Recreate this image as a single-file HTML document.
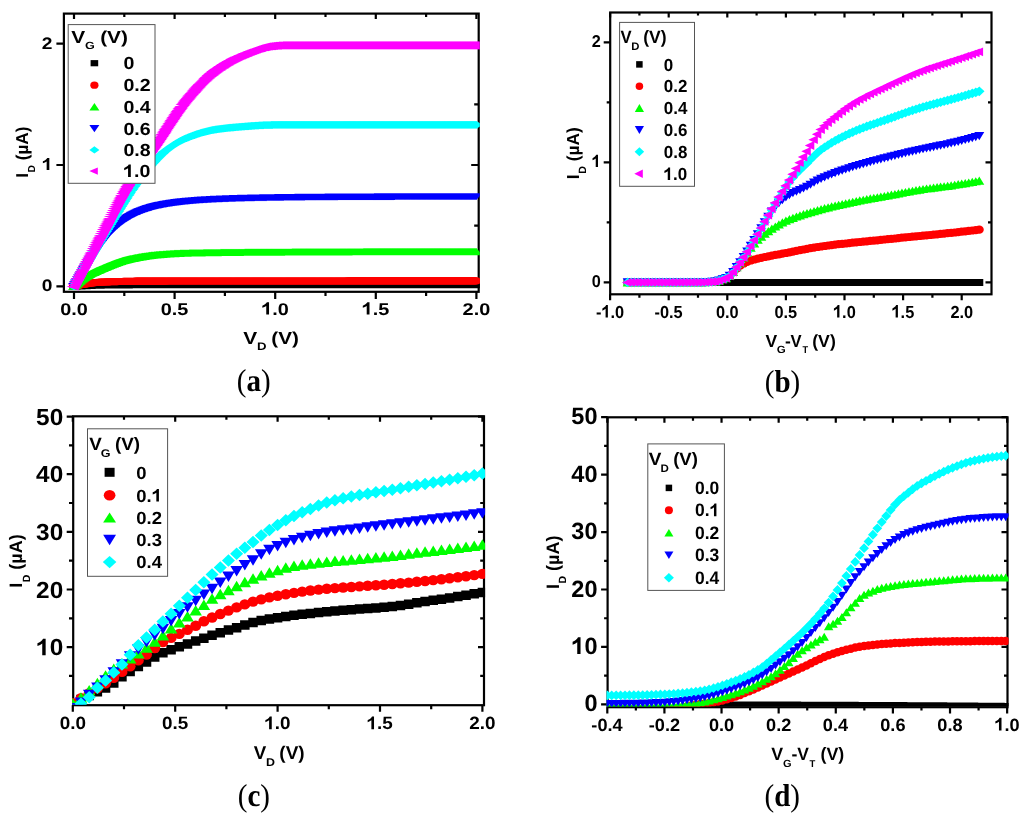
<!DOCTYPE html>
<html><head><meta charset="utf-8"><style>html,body{margin:0;padding:0;background:#fff;}body{width:1024px;height:820px;overflow:hidden;font-family:"Liberation Sans",sans-serif;}svg{display:block;}#root{filter:blur(0.35px);}text{text-rendering:geometricPrecision;}</style></head><body>
<svg id="root" width="1024" height="820" viewBox="0 0 1024 820">
<rect width="1024" height="820" fill="#fff"/>
<g>
<svg x="0" y="0" width="1024" height="820" overflow="visible">
<rect x="63.90" y="13.60" width="414.80" height="278.20" fill="none" stroke="#000" stroke-width="2.20"/>
<path stroke="#000" stroke-width="2.20" fill="none" d="M74.00 291.80v7.20M74.00 13.60v5.50M174.60 291.80v7.20M174.60 13.60v5.50M275.20 291.80v7.20M275.20 13.60v5.50M375.80 291.80v7.20M375.80 13.60v5.50M476.40 291.80v7.20M476.40 13.60v5.50"/>
<path stroke="#000" stroke-width="2.20" fill="none" d="M124.30 291.80v4.20M124.30 13.60v3.50M224.90 291.80v4.20M224.90 13.60v3.50M325.50 291.80v4.20M325.50 13.60v3.50M426.10 291.80v4.20M426.10 13.60v3.50"/>
<path stroke="#000" stroke-width="2.20" fill="none" d="M63.90 286.40h-7.50M478.70 286.40h-7.50M63.90 165.00h-7.50M478.70 165.00h-7.50M63.90 43.60h-7.50M478.70 43.60h-7.50"/>
<path stroke="#000" stroke-width="2.20" fill="none" d="M478.70 225.70h-4.50M478.70 104.30h-4.50"/>
<defs><clipPath id="ca"><rect x="62.8" y="12.5" width="417.0" height="280.4"/></clipPath></defs>
<g clip-path="url(#ca)">
<path fill="#000000" d="M69.50 283.00h9.00v6.80h-9.00zM70.51 282.94h9.00v6.80h-9.00zM71.51 282.88h9.00v6.80h-9.00zM72.52 282.82h9.00v6.80h-9.00zM73.52 282.76h9.00v6.80h-9.00zM74.53 282.70h9.00v6.80h-9.00zM75.54 282.64h9.00v6.80h-9.00zM76.54 282.59h9.00v6.80h-9.00zM77.55 282.53h9.00v6.80h-9.00zM78.55 282.48h9.00v6.80h-9.00zM79.56 282.43h9.00v6.80h-9.00zM80.57 282.38h9.00v6.80h-9.00zM81.57 282.33h9.00v6.80h-9.00zM82.58 282.28h9.00v6.80h-9.00zM83.58 282.24h9.00v6.80h-9.00zM84.59 282.19h9.00v6.80h-9.00zM85.60 282.15h9.00v6.80h-9.00zM86.60 282.11h9.00v6.80h-9.00zM87.61 282.07h9.00v6.80h-9.00zM88.61 282.04h9.00v6.80h-9.00zM89.62 282.01h9.00v6.80h-9.00zM90.63 281.97h9.00v6.80h-9.00zM91.63 281.94h9.00v6.80h-9.00zM92.64 281.92h9.00v6.80h-9.00zM93.64 281.89h9.00v6.80h-9.00zM94.65 281.87h9.00v6.80h-9.00zM95.66 281.84h9.00v6.80h-9.00zM96.66 281.82h9.00v6.80h-9.00zM97.67 281.80h9.00v6.80h-9.00zM98.67 281.78h9.00v6.80h-9.00zM99.68 281.76h9.00v6.80h-9.00zM100.69 281.75h9.00v6.80h-9.00zM101.69 281.73h9.00v6.80h-9.00zM102.70 281.72h9.00v6.80h-9.00zM103.70 281.71h9.00v6.80h-9.00zM104.71 281.69h9.00v6.80h-9.00zM105.72 281.68h9.00v6.80h-9.00zM106.72 281.67h9.00v6.80h-9.00zM107.73 281.66h9.00v6.80h-9.00zM108.73 281.65h9.00v6.80h-9.00zM109.74 281.64h9.00v6.80h-9.00zM110.75 281.64h9.00v6.80h-9.00zM111.75 281.63h9.00v6.80h-9.00zM112.76 281.62h9.00v6.80h-9.00zM113.76 281.62h9.00v6.80h-9.00zM114.77 281.61h9.00v6.80h-9.00zM115.78 281.60h9.00v6.80h-9.00zM116.78 281.60h9.00v6.80h-9.00zM117.79 281.60h9.00v6.80h-9.00zM118.79 281.59h9.00v6.80h-9.00zM119.80 281.59h9.00v6.80h-9.00zM120.81 281.58h9.00v6.80h-9.00zM121.81 281.58h9.00v6.80h-9.00zM122.82 281.58h9.00v6.80h-9.00zM123.82 281.58h9.00v6.80h-9.00zM124.83 281.57h9.00v6.80h-9.00zM125.84 281.57h9.00v6.80h-9.00zM126.84 281.57h9.00v6.80h-9.00zM127.85 281.57h9.00v6.80h-9.00zM128.85 281.56h9.00v6.80h-9.00zM129.86 281.56h9.00v6.80h-9.00zM130.87 281.56h9.00v6.80h-9.00zM131.87 281.56h9.00v6.80h-9.00zM132.88 281.56h9.00v6.80h-9.00zM133.88 281.56h9.00v6.80h-9.00zM134.89 281.56h9.00v6.80h-9.00zM135.90 281.56h9.00v6.80h-9.00zM136.90 281.55h9.00v6.80h-9.00zM137.91 281.55h9.00v6.80h-9.00zM138.91 281.55h9.00v6.80h-9.00zM139.92 281.55h9.00v6.80h-9.00zM140.93 281.55h9.00v6.80h-9.00zM141.93 281.55h9.00v6.80h-9.00zM142.94 281.55h9.00v6.80h-9.00zM143.94 281.55h9.00v6.80h-9.00zM144.95 281.55h9.00v6.80h-9.00zM145.96 281.55h9.00v6.80h-9.00zM146.96 281.55h9.00v6.80h-9.00zM147.97 281.55h9.00v6.80h-9.00zM148.97 281.55h9.00v6.80h-9.00zM149.98 281.55h9.00v6.80h-9.00zM150.99 281.55h9.00v6.80h-9.00zM151.99 281.55h9.00v6.80h-9.00zM153.00 281.55h9.00v6.80h-9.00zM154.00 281.55h9.00v6.80h-9.00zM155.01 281.55h9.00v6.80h-9.00zM156.02 281.55h9.00v6.80h-9.00zM157.02 281.55h9.00v6.80h-9.00zM158.03 281.55h9.00v6.80h-9.00zM159.03 281.54h9.00v6.80h-9.00zM160.04 281.54h9.00v6.80h-9.00zM161.05 281.54h9.00v6.80h-9.00zM162.05 281.54h9.00v6.80h-9.00zM163.06 281.54h9.00v6.80h-9.00zM164.06 281.54h9.00v6.80h-9.00zM165.07 281.54h9.00v6.80h-9.00zM166.08 281.54h9.00v6.80h-9.00zM167.08 281.54h9.00v6.80h-9.00zM168.09 281.54h9.00v6.80h-9.00zM169.09 281.54h9.00v6.80h-9.00zM170.10 281.54h9.00v6.80h-9.00zM171.11 281.54h9.00v6.80h-9.00zM172.11 281.54h9.00v6.80h-9.00zM173.12 281.54h9.00v6.80h-9.00zM174.12 281.54h9.00v6.80h-9.00zM175.13 281.54h9.00v6.80h-9.00zM176.14 281.54h9.00v6.80h-9.00zM177.14 281.54h9.00v6.80h-9.00zM178.15 281.54h9.00v6.80h-9.00zM179.15 281.54h9.00v6.80h-9.00zM180.16 281.54h9.00v6.80h-9.00zM181.17 281.54h9.00v6.80h-9.00zM182.17 281.54h9.00v6.80h-9.00zM183.18 281.54h9.00v6.80h-9.00zM184.18 281.54h9.00v6.80h-9.00zM185.19 281.54h9.00v6.80h-9.00zM186.20 281.54h9.00v6.80h-9.00zM187.20 281.54h9.00v6.80h-9.00zM188.21 281.54h9.00v6.80h-9.00zM189.21 281.54h9.00v6.80h-9.00zM190.22 281.54h9.00v6.80h-9.00zM191.23 281.54h9.00v6.80h-9.00zM192.23 281.54h9.00v6.80h-9.00zM193.24 281.54h9.00v6.80h-9.00zM194.24 281.54h9.00v6.80h-9.00zM195.25 281.54h9.00v6.80h-9.00zM196.26 281.54h9.00v6.80h-9.00zM197.26 281.54h9.00v6.80h-9.00zM198.27 281.54h9.00v6.80h-9.00zM199.27 281.54h9.00v6.80h-9.00zM200.28 281.54h9.00v6.80h-9.00zM201.29 281.54h9.00v6.80h-9.00zM202.29 281.54h9.00v6.80h-9.00zM203.30 281.54h9.00v6.80h-9.00zM204.30 281.54h9.00v6.80h-9.00zM205.31 281.54h9.00v6.80h-9.00zM206.32 281.54h9.00v6.80h-9.00zM207.32 281.54h9.00v6.80h-9.00zM208.33 281.54h9.00v6.80h-9.00zM209.33 281.54h9.00v6.80h-9.00zM210.34 281.54h9.00v6.80h-9.00zM211.35 281.54h9.00v6.80h-9.00zM212.35 281.54h9.00v6.80h-9.00zM213.36 281.54h9.00v6.80h-9.00zM214.36 281.54h9.00v6.80h-9.00zM215.37 281.54h9.00v6.80h-9.00zM216.38 281.54h9.00v6.80h-9.00zM217.38 281.54h9.00v6.80h-9.00zM218.39 281.54h9.00v6.80h-9.00zM219.39 281.54h9.00v6.80h-9.00zM220.40 281.54h9.00v6.80h-9.00zM221.41 281.54h9.00v6.80h-9.00zM222.41 281.54h9.00v6.80h-9.00zM223.42 281.54h9.00v6.80h-9.00zM224.42 281.54h9.00v6.80h-9.00zM225.43 281.54h9.00v6.80h-9.00zM226.44 281.54h9.00v6.80h-9.00zM227.44 281.54h9.00v6.80h-9.00zM228.45 281.54h9.00v6.80h-9.00zM229.45 281.54h9.00v6.80h-9.00zM230.46 281.54h9.00v6.80h-9.00zM231.47 281.54h9.00v6.80h-9.00zM232.47 281.54h9.00v6.80h-9.00zM233.48 281.54h9.00v6.80h-9.00zM234.48 281.54h9.00v6.80h-9.00zM235.49 281.54h9.00v6.80h-9.00zM236.50 281.54h9.00v6.80h-9.00zM237.50 281.54h9.00v6.80h-9.00zM238.51 281.54h9.00v6.80h-9.00zM239.51 281.54h9.00v6.80h-9.00zM240.52 281.54h9.00v6.80h-9.00zM241.53 281.54h9.00v6.80h-9.00zM242.53 281.54h9.00v6.80h-9.00zM243.54 281.54h9.00v6.80h-9.00zM244.54 281.54h9.00v6.80h-9.00zM245.55 281.54h9.00v6.80h-9.00zM246.56 281.54h9.00v6.80h-9.00zM247.56 281.54h9.00v6.80h-9.00zM248.57 281.54h9.00v6.80h-9.00zM249.57 281.54h9.00v6.80h-9.00zM250.58 281.54h9.00v6.80h-9.00zM251.59 281.54h9.00v6.80h-9.00zM252.59 281.54h9.00v6.80h-9.00zM253.60 281.54h9.00v6.80h-9.00zM254.60 281.54h9.00v6.80h-9.00zM255.61 281.54h9.00v6.80h-9.00zM256.62 281.54h9.00v6.80h-9.00zM257.62 281.54h9.00v6.80h-9.00zM258.63 281.54h9.00v6.80h-9.00zM259.63 281.54h9.00v6.80h-9.00zM260.64 281.54h9.00v6.80h-9.00zM261.65 281.54h9.00v6.80h-9.00zM262.65 281.54h9.00v6.80h-9.00zM263.66 281.54h9.00v6.80h-9.00zM264.66 281.54h9.00v6.80h-9.00zM265.67 281.54h9.00v6.80h-9.00zM266.68 281.54h9.00v6.80h-9.00zM267.68 281.54h9.00v6.80h-9.00zM268.69 281.54h9.00v6.80h-9.00zM269.69 281.54h9.00v6.80h-9.00zM270.70 281.54h9.00v6.80h-9.00zM271.71 281.54h9.00v6.80h-9.00zM272.71 281.54h9.00v6.80h-9.00zM273.72 281.54h9.00v6.80h-9.00zM274.72 281.54h9.00v6.80h-9.00zM275.73 281.54h9.00v6.80h-9.00zM276.74 281.54h9.00v6.80h-9.00zM277.74 281.54h9.00v6.80h-9.00zM278.75 281.54h9.00v6.80h-9.00zM279.75 281.54h9.00v6.80h-9.00zM280.76 281.54h9.00v6.80h-9.00zM281.77 281.54h9.00v6.80h-9.00zM282.77 281.54h9.00v6.80h-9.00zM283.78 281.54h9.00v6.80h-9.00zM284.78 281.54h9.00v6.80h-9.00zM285.79 281.54h9.00v6.80h-9.00zM286.80 281.54h9.00v6.80h-9.00zM287.80 281.54h9.00v6.80h-9.00zM288.81 281.54h9.00v6.80h-9.00zM289.81 281.54h9.00v6.80h-9.00zM290.82 281.54h9.00v6.80h-9.00zM291.83 281.54h9.00v6.80h-9.00zM292.83 281.54h9.00v6.80h-9.00zM293.84 281.54h9.00v6.80h-9.00zM294.84 281.54h9.00v6.80h-9.00zM295.85 281.54h9.00v6.80h-9.00zM296.86 281.54h9.00v6.80h-9.00zM297.86 281.54h9.00v6.80h-9.00zM298.87 281.54h9.00v6.80h-9.00zM299.87 281.54h9.00v6.80h-9.00zM300.88 281.54h9.00v6.80h-9.00zM301.89 281.54h9.00v6.80h-9.00zM302.89 281.54h9.00v6.80h-9.00zM303.90 281.54h9.00v6.80h-9.00zM304.90 281.54h9.00v6.80h-9.00zM305.91 281.54h9.00v6.80h-9.00zM306.92 281.54h9.00v6.80h-9.00zM307.92 281.54h9.00v6.80h-9.00zM308.93 281.54h9.00v6.80h-9.00zM309.93 281.54h9.00v6.80h-9.00zM310.94 281.54h9.00v6.80h-9.00zM311.95 281.54h9.00v6.80h-9.00zM312.95 281.54h9.00v6.80h-9.00zM313.96 281.54h9.00v6.80h-9.00zM314.96 281.54h9.00v6.80h-9.00zM315.97 281.54h9.00v6.80h-9.00zM316.98 281.54h9.00v6.80h-9.00zM317.98 281.54h9.00v6.80h-9.00zM318.99 281.54h9.00v6.80h-9.00zM319.99 281.54h9.00v6.80h-9.00zM321.00 281.54h9.00v6.80h-9.00zM322.01 281.54h9.00v6.80h-9.00zM323.01 281.54h9.00v6.80h-9.00zM324.02 281.54h9.00v6.80h-9.00zM325.02 281.54h9.00v6.80h-9.00zM326.03 281.54h9.00v6.80h-9.00zM327.04 281.54h9.00v6.80h-9.00zM328.04 281.54h9.00v6.80h-9.00zM329.05 281.54h9.00v6.80h-9.00zM330.05 281.54h9.00v6.80h-9.00zM331.06 281.54h9.00v6.80h-9.00zM332.07 281.54h9.00v6.80h-9.00zM333.07 281.54h9.00v6.80h-9.00zM334.08 281.54h9.00v6.80h-9.00zM335.08 281.54h9.00v6.80h-9.00zM336.09 281.54h9.00v6.80h-9.00zM337.10 281.54h9.00v6.80h-9.00zM338.10 281.54h9.00v6.80h-9.00zM339.11 281.54h9.00v6.80h-9.00zM340.11 281.54h9.00v6.80h-9.00zM341.12 281.54h9.00v6.80h-9.00zM342.13 281.54h9.00v6.80h-9.00zM343.13 281.54h9.00v6.80h-9.00zM344.14 281.54h9.00v6.80h-9.00zM345.14 281.54h9.00v6.80h-9.00zM346.15 281.54h9.00v6.80h-9.00zM347.16 281.54h9.00v6.80h-9.00zM348.16 281.54h9.00v6.80h-9.00zM349.17 281.54h9.00v6.80h-9.00zM350.17 281.54h9.00v6.80h-9.00zM351.18 281.54h9.00v6.80h-9.00zM352.19 281.54h9.00v6.80h-9.00zM353.19 281.54h9.00v6.80h-9.00zM354.20 281.54h9.00v6.80h-9.00zM355.20 281.54h9.00v6.80h-9.00zM356.21 281.54h9.00v6.80h-9.00zM357.22 281.54h9.00v6.80h-9.00zM358.22 281.54h9.00v6.80h-9.00zM359.23 281.54h9.00v6.80h-9.00zM360.23 281.54h9.00v6.80h-9.00zM361.24 281.54h9.00v6.80h-9.00zM362.25 281.54h9.00v6.80h-9.00zM363.25 281.54h9.00v6.80h-9.00zM364.26 281.54h9.00v6.80h-9.00zM365.26 281.54h9.00v6.80h-9.00zM366.27 281.54h9.00v6.80h-9.00zM367.28 281.54h9.00v6.80h-9.00zM368.28 281.54h9.00v6.80h-9.00zM369.29 281.54h9.00v6.80h-9.00zM370.29 281.54h9.00v6.80h-9.00zM371.30 281.54h9.00v6.80h-9.00zM372.31 281.54h9.00v6.80h-9.00zM373.31 281.54h9.00v6.80h-9.00zM374.32 281.54h9.00v6.80h-9.00zM375.32 281.54h9.00v6.80h-9.00zM376.33 281.54h9.00v6.80h-9.00zM377.34 281.54h9.00v6.80h-9.00zM378.34 281.54h9.00v6.80h-9.00zM379.35 281.54h9.00v6.80h-9.00zM380.35 281.54h9.00v6.80h-9.00zM381.36 281.54h9.00v6.80h-9.00zM382.37 281.54h9.00v6.80h-9.00zM383.37 281.54h9.00v6.80h-9.00zM384.38 281.54h9.00v6.80h-9.00zM385.38 281.54h9.00v6.80h-9.00zM386.39 281.54h9.00v6.80h-9.00zM387.40 281.54h9.00v6.80h-9.00zM388.40 281.54h9.00v6.80h-9.00zM389.41 281.54h9.00v6.80h-9.00zM390.41 281.54h9.00v6.80h-9.00zM391.42 281.54h9.00v6.80h-9.00zM392.43 281.54h9.00v6.80h-9.00zM393.43 281.54h9.00v6.80h-9.00zM394.44 281.54h9.00v6.80h-9.00zM395.44 281.54h9.00v6.80h-9.00zM396.45 281.54h9.00v6.80h-9.00zM397.46 281.54h9.00v6.80h-9.00zM398.46 281.54h9.00v6.80h-9.00zM399.47 281.54h9.00v6.80h-9.00zM400.47 281.54h9.00v6.80h-9.00zM401.48 281.54h9.00v6.80h-9.00zM402.49 281.54h9.00v6.80h-9.00zM403.49 281.54h9.00v6.80h-9.00zM404.50 281.54h9.00v6.80h-9.00zM405.50 281.54h9.00v6.80h-9.00zM406.51 281.54h9.00v6.80h-9.00zM407.52 281.54h9.00v6.80h-9.00zM408.52 281.54h9.00v6.80h-9.00zM409.53 281.54h9.00v6.80h-9.00zM410.53 281.54h9.00v6.80h-9.00zM411.54 281.54h9.00v6.80h-9.00zM412.55 281.54h9.00v6.80h-9.00zM413.55 281.54h9.00v6.80h-9.00zM414.56 281.54h9.00v6.80h-9.00zM415.56 281.54h9.00v6.80h-9.00zM416.57 281.54h9.00v6.80h-9.00zM417.58 281.54h9.00v6.80h-9.00zM418.58 281.54h9.00v6.80h-9.00zM419.59 281.54h9.00v6.80h-9.00zM420.59 281.54h9.00v6.80h-9.00zM421.60 281.54h9.00v6.80h-9.00zM422.61 281.54h9.00v6.80h-9.00zM423.61 281.54h9.00v6.80h-9.00zM424.62 281.54h9.00v6.80h-9.00zM425.62 281.54h9.00v6.80h-9.00zM426.63 281.54h9.00v6.80h-9.00zM427.64 281.54h9.00v6.80h-9.00zM428.64 281.54h9.00v6.80h-9.00zM429.65 281.54h9.00v6.80h-9.00zM430.65 281.54h9.00v6.80h-9.00zM431.66 281.54h9.00v6.80h-9.00zM432.67 281.54h9.00v6.80h-9.00zM433.67 281.54h9.00v6.80h-9.00zM434.68 281.54h9.00v6.80h-9.00zM435.68 281.54h9.00v6.80h-9.00zM436.69 281.54h9.00v6.80h-9.00zM437.70 281.54h9.00v6.80h-9.00zM438.70 281.54h9.00v6.80h-9.00zM439.71 281.54h9.00v6.80h-9.00zM440.71 281.54h9.00v6.80h-9.00zM441.72 281.54h9.00v6.80h-9.00zM442.73 281.54h9.00v6.80h-9.00zM443.73 281.54h9.00v6.80h-9.00zM444.74 281.54h9.00v6.80h-9.00zM445.74 281.54h9.00v6.80h-9.00zM446.75 281.54h9.00v6.80h-9.00zM447.76 281.54h9.00v6.80h-9.00zM448.76 281.54h9.00v6.80h-9.00zM449.77 281.54h9.00v6.80h-9.00zM450.77 281.54h9.00v6.80h-9.00zM451.78 281.54h9.00v6.80h-9.00zM452.79 281.54h9.00v6.80h-9.00zM453.79 281.54h9.00v6.80h-9.00zM454.80 281.54h9.00v6.80h-9.00zM455.80 281.54h9.00v6.80h-9.00zM456.81 281.54h9.00v6.80h-9.00zM457.82 281.54h9.00v6.80h-9.00zM458.82 281.54h9.00v6.80h-9.00zM459.83 281.54h9.00v6.80h-9.00zM460.83 281.54h9.00v6.80h-9.00zM461.84 281.54h9.00v6.80h-9.00zM462.85 281.54h9.00v6.80h-9.00zM463.85 281.54h9.00v6.80h-9.00zM464.86 281.54h9.00v6.80h-9.00zM465.86 281.54h9.00v6.80h-9.00zM466.87 281.54h9.00v6.80h-9.00zM467.88 281.54h9.00v6.80h-9.00zM468.88 281.54h9.00v6.80h-9.00zM469.89 281.54h9.00v6.80h-9.00zM470.89 281.54h9.00v6.80h-9.00zM471.90 281.54h9.00v6.80h-9.00z"/>
<g fill="#ff0000">
<ellipse cx="74.0" cy="286.4" rx="5.25" ry="3.60"/>
<ellipse cx="75.0" cy="286.1" rx="5.25" ry="3.60"/>
<ellipse cx="76.0" cy="285.9" rx="5.25" ry="3.60"/>
<ellipse cx="77.0" cy="285.7" rx="5.25" ry="3.60"/>
<ellipse cx="78.0" cy="285.4" rx="5.25" ry="3.60"/>
<ellipse cx="79.0" cy="285.2" rx="5.25" ry="3.60"/>
<ellipse cx="80.0" cy="285.0" rx="5.25" ry="3.60"/>
<ellipse cx="81.0" cy="284.8" rx="5.25" ry="3.60"/>
<ellipse cx="82.0" cy="284.6" rx="5.25" ry="3.60"/>
<ellipse cx="83.1" cy="284.4" rx="5.25" ry="3.60"/>
<ellipse cx="84.1" cy="284.2" rx="5.25" ry="3.60"/>
<ellipse cx="85.1" cy="284.1" rx="5.25" ry="3.60"/>
<ellipse cx="86.1" cy="283.9" rx="5.25" ry="3.60"/>
<ellipse cx="87.1" cy="283.7" rx="5.25" ry="3.60"/>
<ellipse cx="88.1" cy="283.6" rx="5.25" ry="3.60"/>
<ellipse cx="89.1" cy="283.4" rx="5.25" ry="3.60"/>
<ellipse cx="90.1" cy="283.3" rx="5.25" ry="3.60"/>
<ellipse cx="91.1" cy="283.1" rx="5.25" ry="3.60"/>
<ellipse cx="92.1" cy="283.0" rx="5.25" ry="3.60"/>
<ellipse cx="93.1" cy="282.9" rx="5.25" ry="3.60"/>
<ellipse cx="94.1" cy="282.7" rx="5.25" ry="3.60"/>
<ellipse cx="95.1" cy="282.6" rx="5.25" ry="3.60"/>
<ellipse cx="96.1" cy="282.5" rx="5.25" ry="3.60"/>
<ellipse cx="97.1" cy="282.4" rx="5.25" ry="3.60"/>
<ellipse cx="98.1" cy="282.4" rx="5.25" ry="3.60"/>
<ellipse cx="99.2" cy="282.3" rx="5.25" ry="3.60"/>
<ellipse cx="100.2" cy="282.2" rx="5.25" ry="3.60"/>
<ellipse cx="101.2" cy="282.2" rx="5.25" ry="3.60"/>
<ellipse cx="102.2" cy="282.1" rx="5.25" ry="3.60"/>
<ellipse cx="103.2" cy="282.1" rx="5.25" ry="3.60"/>
<ellipse cx="104.2" cy="282.0" rx="5.25" ry="3.60"/>
<ellipse cx="105.2" cy="282.0" rx="5.25" ry="3.60"/>
<ellipse cx="106.2" cy="281.9" rx="5.25" ry="3.60"/>
<ellipse cx="107.2" cy="281.9" rx="5.25" ry="3.60"/>
<ellipse cx="108.2" cy="281.9" rx="5.25" ry="3.60"/>
<ellipse cx="109.2" cy="281.8" rx="5.25" ry="3.60"/>
<ellipse cx="110.2" cy="281.8" rx="5.25" ry="3.60"/>
<ellipse cx="111.2" cy="281.7" rx="5.25" ry="3.60"/>
<ellipse cx="112.2" cy="281.7" rx="5.25" ry="3.60"/>
<ellipse cx="113.2" cy="281.7" rx="5.25" ry="3.60"/>
<ellipse cx="114.2" cy="281.6" rx="5.25" ry="3.60"/>
<ellipse cx="115.2" cy="281.6" rx="5.25" ry="3.60"/>
<ellipse cx="116.3" cy="281.6" rx="5.25" ry="3.60"/>
<ellipse cx="117.3" cy="281.6" rx="5.25" ry="3.60"/>
<ellipse cx="118.3" cy="281.5" rx="5.25" ry="3.60"/>
<ellipse cx="119.3" cy="281.5" rx="5.25" ry="3.60"/>
<ellipse cx="120.3" cy="281.5" rx="5.25" ry="3.60"/>
<ellipse cx="121.3" cy="281.5" rx="5.25" ry="3.60"/>
<ellipse cx="122.3" cy="281.5" rx="5.25" ry="3.60"/>
<ellipse cx="123.3" cy="281.4" rx="5.25" ry="3.60"/>
<ellipse cx="124.3" cy="281.4" rx="5.25" ry="3.60"/>
<ellipse cx="125.3" cy="281.4" rx="5.25" ry="3.60"/>
<ellipse cx="126.3" cy="281.4" rx="5.25" ry="3.60"/>
<ellipse cx="127.3" cy="281.4" rx="5.25" ry="3.60"/>
<ellipse cx="128.3" cy="281.4" rx="5.25" ry="3.60"/>
<ellipse cx="129.3" cy="281.3" rx="5.25" ry="3.60"/>
<ellipse cx="130.3" cy="281.3" rx="5.25" ry="3.60"/>
<ellipse cx="131.3" cy="281.3" rx="5.25" ry="3.60"/>
<ellipse cx="132.3" cy="281.3" rx="5.25" ry="3.60"/>
<ellipse cx="133.4" cy="281.3" rx="5.25" ry="3.60"/>
<ellipse cx="134.4" cy="281.3" rx="5.25" ry="3.60"/>
<ellipse cx="135.4" cy="281.2" rx="5.25" ry="3.60"/>
<ellipse cx="136.4" cy="281.2" rx="5.25" ry="3.60"/>
<ellipse cx="137.4" cy="281.2" rx="5.25" ry="3.60"/>
<ellipse cx="138.4" cy="281.2" rx="5.25" ry="3.60"/>
<ellipse cx="139.4" cy="281.2" rx="5.25" ry="3.60"/>
<ellipse cx="140.4" cy="281.2" rx="5.25" ry="3.60"/>
<ellipse cx="141.4" cy="281.2" rx="5.25" ry="3.60"/>
<ellipse cx="142.4" cy="281.2" rx="5.25" ry="3.60"/>
<ellipse cx="143.4" cy="281.1" rx="5.25" ry="3.60"/>
<ellipse cx="144.4" cy="281.1" rx="5.25" ry="3.60"/>
<ellipse cx="145.4" cy="281.1" rx="5.25" ry="3.60"/>
<ellipse cx="146.4" cy="281.1" rx="5.25" ry="3.60"/>
<ellipse cx="147.4" cy="281.1" rx="5.25" ry="3.60"/>
<ellipse cx="148.4" cy="281.1" rx="5.25" ry="3.60"/>
<ellipse cx="149.4" cy="281.1" rx="5.25" ry="3.60"/>
<ellipse cx="150.5" cy="281.1" rx="5.25" ry="3.60"/>
<ellipse cx="151.5" cy="281.1" rx="5.25" ry="3.60"/>
<ellipse cx="152.5" cy="281.1" rx="5.25" ry="3.60"/>
<ellipse cx="153.5" cy="281.1" rx="5.25" ry="3.60"/>
<ellipse cx="154.5" cy="281.1" rx="5.25" ry="3.60"/>
<ellipse cx="155.5" cy="281.1" rx="5.25" ry="3.60"/>
<ellipse cx="156.5" cy="281.1" rx="5.25" ry="3.60"/>
<ellipse cx="157.5" cy="281.1" rx="5.25" ry="3.60"/>
<ellipse cx="158.5" cy="281.1" rx="5.25" ry="3.60"/>
<ellipse cx="159.5" cy="281.1" rx="5.25" ry="3.60"/>
<ellipse cx="160.5" cy="281.1" rx="5.25" ry="3.60"/>
<ellipse cx="161.5" cy="281.1" rx="5.25" ry="3.60"/>
<ellipse cx="162.5" cy="281.1" rx="5.25" ry="3.60"/>
<ellipse cx="163.5" cy="281.1" rx="5.25" ry="3.60"/>
<ellipse cx="164.5" cy="281.1" rx="5.25" ry="3.60"/>
<ellipse cx="165.5" cy="281.1" rx="5.25" ry="3.60"/>
<ellipse cx="166.6" cy="281.1" rx="5.25" ry="3.60"/>
<ellipse cx="167.6" cy="281.0" rx="5.25" ry="3.60"/>
<ellipse cx="168.6" cy="281.0" rx="5.25" ry="3.60"/>
<ellipse cx="169.6" cy="281.0" rx="5.25" ry="3.60"/>
<ellipse cx="170.6" cy="281.0" rx="5.25" ry="3.60"/>
<ellipse cx="171.6" cy="281.0" rx="5.25" ry="3.60"/>
<ellipse cx="172.6" cy="281.0" rx="5.25" ry="3.60"/>
<ellipse cx="173.6" cy="281.0" rx="5.25" ry="3.60"/>
<ellipse cx="174.6" cy="281.0" rx="5.25" ry="3.60"/>
<ellipse cx="175.6" cy="281.0" rx="5.25" ry="3.60"/>
<ellipse cx="176.6" cy="281.0" rx="5.25" ry="3.60"/>
<ellipse cx="177.6" cy="281.0" rx="5.25" ry="3.60"/>
<ellipse cx="178.6" cy="281.0" rx="5.25" ry="3.60"/>
<ellipse cx="179.6" cy="281.0" rx="5.25" ry="3.60"/>
<ellipse cx="180.6" cy="281.0" rx="5.25" ry="3.60"/>
<ellipse cx="181.6" cy="281.0" rx="5.25" ry="3.60"/>
<ellipse cx="182.6" cy="281.0" rx="5.25" ry="3.60"/>
<ellipse cx="183.7" cy="281.0" rx="5.25" ry="3.60"/>
<ellipse cx="184.7" cy="281.0" rx="5.25" ry="3.60"/>
<ellipse cx="185.7" cy="281.0" rx="5.25" ry="3.60"/>
<ellipse cx="186.7" cy="281.0" rx="5.25" ry="3.60"/>
<ellipse cx="187.7" cy="281.0" rx="5.25" ry="3.60"/>
<ellipse cx="188.7" cy="281.0" rx="5.25" ry="3.60"/>
<ellipse cx="189.7" cy="281.0" rx="5.25" ry="3.60"/>
<ellipse cx="190.7" cy="281.0" rx="5.25" ry="3.60"/>
<ellipse cx="191.7" cy="281.0" rx="5.25" ry="3.60"/>
<ellipse cx="192.7" cy="281.0" rx="5.25" ry="3.60"/>
<ellipse cx="193.7" cy="281.0" rx="5.25" ry="3.60"/>
<ellipse cx="194.7" cy="281.0" rx="5.25" ry="3.60"/>
<ellipse cx="195.7" cy="281.0" rx="5.25" ry="3.60"/>
<ellipse cx="196.7" cy="281.0" rx="5.25" ry="3.60"/>
<ellipse cx="197.7" cy="281.0" rx="5.25" ry="3.60"/>
<ellipse cx="198.7" cy="281.0" rx="5.25" ry="3.60"/>
<ellipse cx="199.8" cy="281.0" rx="5.25" ry="3.60"/>
<ellipse cx="200.8" cy="281.0" rx="5.25" ry="3.60"/>
<ellipse cx="201.8" cy="281.0" rx="5.25" ry="3.60"/>
<ellipse cx="202.8" cy="281.0" rx="5.25" ry="3.60"/>
<ellipse cx="203.8" cy="281.0" rx="5.25" ry="3.60"/>
<ellipse cx="204.8" cy="281.0" rx="5.25" ry="3.60"/>
<ellipse cx="205.8" cy="281.0" rx="5.25" ry="3.60"/>
<ellipse cx="206.8" cy="281.0" rx="5.25" ry="3.60"/>
<ellipse cx="207.8" cy="281.0" rx="5.25" ry="3.60"/>
<ellipse cx="208.8" cy="281.0" rx="5.25" ry="3.60"/>
<ellipse cx="209.8" cy="281.0" rx="5.25" ry="3.60"/>
<ellipse cx="210.8" cy="281.0" rx="5.25" ry="3.60"/>
<ellipse cx="211.8" cy="281.0" rx="5.25" ry="3.60"/>
<ellipse cx="212.8" cy="281.0" rx="5.25" ry="3.60"/>
<ellipse cx="213.8" cy="281.0" rx="5.25" ry="3.60"/>
<ellipse cx="214.8" cy="281.0" rx="5.25" ry="3.60"/>
<ellipse cx="215.8" cy="281.0" rx="5.25" ry="3.60"/>
<ellipse cx="216.9" cy="281.0" rx="5.25" ry="3.60"/>
<ellipse cx="217.9" cy="281.0" rx="5.25" ry="3.60"/>
<ellipse cx="218.9" cy="281.0" rx="5.25" ry="3.60"/>
<ellipse cx="219.9" cy="281.0" rx="5.25" ry="3.60"/>
<ellipse cx="220.9" cy="281.0" rx="5.25" ry="3.60"/>
<ellipse cx="221.9" cy="281.0" rx="5.25" ry="3.60"/>
<ellipse cx="222.9" cy="281.0" rx="5.25" ry="3.60"/>
<ellipse cx="223.9" cy="281.0" rx="5.25" ry="3.60"/>
<ellipse cx="224.9" cy="281.0" rx="5.25" ry="3.60"/>
<ellipse cx="225.9" cy="281.0" rx="5.25" ry="3.60"/>
<ellipse cx="226.9" cy="281.0" rx="5.25" ry="3.60"/>
<ellipse cx="227.9" cy="281.0" rx="5.25" ry="3.60"/>
<ellipse cx="228.9" cy="281.0" rx="5.25" ry="3.60"/>
<ellipse cx="229.9" cy="281.0" rx="5.25" ry="3.60"/>
<ellipse cx="230.9" cy="281.0" rx="5.25" ry="3.60"/>
<ellipse cx="231.9" cy="281.0" rx="5.25" ry="3.60"/>
<ellipse cx="232.9" cy="281.0" rx="5.25" ry="3.60"/>
<ellipse cx="234.0" cy="281.0" rx="5.25" ry="3.60"/>
<ellipse cx="235.0" cy="281.0" rx="5.25" ry="3.60"/>
<ellipse cx="236.0" cy="281.0" rx="5.25" ry="3.60"/>
<ellipse cx="237.0" cy="281.0" rx="5.25" ry="3.60"/>
<ellipse cx="238.0" cy="281.0" rx="5.25" ry="3.60"/>
<ellipse cx="239.0" cy="281.0" rx="5.25" ry="3.60"/>
<ellipse cx="240.0" cy="281.0" rx="5.25" ry="3.60"/>
<ellipse cx="241.0" cy="281.0" rx="5.25" ry="3.60"/>
<ellipse cx="242.0" cy="281.0" rx="5.25" ry="3.60"/>
<ellipse cx="243.0" cy="281.0" rx="5.25" ry="3.60"/>
<ellipse cx="244.0" cy="281.0" rx="5.25" ry="3.60"/>
<ellipse cx="245.0" cy="281.0" rx="5.25" ry="3.60"/>
<ellipse cx="246.0" cy="281.0" rx="5.25" ry="3.60"/>
<ellipse cx="247.0" cy="281.0" rx="5.25" ry="3.60"/>
<ellipse cx="248.0" cy="281.0" rx="5.25" ry="3.60"/>
<ellipse cx="249.0" cy="281.0" rx="5.25" ry="3.60"/>
<ellipse cx="250.0" cy="281.0" rx="5.25" ry="3.60"/>
<ellipse cx="251.1" cy="281.0" rx="5.25" ry="3.60"/>
<ellipse cx="252.1" cy="281.0" rx="5.25" ry="3.60"/>
<ellipse cx="253.1" cy="281.0" rx="5.25" ry="3.60"/>
<ellipse cx="254.1" cy="281.0" rx="5.25" ry="3.60"/>
<ellipse cx="255.1" cy="281.0" rx="5.25" ry="3.60"/>
<ellipse cx="256.1" cy="281.0" rx="5.25" ry="3.60"/>
<ellipse cx="257.1" cy="281.0" rx="5.25" ry="3.60"/>
<ellipse cx="258.1" cy="281.0" rx="5.25" ry="3.60"/>
<ellipse cx="259.1" cy="281.0" rx="5.25" ry="3.60"/>
<ellipse cx="260.1" cy="281.0" rx="5.25" ry="3.60"/>
<ellipse cx="261.1" cy="281.0" rx="5.25" ry="3.60"/>
<ellipse cx="262.1" cy="281.0" rx="5.25" ry="3.60"/>
<ellipse cx="263.1" cy="281.0" rx="5.25" ry="3.60"/>
<ellipse cx="264.1" cy="281.0" rx="5.25" ry="3.60"/>
<ellipse cx="265.1" cy="281.0" rx="5.25" ry="3.60"/>
<ellipse cx="266.1" cy="281.0" rx="5.25" ry="3.60"/>
<ellipse cx="267.2" cy="281.0" rx="5.25" ry="3.60"/>
<ellipse cx="268.2" cy="281.0" rx="5.25" ry="3.60"/>
<ellipse cx="269.2" cy="281.0" rx="5.25" ry="3.60"/>
<ellipse cx="270.2" cy="281.0" rx="5.25" ry="3.60"/>
<ellipse cx="271.2" cy="281.0" rx="5.25" ry="3.60"/>
<ellipse cx="272.2" cy="281.0" rx="5.25" ry="3.60"/>
<ellipse cx="273.2" cy="281.0" rx="5.25" ry="3.60"/>
<ellipse cx="274.2" cy="281.0" rx="5.25" ry="3.60"/>
<ellipse cx="275.2" cy="281.0" rx="5.25" ry="3.60"/>
<ellipse cx="276.2" cy="281.0" rx="5.25" ry="3.60"/>
<ellipse cx="277.2" cy="281.0" rx="5.25" ry="3.60"/>
<ellipse cx="278.2" cy="281.0" rx="5.25" ry="3.60"/>
<ellipse cx="279.2" cy="281.0" rx="5.25" ry="3.60"/>
<ellipse cx="280.2" cy="281.0" rx="5.25" ry="3.60"/>
<ellipse cx="281.2" cy="281.0" rx="5.25" ry="3.60"/>
<ellipse cx="282.2" cy="281.0" rx="5.25" ry="3.60"/>
<ellipse cx="283.2" cy="281.0" rx="5.25" ry="3.60"/>
<ellipse cx="284.3" cy="281.0" rx="5.25" ry="3.60"/>
<ellipse cx="285.3" cy="281.0" rx="5.25" ry="3.60"/>
<ellipse cx="286.3" cy="281.0" rx="5.25" ry="3.60"/>
<ellipse cx="287.3" cy="281.0" rx="5.25" ry="3.60"/>
<ellipse cx="288.3" cy="281.0" rx="5.25" ry="3.60"/>
<ellipse cx="289.3" cy="281.0" rx="5.25" ry="3.60"/>
<ellipse cx="290.3" cy="281.0" rx="5.25" ry="3.60"/>
<ellipse cx="291.3" cy="281.0" rx="5.25" ry="3.60"/>
<ellipse cx="292.3" cy="281.0" rx="5.25" ry="3.60"/>
<ellipse cx="293.3" cy="281.0" rx="5.25" ry="3.60"/>
<ellipse cx="294.3" cy="281.0" rx="5.25" ry="3.60"/>
<ellipse cx="295.3" cy="281.0" rx="5.25" ry="3.60"/>
<ellipse cx="296.3" cy="281.0" rx="5.25" ry="3.60"/>
<ellipse cx="297.3" cy="281.0" rx="5.25" ry="3.60"/>
<ellipse cx="298.3" cy="281.0" rx="5.25" ry="3.60"/>
<ellipse cx="299.3" cy="281.0" rx="5.25" ry="3.60"/>
<ellipse cx="300.4" cy="281.0" rx="5.25" ry="3.60"/>
<ellipse cx="301.4" cy="281.0" rx="5.25" ry="3.60"/>
<ellipse cx="302.4" cy="281.0" rx="5.25" ry="3.60"/>
<ellipse cx="303.4" cy="281.0" rx="5.25" ry="3.60"/>
<ellipse cx="304.4" cy="281.0" rx="5.25" ry="3.60"/>
<ellipse cx="305.4" cy="281.0" rx="5.25" ry="3.60"/>
<ellipse cx="306.4" cy="281.0" rx="5.25" ry="3.60"/>
<ellipse cx="307.4" cy="281.0" rx="5.25" ry="3.60"/>
<ellipse cx="308.4" cy="281.0" rx="5.25" ry="3.60"/>
<ellipse cx="309.4" cy="281.0" rx="5.25" ry="3.60"/>
<ellipse cx="310.4" cy="281.0" rx="5.25" ry="3.60"/>
<ellipse cx="311.4" cy="281.0" rx="5.25" ry="3.60"/>
<ellipse cx="312.4" cy="281.0" rx="5.25" ry="3.60"/>
<ellipse cx="313.4" cy="281.0" rx="5.25" ry="3.60"/>
<ellipse cx="314.4" cy="281.0" rx="5.25" ry="3.60"/>
<ellipse cx="315.4" cy="281.0" rx="5.25" ry="3.60"/>
<ellipse cx="316.4" cy="281.0" rx="5.25" ry="3.60"/>
<ellipse cx="317.5" cy="281.0" rx="5.25" ry="3.60"/>
<ellipse cx="318.5" cy="281.0" rx="5.25" ry="3.60"/>
<ellipse cx="319.5" cy="281.0" rx="5.25" ry="3.60"/>
<ellipse cx="320.5" cy="281.0" rx="5.25" ry="3.60"/>
<ellipse cx="321.5" cy="281.0" rx="5.25" ry="3.60"/>
<ellipse cx="322.5" cy="281.0" rx="5.25" ry="3.60"/>
<ellipse cx="323.5" cy="281.0" rx="5.25" ry="3.60"/>
<ellipse cx="324.5" cy="281.0" rx="5.25" ry="3.60"/>
<ellipse cx="325.5" cy="281.0" rx="5.25" ry="3.60"/>
<ellipse cx="326.5" cy="281.0" rx="5.25" ry="3.60"/>
<ellipse cx="327.5" cy="281.0" rx="5.25" ry="3.60"/>
<ellipse cx="328.5" cy="281.0" rx="5.25" ry="3.60"/>
<ellipse cx="329.5" cy="281.0" rx="5.25" ry="3.60"/>
<ellipse cx="330.5" cy="281.0" rx="5.25" ry="3.60"/>
<ellipse cx="331.5" cy="281.0" rx="5.25" ry="3.60"/>
<ellipse cx="332.5" cy="281.0" rx="5.25" ry="3.60"/>
<ellipse cx="333.5" cy="281.0" rx="5.25" ry="3.60"/>
<ellipse cx="334.6" cy="281.0" rx="5.25" ry="3.60"/>
<ellipse cx="335.6" cy="281.0" rx="5.25" ry="3.60"/>
<ellipse cx="336.6" cy="281.0" rx="5.25" ry="3.60"/>
<ellipse cx="337.6" cy="281.0" rx="5.25" ry="3.60"/>
<ellipse cx="338.6" cy="281.0" rx="5.25" ry="3.60"/>
<ellipse cx="339.6" cy="281.0" rx="5.25" ry="3.60"/>
<ellipse cx="340.6" cy="281.0" rx="5.25" ry="3.60"/>
<ellipse cx="341.6" cy="281.0" rx="5.25" ry="3.60"/>
<ellipse cx="342.6" cy="281.0" rx="5.25" ry="3.60"/>
<ellipse cx="343.6" cy="281.0" rx="5.25" ry="3.60"/>
<ellipse cx="344.6" cy="281.0" rx="5.25" ry="3.60"/>
<ellipse cx="345.6" cy="281.0" rx="5.25" ry="3.60"/>
<ellipse cx="346.6" cy="281.0" rx="5.25" ry="3.60"/>
<ellipse cx="347.6" cy="280.9" rx="5.25" ry="3.60"/>
<ellipse cx="348.6" cy="280.9" rx="5.25" ry="3.60"/>
<ellipse cx="349.6" cy="280.9" rx="5.25" ry="3.60"/>
<ellipse cx="350.6" cy="280.9" rx="5.25" ry="3.60"/>
<ellipse cx="351.7" cy="280.9" rx="5.25" ry="3.60"/>
<ellipse cx="352.7" cy="280.9" rx="5.25" ry="3.60"/>
<ellipse cx="353.7" cy="280.9" rx="5.25" ry="3.60"/>
<ellipse cx="354.7" cy="280.9" rx="5.25" ry="3.60"/>
<ellipse cx="355.7" cy="280.9" rx="5.25" ry="3.60"/>
<ellipse cx="356.7" cy="280.9" rx="5.25" ry="3.60"/>
<ellipse cx="357.7" cy="280.9" rx="5.25" ry="3.60"/>
<ellipse cx="358.7" cy="280.9" rx="5.25" ry="3.60"/>
<ellipse cx="359.7" cy="280.9" rx="5.25" ry="3.60"/>
<ellipse cx="360.7" cy="280.9" rx="5.25" ry="3.60"/>
<ellipse cx="361.7" cy="280.9" rx="5.25" ry="3.60"/>
<ellipse cx="362.7" cy="280.9" rx="5.25" ry="3.60"/>
<ellipse cx="363.7" cy="280.9" rx="5.25" ry="3.60"/>
<ellipse cx="364.7" cy="280.9" rx="5.25" ry="3.60"/>
<ellipse cx="365.7" cy="280.9" rx="5.25" ry="3.60"/>
<ellipse cx="366.7" cy="280.9" rx="5.25" ry="3.60"/>
<ellipse cx="367.8" cy="280.9" rx="5.25" ry="3.60"/>
<ellipse cx="368.8" cy="280.9" rx="5.25" ry="3.60"/>
<ellipse cx="369.8" cy="280.9" rx="5.25" ry="3.60"/>
<ellipse cx="370.8" cy="280.9" rx="5.25" ry="3.60"/>
<ellipse cx="371.8" cy="280.9" rx="5.25" ry="3.60"/>
<ellipse cx="372.8" cy="280.9" rx="5.25" ry="3.60"/>
<ellipse cx="373.8" cy="280.9" rx="5.25" ry="3.60"/>
<ellipse cx="374.8" cy="280.9" rx="5.25" ry="3.60"/>
<ellipse cx="375.8" cy="280.9" rx="5.25" ry="3.60"/>
<ellipse cx="376.8" cy="280.9" rx="5.25" ry="3.60"/>
<ellipse cx="377.8" cy="280.9" rx="5.25" ry="3.60"/>
<ellipse cx="378.8" cy="280.9" rx="5.25" ry="3.60"/>
<ellipse cx="379.8" cy="280.9" rx="5.25" ry="3.60"/>
<ellipse cx="380.8" cy="280.9" rx="5.25" ry="3.60"/>
<ellipse cx="381.8" cy="280.9" rx="5.25" ry="3.60"/>
<ellipse cx="382.8" cy="280.9" rx="5.25" ry="3.60"/>
<ellipse cx="383.8" cy="280.9" rx="5.25" ry="3.60"/>
<ellipse cx="384.9" cy="280.9" rx="5.25" ry="3.60"/>
<ellipse cx="385.9" cy="280.9" rx="5.25" ry="3.60"/>
<ellipse cx="386.9" cy="280.9" rx="5.25" ry="3.60"/>
<ellipse cx="387.9" cy="280.9" rx="5.25" ry="3.60"/>
<ellipse cx="388.9" cy="280.9" rx="5.25" ry="3.60"/>
<ellipse cx="389.9" cy="280.9" rx="5.25" ry="3.60"/>
<ellipse cx="390.9" cy="280.9" rx="5.25" ry="3.60"/>
<ellipse cx="391.9" cy="280.9" rx="5.25" ry="3.60"/>
<ellipse cx="392.9" cy="280.9" rx="5.25" ry="3.60"/>
<ellipse cx="393.9" cy="280.9" rx="5.25" ry="3.60"/>
<ellipse cx="394.9" cy="280.9" rx="5.25" ry="3.60"/>
<ellipse cx="395.9" cy="280.9" rx="5.25" ry="3.60"/>
<ellipse cx="396.9" cy="280.9" rx="5.25" ry="3.60"/>
<ellipse cx="397.9" cy="280.9" rx="5.25" ry="3.60"/>
<ellipse cx="398.9" cy="280.9" rx="5.25" ry="3.60"/>
<ellipse cx="399.9" cy="280.9" rx="5.25" ry="3.60"/>
<ellipse cx="400.9" cy="280.9" rx="5.25" ry="3.60"/>
<ellipse cx="402.0" cy="280.9" rx="5.25" ry="3.60"/>
<ellipse cx="403.0" cy="280.9" rx="5.25" ry="3.60"/>
<ellipse cx="404.0" cy="280.9" rx="5.25" ry="3.60"/>
<ellipse cx="405.0" cy="280.9" rx="5.25" ry="3.60"/>
<ellipse cx="406.0" cy="280.9" rx="5.25" ry="3.60"/>
<ellipse cx="407.0" cy="280.9" rx="5.25" ry="3.60"/>
<ellipse cx="408.0" cy="280.9" rx="5.25" ry="3.60"/>
<ellipse cx="409.0" cy="280.9" rx="5.25" ry="3.60"/>
<ellipse cx="410.0" cy="280.9" rx="5.25" ry="3.60"/>
<ellipse cx="411.0" cy="280.9" rx="5.25" ry="3.60"/>
<ellipse cx="412.0" cy="280.9" rx="5.25" ry="3.60"/>
<ellipse cx="413.0" cy="280.9" rx="5.25" ry="3.60"/>
<ellipse cx="414.0" cy="280.9" rx="5.25" ry="3.60"/>
<ellipse cx="415.0" cy="280.9" rx="5.25" ry="3.60"/>
<ellipse cx="416.0" cy="280.9" rx="5.25" ry="3.60"/>
<ellipse cx="417.0" cy="280.9" rx="5.25" ry="3.60"/>
<ellipse cx="418.1" cy="280.9" rx="5.25" ry="3.60"/>
<ellipse cx="419.1" cy="280.9" rx="5.25" ry="3.60"/>
<ellipse cx="420.1" cy="280.9" rx="5.25" ry="3.60"/>
<ellipse cx="421.1" cy="280.9" rx="5.25" ry="3.60"/>
<ellipse cx="422.1" cy="280.9" rx="5.25" ry="3.60"/>
<ellipse cx="423.1" cy="280.9" rx="5.25" ry="3.60"/>
<ellipse cx="424.1" cy="280.9" rx="5.25" ry="3.60"/>
<ellipse cx="425.1" cy="280.9" rx="5.25" ry="3.60"/>
<ellipse cx="426.1" cy="280.9" rx="5.25" ry="3.60"/>
<ellipse cx="427.1" cy="280.9" rx="5.25" ry="3.60"/>
<ellipse cx="428.1" cy="280.9" rx="5.25" ry="3.60"/>
<ellipse cx="429.1" cy="280.9" rx="5.25" ry="3.60"/>
<ellipse cx="430.1" cy="280.9" rx="5.25" ry="3.60"/>
<ellipse cx="431.1" cy="280.9" rx="5.25" ry="3.60"/>
<ellipse cx="432.1" cy="280.9" rx="5.25" ry="3.60"/>
<ellipse cx="433.1" cy="280.9" rx="5.25" ry="3.60"/>
<ellipse cx="434.1" cy="280.9" rx="5.25" ry="3.60"/>
<ellipse cx="435.2" cy="280.9" rx="5.25" ry="3.60"/>
<ellipse cx="436.2" cy="280.9" rx="5.25" ry="3.60"/>
<ellipse cx="437.2" cy="280.9" rx="5.25" ry="3.60"/>
<ellipse cx="438.2" cy="280.9" rx="5.25" ry="3.60"/>
<ellipse cx="439.2" cy="280.9" rx="5.25" ry="3.60"/>
<ellipse cx="440.2" cy="280.9" rx="5.25" ry="3.60"/>
<ellipse cx="441.2" cy="280.9" rx="5.25" ry="3.60"/>
<ellipse cx="442.2" cy="280.9" rx="5.25" ry="3.60"/>
<ellipse cx="443.2" cy="280.9" rx="5.25" ry="3.60"/>
<ellipse cx="444.2" cy="280.9" rx="5.25" ry="3.60"/>
<ellipse cx="445.2" cy="280.9" rx="5.25" ry="3.60"/>
<ellipse cx="446.2" cy="280.9" rx="5.25" ry="3.60"/>
<ellipse cx="447.2" cy="280.9" rx="5.25" ry="3.60"/>
<ellipse cx="448.2" cy="280.9" rx="5.25" ry="3.60"/>
<ellipse cx="449.2" cy="280.9" rx="5.25" ry="3.60"/>
<ellipse cx="450.2" cy="280.9" rx="5.25" ry="3.60"/>
<ellipse cx="451.2" cy="280.9" rx="5.25" ry="3.60"/>
<ellipse cx="452.3" cy="280.9" rx="5.25" ry="3.60"/>
<ellipse cx="453.3" cy="280.9" rx="5.25" ry="3.60"/>
<ellipse cx="454.3" cy="280.9" rx="5.25" ry="3.60"/>
<ellipse cx="455.3" cy="280.9" rx="5.25" ry="3.60"/>
<ellipse cx="456.3" cy="280.9" rx="5.25" ry="3.60"/>
<ellipse cx="457.3" cy="280.9" rx="5.25" ry="3.60"/>
<ellipse cx="458.3" cy="280.9" rx="5.25" ry="3.60"/>
<ellipse cx="459.3" cy="280.9" rx="5.25" ry="3.60"/>
<ellipse cx="460.3" cy="280.9" rx="5.25" ry="3.60"/>
<ellipse cx="461.3" cy="280.9" rx="5.25" ry="3.60"/>
<ellipse cx="462.3" cy="280.9" rx="5.25" ry="3.60"/>
<ellipse cx="463.3" cy="280.9" rx="5.25" ry="3.60"/>
<ellipse cx="464.3" cy="280.9" rx="5.25" ry="3.60"/>
<ellipse cx="465.3" cy="280.9" rx="5.25" ry="3.60"/>
<ellipse cx="466.3" cy="280.9" rx="5.25" ry="3.60"/>
<ellipse cx="467.3" cy="280.9" rx="5.25" ry="3.60"/>
<ellipse cx="468.4" cy="280.9" rx="5.25" ry="3.60"/>
<ellipse cx="469.4" cy="280.9" rx="5.25" ry="3.60"/>
<ellipse cx="470.4" cy="280.9" rx="5.25" ry="3.60"/>
<ellipse cx="471.4" cy="280.9" rx="5.25" ry="3.60"/>
<ellipse cx="472.4" cy="280.9" rx="5.25" ry="3.60"/>
<ellipse cx="473.4" cy="280.9" rx="5.25" ry="3.60"/>
<ellipse cx="474.4" cy="280.9" rx="5.25" ry="3.60"/>
<ellipse cx="475.4" cy="280.9" rx="5.25" ry="3.60"/>
<ellipse cx="476.4" cy="280.9" rx="5.25" ry="3.60"/>
</g>
<path fill="#00ff00" d="M74.00 282.80L80.00 290.00L68.00 290.00zM75.01 281.76L81.01 288.96L69.01 288.96zM76.01 280.74L82.01 287.94L70.01 287.94zM77.02 279.74L83.02 286.94L71.02 286.94zM78.02 278.77L84.02 285.97L72.02 285.97zM79.03 277.83L85.03 285.03L73.03 285.03zM80.04 276.93L86.04 284.13L74.04 284.13zM81.04 276.07L87.04 283.27L75.04 283.27zM82.05 275.25L88.05 282.45L76.05 282.45zM83.05 274.47L89.05 281.67L77.05 281.67zM84.06 273.75L90.06 280.95L78.06 280.95zM85.07 273.08L91.07 280.28L79.07 280.28zM86.07 272.45L92.07 279.65L80.07 279.65zM87.08 271.84L93.08 279.04L81.08 279.04zM88.08 271.26L94.08 278.46L82.08 278.46zM89.09 270.71L95.09 277.91L83.09 277.91zM90.10 270.17L96.10 277.37L84.10 277.37zM91.10 269.66L97.10 276.86L85.10 276.86zM92.11 269.16L98.11 276.36L86.11 276.36zM93.11 268.68L99.11 275.88L87.11 275.88zM94.12 268.22L100.12 275.42L88.12 275.42zM95.13 267.76L101.13 274.96L89.13 274.96zM96.13 267.31L102.13 274.51L90.13 274.51zM97.14 266.87L103.14 274.07L91.14 274.07zM98.14 266.44L104.14 273.64L92.14 273.64zM99.15 266.01L105.15 273.21L93.15 273.21zM100.16 265.58L106.16 272.78L94.16 272.78zM101.16 265.15L107.16 272.35L95.16 272.35zM102.17 264.73L108.17 271.93L96.17 271.93zM103.17 264.30L109.17 271.50L97.17 271.50zM104.18 263.87L110.18 271.07L98.18 271.07zM105.19 263.45L111.19 270.65L99.19 270.65zM106.19 263.03L112.19 270.23L100.19 270.23zM107.20 262.61L113.20 269.81L101.20 269.81zM108.20 262.20L114.20 269.40L102.20 269.40zM109.21 261.79L115.21 268.99L103.21 268.99zM110.22 261.38L116.22 268.58L104.22 268.58zM111.22 260.98L117.22 268.18L105.22 268.18zM112.23 260.59L118.23 267.79L106.23 267.79zM113.23 260.20L119.23 267.40L107.23 267.40zM114.24 259.82L120.24 267.02L108.24 267.02zM115.25 259.45L121.25 266.65L109.25 266.65zM116.25 259.08L122.25 266.28L110.25 266.28zM117.26 258.73L123.26 265.93L111.26 265.93zM118.26 258.38L124.26 265.58L112.26 265.58zM119.27 258.04L125.27 265.24L113.27 265.24zM120.28 257.71L126.28 264.91L114.28 264.91zM121.28 257.40L127.28 264.60L115.28 264.60zM122.29 257.09L128.29 264.29L116.29 264.29zM123.29 256.80L129.29 264.00L117.29 264.00zM124.30 256.52L130.30 263.72L118.30 263.72zM125.31 256.25L131.31 263.45L119.31 263.45zM126.31 256.00L132.31 263.20L120.31 263.20zM127.32 255.75L133.32 262.95L121.32 262.95zM128.32 255.53L134.32 262.73L122.32 262.73zM129.33 255.31L135.33 262.51L123.33 262.51zM130.34 255.10L136.34 262.30L124.34 262.30zM131.34 254.89L137.34 262.09L125.34 262.09zM132.35 254.69L138.35 261.89L126.35 261.89zM133.35 254.49L139.35 261.69L127.35 261.69zM134.36 254.29L140.36 261.49L128.36 261.49zM135.37 254.10L141.37 261.30L129.37 261.30zM136.37 253.91L142.37 261.11L130.37 261.11zM137.38 253.73L143.38 260.93L131.38 260.93zM138.38 253.55L144.38 260.75L132.38 260.75zM139.39 253.37L145.39 260.57L133.39 260.57zM140.40 253.20L146.40 260.40L134.40 260.40zM141.40 253.03L147.40 260.23L135.40 260.23zM142.41 252.87L148.41 260.07L136.41 260.07zM143.41 252.71L149.41 259.91L137.41 259.91zM144.42 252.56L150.42 259.76L138.42 259.76zM145.43 252.41L151.43 259.61L139.43 259.61zM146.43 252.27L152.43 259.47L140.43 259.47zM147.44 252.13L153.44 259.33L141.44 259.33zM148.44 251.99L154.44 259.19L142.44 259.19zM149.45 251.87L155.45 259.07L143.45 259.07zM150.46 251.74L156.46 258.94L144.46 258.94zM151.46 251.62L157.46 258.82L145.46 258.82zM152.47 251.51L158.47 258.71L146.47 258.71zM153.47 251.40L159.47 258.60L147.47 258.60zM154.48 251.30L160.48 258.50L148.48 258.50zM155.49 251.20L161.49 258.40L149.49 258.40zM156.49 251.11L162.49 258.31L150.49 258.31zM157.50 251.03L163.50 258.23L151.50 258.23zM158.50 250.95L164.50 258.15L152.50 258.15zM159.51 250.87L165.51 258.07L153.51 258.07zM160.52 250.79L166.52 257.99L154.52 257.99zM161.52 250.71L167.52 257.91L155.52 257.91zM162.53 250.64L168.53 257.84L156.53 257.84zM163.53 250.56L169.53 257.76L157.53 257.76zM164.54 250.49L170.54 257.69L158.54 257.69zM165.55 250.42L171.55 257.62L159.55 257.62zM166.55 250.35L172.55 257.55L160.55 257.55zM167.56 250.29L173.56 257.49L161.56 257.49zM168.56 250.22L174.56 257.42L162.56 257.42zM169.57 250.16L175.57 257.36L163.57 257.36zM170.58 250.10L176.58 257.30L164.58 257.30zM171.58 250.04L177.58 257.24L165.58 257.24zM172.59 249.98L178.59 257.18L166.59 257.18zM173.59 249.93L179.59 257.13L167.59 257.13zM174.60 249.87L180.60 257.07L168.60 257.07zM175.61 249.82L181.61 257.02L169.61 257.02zM176.61 249.77L182.61 256.97L170.61 256.97zM177.62 249.73L183.62 256.93L171.62 256.93zM178.62 249.68L184.62 256.88L172.62 256.88zM179.63 249.64L185.63 256.84L173.63 256.84zM180.64 249.60L186.64 256.80L174.64 256.80zM181.64 249.57L187.64 256.77L175.64 256.77zM182.65 249.53L188.65 256.73L176.65 256.73zM183.65 249.50L189.65 256.70L177.65 256.70zM184.66 249.47L190.66 256.67L178.66 256.67zM185.67 249.45L191.67 256.65L179.67 256.65zM186.67 249.42L192.67 256.62L180.67 256.62zM187.68 249.40L193.68 256.60L181.68 256.60zM188.68 249.38L194.68 256.58L182.68 256.58zM189.69 249.36L195.69 256.56L183.69 256.56zM190.70 249.34L196.70 256.54L184.70 256.54zM191.70 249.32L197.70 256.52L185.70 256.52zM192.71 249.30L198.71 256.50L186.71 256.50zM193.71 249.28L199.71 256.48L187.71 256.48zM194.72 249.27L200.72 256.47L188.72 256.47zM195.73 249.25L201.73 256.45L189.73 256.45zM196.73 249.23L202.73 256.43L190.73 256.43zM197.74 249.21L203.74 256.41L191.74 256.41zM198.74 249.19L204.74 256.39L192.74 256.39zM199.75 249.18L205.75 256.38L193.75 256.38zM200.76 249.16L206.76 256.36L194.76 256.36zM201.76 249.14L207.76 256.34L195.76 256.34zM202.77 249.13L208.77 256.33L196.77 256.33zM203.77 249.11L209.77 256.31L197.77 256.31zM204.78 249.09L210.78 256.29L198.78 256.29zM205.79 249.08L211.79 256.28L199.79 256.28zM206.79 249.06L212.79 256.26L200.79 256.26zM207.80 249.05L213.80 256.25L201.80 256.25zM208.80 249.03L214.80 256.23L202.80 256.23zM209.81 249.02L215.81 256.22L203.81 256.22zM210.82 249.00L216.82 256.20L204.82 256.20zM211.82 248.99L217.82 256.19L205.82 256.19zM212.83 248.97L218.83 256.17L206.83 256.17zM213.83 248.96L219.83 256.16L207.83 256.16zM214.84 248.94L220.84 256.14L208.84 256.14zM215.85 248.93L221.85 256.13L209.85 256.13zM216.85 248.92L222.85 256.12L210.85 256.12zM217.86 248.90L223.86 256.10L211.86 256.10zM218.86 248.89L224.86 256.09L212.86 256.09zM219.87 248.88L225.87 256.08L213.87 256.08zM220.88 248.87L226.88 256.07L214.88 256.07zM221.88 248.85L227.88 256.05L215.88 256.05zM222.89 248.84L228.89 256.04L216.89 256.04zM223.89 248.83L229.89 256.03L217.89 256.03zM224.90 248.82L230.90 256.02L218.90 256.02zM225.91 248.81L231.91 256.01L219.91 256.01zM226.91 248.80L232.91 256.00L220.91 256.00zM227.92 248.78L233.92 255.98L221.92 255.98zM228.92 248.77L234.92 255.97L222.92 255.97zM229.93 248.76L235.93 255.96L223.93 255.96zM230.94 248.75L236.94 255.95L224.94 255.95zM231.94 248.74L237.94 255.94L225.94 255.94zM232.95 248.73L238.95 255.93L226.95 255.93zM233.95 248.72L239.95 255.92L227.95 255.92zM234.96 248.71L240.96 255.91L228.96 255.91zM235.97 248.70L241.97 255.90L229.97 255.90zM236.97 248.69L242.97 255.89L230.97 255.89zM237.98 248.68L243.98 255.88L231.98 255.88zM238.98 248.67L244.98 255.87L232.98 255.87zM239.99 248.67L245.99 255.87L233.99 255.87zM241.00 248.66L247.00 255.86L235.00 255.86zM242.00 248.65L248.00 255.85L236.00 255.85zM243.01 248.64L249.01 255.84L237.01 255.84zM244.01 248.63L250.01 255.83L238.01 255.83zM245.02 248.62L251.02 255.82L239.02 255.82zM246.03 248.62L252.03 255.82L240.03 255.82zM247.03 248.61L253.03 255.81L241.03 255.81zM248.04 248.60L254.04 255.80L242.04 255.80zM249.04 248.59L255.04 255.79L243.04 255.79zM250.05 248.59L256.05 255.79L244.05 255.79zM251.06 248.58L257.06 255.78L245.06 255.78zM252.06 248.57L258.06 255.77L246.06 255.77zM253.07 248.56L259.07 255.76L247.07 255.76zM254.07 248.56L260.07 255.76L248.07 255.76zM255.08 248.55L261.08 255.75L249.08 255.75zM256.09 248.54L262.09 255.74L250.09 255.74zM257.09 248.54L263.09 255.74L251.09 255.74zM258.10 248.53L264.10 255.73L252.10 255.73zM259.10 248.53L265.10 255.73L253.10 255.73zM260.11 248.52L266.11 255.72L254.11 255.72zM261.12 248.51L267.12 255.71L255.12 255.71zM262.12 248.51L268.12 255.71L256.12 255.71zM263.13 248.50L269.13 255.70L257.13 255.70zM264.13 248.50L270.13 255.70L258.13 255.70zM265.14 248.49L271.14 255.69L259.14 255.69zM266.15 248.49L272.15 255.69L260.15 255.69zM267.15 248.48L273.15 255.68L261.15 255.68zM268.16 248.48L274.16 255.68L262.16 255.68zM269.16 248.47L275.16 255.67L263.16 255.67zM270.17 248.47L276.17 255.67L264.17 255.67zM271.18 248.46L277.18 255.66L265.18 255.66zM272.18 248.46L278.18 255.66L266.18 255.66zM273.19 248.45L279.19 255.65L267.19 255.65zM274.19 248.45L280.19 255.65L268.19 255.65zM275.20 248.44L281.20 255.64L269.20 255.64zM276.21 248.44L282.21 255.64L270.21 255.64zM277.21 248.44L283.21 255.64L271.21 255.64zM278.22 248.43L284.22 255.63L272.22 255.63zM279.22 248.43L285.22 255.63L273.22 255.63zM280.23 248.42L286.23 255.62L274.23 255.62zM281.24 248.42L287.24 255.62L275.24 255.62zM282.24 248.41L288.24 255.61L276.24 255.61zM283.25 248.41L289.25 255.61L277.25 255.61zM284.25 248.41L290.25 255.61L278.25 255.61zM285.26 248.40L291.26 255.60L279.26 255.60zM286.27 248.40L292.27 255.60L280.27 255.60zM287.27 248.39L293.27 255.59L281.27 255.59zM288.28 248.39L294.28 255.59L282.28 255.59zM289.28 248.38L295.28 255.58L283.28 255.58zM290.29 248.38L296.29 255.58L284.29 255.58zM291.30 248.38L297.30 255.58L285.30 255.58zM292.30 248.37L298.30 255.57L286.30 255.57zM293.31 248.37L299.31 255.57L287.31 255.57zM294.31 248.36L300.31 255.56L288.31 255.56zM295.32 248.36L301.32 255.56L289.32 255.56zM296.33 248.36L302.33 255.56L290.33 255.56zM297.33 248.35L303.33 255.55L291.33 255.55zM298.34 248.35L304.34 255.55L292.34 255.55zM299.34 248.34L305.34 255.54L293.34 255.54zM300.35 248.34L306.35 255.54L294.35 255.54zM301.36 248.34L307.36 255.54L295.36 255.54zM302.36 248.33L308.36 255.53L296.36 255.53zM303.37 248.33L309.37 255.53L297.37 255.53zM304.37 248.32L310.37 255.52L298.37 255.52zM305.38 248.32L311.38 255.52L299.38 255.52zM306.39 248.32L312.39 255.52L300.39 255.52zM307.39 248.31L313.39 255.51L301.39 255.51zM308.40 248.31L314.40 255.51L302.40 255.51zM309.40 248.30L315.40 255.50L303.40 255.50zM310.41 248.30L316.41 255.50L304.41 255.50zM311.42 248.30L317.42 255.50L305.42 255.50zM312.42 248.29L318.42 255.49L306.42 255.49zM313.43 248.29L319.43 255.49L307.43 255.49zM314.43 248.29L320.43 255.49L308.43 255.49zM315.44 248.28L321.44 255.48L309.44 255.48zM316.45 248.28L322.45 255.48L310.45 255.48zM317.45 248.27L323.45 255.47L311.45 255.47zM318.46 248.27L324.46 255.47L312.46 255.47zM319.46 248.27L325.46 255.47L313.46 255.47zM320.47 248.26L326.47 255.46L314.47 255.46zM321.48 248.26L327.48 255.46L315.48 255.46zM322.48 248.26L328.48 255.46L316.48 255.46zM323.49 248.25L329.49 255.45L317.49 255.45zM324.49 248.25L330.49 255.45L318.49 255.45zM325.50 248.25L331.50 255.45L319.50 255.45zM326.51 248.24L332.51 255.44L320.51 255.44zM327.51 248.24L333.51 255.44L321.51 255.44zM328.52 248.24L334.52 255.44L322.52 255.44zM329.52 248.23L335.52 255.43L323.52 255.43zM330.53 248.23L336.53 255.43L324.53 255.43zM331.54 248.22L337.54 255.42L325.54 255.42zM332.54 248.22L338.54 255.42L326.54 255.42zM333.55 248.22L339.55 255.42L327.55 255.42zM334.55 248.21L340.55 255.41L328.55 255.41zM335.56 248.21L341.56 255.41L329.56 255.41zM336.57 248.21L342.57 255.41L330.57 255.41zM337.57 248.20L343.57 255.40L331.57 255.40zM338.58 248.20L344.58 255.40L332.58 255.40zM339.58 248.20L345.58 255.40L333.58 255.40zM340.59 248.19L346.59 255.39L334.59 255.39zM341.60 248.19L347.60 255.39L335.60 255.39zM342.60 248.19L348.60 255.39L336.60 255.39zM343.61 248.18L349.61 255.38L337.61 255.38zM344.61 248.18L350.61 255.38L338.61 255.38zM345.62 248.18L351.62 255.38L339.62 255.38zM346.63 248.18L352.63 255.38L340.63 255.38zM347.63 248.17L353.63 255.37L341.63 255.37zM348.64 248.17L354.64 255.37L342.64 255.37zM349.64 248.17L355.64 255.37L343.64 255.37zM350.65 248.16L356.65 255.36L344.65 255.36zM351.66 248.16L357.66 255.36L345.66 255.36zM352.66 248.16L358.66 255.36L346.66 255.36zM353.67 248.15L359.67 255.35L347.67 255.35zM354.67 248.15L360.67 255.35L348.67 255.35zM355.68 248.15L361.68 255.35L349.68 255.35zM356.69 248.14L362.69 255.34L350.69 255.34zM357.69 248.14L363.69 255.34L351.69 255.34zM358.70 248.14L364.70 255.34L352.70 255.34zM359.70 248.14L365.70 255.34L353.70 255.34zM360.71 248.13L366.71 255.33L354.71 255.33zM361.72 248.13L367.72 255.33L355.72 255.33zM362.72 248.13L368.72 255.33L356.72 255.33zM363.73 248.12L369.73 255.32L357.73 255.32zM364.73 248.12L370.73 255.32L358.73 255.32zM365.74 248.12L371.74 255.32L359.74 255.32zM366.75 248.12L372.75 255.32L360.75 255.32zM367.75 248.11L373.75 255.31L361.75 255.31zM368.76 248.11L374.76 255.31L362.76 255.31zM369.76 248.11L375.76 255.31L363.76 255.31zM370.77 248.11L376.77 255.31L364.77 255.31zM371.78 248.10L377.78 255.30L365.78 255.30zM372.78 248.10L378.78 255.30L366.78 255.30zM373.79 248.10L379.79 255.30L367.79 255.30zM374.79 248.09L380.79 255.29L368.79 255.29zM375.80 248.09L381.80 255.29L369.80 255.29zM376.81 248.09L382.81 255.29L370.81 255.29zM377.81 248.09L383.81 255.29L371.81 255.29zM378.82 248.08L384.82 255.28L372.82 255.28zM379.82 248.08L385.82 255.28L373.82 255.28zM380.83 248.08L386.83 255.28L374.83 255.28zM381.84 248.08L387.84 255.28L375.84 255.28zM382.84 248.07L388.84 255.27L376.84 255.27zM383.85 248.07L389.85 255.27L377.85 255.27zM384.85 248.07L390.85 255.27L378.85 255.27zM385.86 248.07L391.86 255.27L379.86 255.27zM386.87 248.07L392.87 255.27L380.87 255.27zM387.87 248.06L393.87 255.26L381.87 255.26zM388.88 248.06L394.88 255.26L382.88 255.26zM389.88 248.06L395.88 255.26L383.88 255.26zM390.89 248.06L396.89 255.26L384.89 255.26zM391.90 248.05L397.90 255.25L385.90 255.25zM392.90 248.05L398.90 255.25L386.90 255.25zM393.91 248.05L399.91 255.25L387.91 255.25zM394.91 248.05L400.91 255.25L388.91 255.25zM395.92 248.05L401.92 255.25L389.92 255.25zM396.93 248.04L402.93 255.24L390.93 255.24zM397.93 248.04L403.93 255.24L391.93 255.24zM398.94 248.04L404.94 255.24L392.94 255.24zM399.94 248.04L405.94 255.24L393.94 255.24zM400.95 248.04L406.95 255.24L394.95 255.24zM401.96 248.03L407.96 255.23L395.96 255.23zM402.96 248.03L408.96 255.23L396.96 255.23zM403.97 248.03L409.97 255.23L397.97 255.23zM404.97 248.03L410.97 255.23L398.97 255.23zM405.98 248.03L411.98 255.23L399.98 255.23zM406.99 248.02L412.99 255.22L400.99 255.22zM407.99 248.02L413.99 255.22L401.99 255.22zM409.00 248.02L415.00 255.22L403.00 255.22zM410.00 248.02L416.00 255.22L404.00 255.22zM411.01 248.02L417.01 255.22L405.01 255.22zM412.02 248.02L418.02 255.22L406.02 255.22zM413.02 248.01L419.02 255.21L407.02 255.21zM414.03 248.01L420.03 255.21L408.03 255.21zM415.03 248.01L421.03 255.21L409.03 255.21zM416.04 248.01L422.04 255.21L410.04 255.21zM417.05 248.01L423.05 255.21L411.05 255.21zM418.05 248.01L424.05 255.21L412.05 255.21zM419.06 248.00L425.06 255.20L413.06 255.20zM420.06 248.00L426.06 255.20L414.06 255.20zM421.07 248.00L427.07 255.20L415.07 255.20zM422.08 248.00L428.08 255.20L416.08 255.20zM423.08 248.00L429.08 255.20L417.08 255.20zM424.09 248.00L430.09 255.20L418.09 255.20zM425.09 247.99L431.09 255.19L419.09 255.19zM426.10 247.99L432.10 255.19L420.10 255.19zM427.11 247.99L433.11 255.19L421.11 255.19zM428.11 247.99L434.11 255.19L422.11 255.19zM429.12 247.99L435.12 255.19L423.12 255.19zM430.12 247.99L436.12 255.19L424.12 255.19zM431.13 247.99L437.13 255.19L425.13 255.19zM432.14 247.99L438.14 255.19L426.14 255.19zM433.14 247.98L439.14 255.18L427.14 255.18zM434.15 247.98L440.15 255.18L428.15 255.18zM435.15 247.98L441.15 255.18L429.15 255.18zM436.16 247.98L442.16 255.18L430.16 255.18zM437.17 247.98L443.17 255.18L431.17 255.18zM438.17 247.98L444.17 255.18L432.17 255.18zM439.18 247.98L445.18 255.18L433.18 255.18zM440.18 247.98L446.18 255.18L434.18 255.18zM441.19 247.98L447.19 255.18L435.19 255.18zM442.20 247.97L448.20 255.17L436.20 255.17zM443.20 247.97L449.20 255.17L437.20 255.17zM444.21 247.97L450.21 255.17L438.21 255.17zM445.21 247.97L451.21 255.17L439.21 255.17zM446.22 247.97L452.22 255.17L440.22 255.17zM447.23 247.97L453.23 255.17L441.23 255.17zM448.23 247.97L454.23 255.17L442.23 255.17zM449.24 247.97L455.24 255.17L443.24 255.17zM450.24 247.97L456.24 255.17L444.24 255.17zM451.25 247.97L457.25 255.17L445.25 255.17zM452.26 247.97L458.26 255.17L446.26 255.17zM453.26 247.97L459.26 255.17L447.26 255.17zM454.27 247.97L460.27 255.17L448.27 255.17zM455.27 247.96L461.27 255.16L449.27 255.16zM456.28 247.96L462.28 255.16L450.28 255.16zM457.29 247.96L463.29 255.16L451.29 255.16zM458.29 247.96L464.29 255.16L452.29 255.16zM459.30 247.96L465.30 255.16L453.30 255.16zM460.30 247.96L466.30 255.16L454.30 255.16zM461.31 247.96L467.31 255.16L455.31 255.16zM462.32 247.96L468.32 255.16L456.32 255.16zM463.32 247.96L469.32 255.16L457.32 255.16zM464.33 247.96L470.33 255.16L458.33 255.16zM465.33 247.96L471.33 255.16L459.33 255.16zM466.34 247.96L472.34 255.16L460.34 255.16zM467.35 247.96L473.35 255.16L461.35 255.16zM468.35 247.96L474.35 255.16L462.35 255.16zM469.36 247.96L475.36 255.16L463.36 255.16zM470.36 247.96L476.36 255.16L464.36 255.16zM471.37 247.96L477.37 255.16L465.37 255.16zM472.38 247.96L478.38 255.16L466.38 255.16zM473.38 247.96L479.38 255.16L467.38 255.16zM474.39 247.96L480.39 255.16L468.39 255.16zM475.39 247.96L481.39 255.16L469.39 255.16zM476.40 247.96L482.40 255.16L470.40 255.16z"/>
<path fill="#0000ff" d="M74.00 289.80L80.00 283.00L68.00 283.00zM75.01 288.10L81.01 281.30L69.01 281.30zM76.01 286.40L82.01 279.60L70.01 279.60zM77.02 284.70L83.02 277.90L71.02 277.90zM78.02 283.01L84.02 276.21L72.02 276.21zM79.03 281.31L85.03 274.51L73.03 274.51zM80.04 279.62L86.04 272.82L74.04 272.82zM81.04 277.93L87.04 271.13L75.04 271.13zM82.05 276.25L88.05 269.45L76.05 269.45zM83.05 274.58L89.05 267.78L77.05 267.78zM84.06 272.91L90.06 266.11L78.06 266.11zM85.07 271.25L91.07 264.45L79.07 264.45zM86.07 269.60L92.07 262.80L80.07 262.80zM87.08 267.96L93.08 261.16L81.08 261.16zM88.08 266.34L94.08 259.54L82.08 259.54zM89.09 264.73L95.09 257.93L83.09 257.93zM90.10 263.13L96.10 256.33L84.10 256.33zM91.10 261.55L97.10 254.75L85.10 254.75zM92.11 259.99L98.11 253.19L86.11 253.19zM93.11 258.45L99.11 251.65L87.11 251.65zM94.12 256.93L100.12 250.13L88.12 250.13zM95.13 255.43L101.13 248.63L89.13 248.63zM96.13 253.95L102.13 247.15L90.13 247.15zM97.14 252.50L103.14 245.70L91.14 245.70zM98.14 251.07L104.14 244.27L92.14 244.27zM99.15 249.66L105.15 242.86L93.15 242.86zM100.16 248.28L106.16 241.48L94.16 241.48zM101.16 246.93L107.16 240.13L95.16 240.13zM102.17 245.60L108.17 238.80L96.17 238.80zM103.17 244.30L109.17 237.50L97.17 237.50zM104.18 243.03L110.18 236.23L98.18 236.23zM105.19 241.79L111.19 234.99L99.19 234.99zM106.19 240.58L112.19 233.78L100.19 233.78zM107.20 239.39L113.20 232.59L101.20 232.59zM108.20 238.24L114.20 231.44L102.20 231.44zM109.21 237.11L115.21 230.31L103.21 230.31zM110.22 236.01L116.22 229.21L104.22 229.21zM111.22 234.95L117.22 228.15L105.22 228.15zM112.23 233.91L118.23 227.11L106.23 227.11zM113.23 232.90L119.23 226.10L107.23 226.10zM114.24 231.91L120.24 225.11L108.24 225.11zM115.25 230.96L121.25 224.16L109.25 224.16zM116.25 230.03L122.25 223.23L110.25 223.23zM117.26 229.13L123.26 222.33L111.26 222.33zM118.26 228.26L124.26 221.46L112.26 221.46zM119.27 227.42L125.27 220.62L113.27 220.62zM120.28 226.60L126.28 219.80L114.28 219.80zM121.28 225.80L127.28 219.00L115.28 219.00zM122.29 225.03L128.29 218.23L116.29 218.23zM123.29 224.29L129.29 217.49L117.29 217.49zM124.30 223.56L130.30 216.76L118.30 216.76zM125.31 222.86L131.31 216.06L119.31 216.06zM126.31 222.19L132.31 215.39L120.31 215.39zM127.32 221.53L133.32 214.73L121.32 214.73zM128.32 220.90L134.32 214.10L122.32 214.10zM129.33 220.29L135.33 213.49L123.33 213.49zM130.34 219.69L136.34 212.89L124.34 212.89zM131.34 219.12L137.34 212.32L125.34 212.32zM132.35 218.57L138.35 211.77L126.35 211.77zM133.35 218.03L139.35 211.23L127.35 211.23zM134.36 217.51L140.36 210.71L128.36 210.71zM135.37 217.01L141.37 210.21L129.37 210.21zM136.37 216.53L142.37 209.73L130.37 209.73zM137.38 216.06L143.38 209.26L131.38 209.26zM138.38 215.60L144.38 208.80L132.38 208.80zM139.39 215.17L145.39 208.37L133.39 208.37zM140.40 214.74L146.40 207.94L134.40 207.94zM141.40 214.33L147.40 207.53L135.40 207.53zM142.41 213.94L148.41 207.14L136.41 207.14zM143.41 213.55L149.41 206.75L137.41 206.75zM144.42 213.18L150.42 206.38L138.42 206.38zM145.43 212.83L151.43 206.03L139.43 206.03zM146.43 212.48L152.43 205.68L140.43 205.68zM147.44 212.14L153.44 205.34L141.44 205.34zM148.44 211.82L154.44 205.02L142.44 205.02zM149.45 211.51L155.45 204.71L143.45 204.71zM150.46 211.20L156.46 204.40L144.46 204.40zM151.46 210.91L157.46 204.11L145.46 204.11zM152.47 210.62L158.47 203.82L146.47 203.82zM153.47 210.35L159.47 203.55L147.47 203.55zM154.48 210.08L160.48 203.28L148.48 203.28zM155.49 209.82L161.49 203.02L149.49 203.02zM156.49 209.57L162.49 202.77L150.49 202.77zM157.50 209.33L163.50 202.53L151.50 202.53zM158.50 209.10L164.50 202.30L152.50 202.30zM159.51 208.87L165.51 202.07L153.51 202.07zM160.52 208.65L166.52 201.85L154.52 201.85zM161.52 208.44L167.52 201.64L155.52 201.64zM162.53 208.23L168.53 201.43L156.53 201.43zM163.53 208.03L169.53 201.23L157.53 201.23zM164.54 207.83L170.54 201.03L158.54 201.03zM165.55 207.65L171.55 200.85L159.55 200.85zM166.55 207.46L172.55 200.66L160.55 200.66zM167.56 207.29L173.56 200.49L161.56 200.49zM168.56 207.11L174.56 200.31L162.56 200.31zM169.57 206.95L175.57 200.15L163.57 200.15zM170.58 206.78L176.58 199.98L164.58 199.98zM171.58 206.63L177.58 199.83L165.58 199.83zM172.59 206.47L178.59 199.67L166.59 199.67zM173.59 206.33L179.59 199.53L167.59 199.53zM174.60 206.18L180.60 199.38L168.60 199.38zM175.61 206.04L181.61 199.24L169.61 199.24zM176.61 205.91L182.61 199.11L170.61 199.11zM177.62 205.77L183.62 198.97L171.62 198.97zM178.62 205.65L184.62 198.85L172.62 198.85zM179.63 205.52L185.63 198.72L173.63 198.72zM180.64 205.40L186.64 198.60L174.64 198.60zM181.64 205.28L187.64 198.48L175.64 198.48zM182.65 205.17L188.65 198.37L176.65 198.37zM183.65 205.06L189.65 198.26L177.65 198.26zM184.66 204.95L190.66 198.15L178.66 198.15zM185.67 204.84L191.67 198.04L179.67 198.04zM186.67 204.74L192.67 197.94L180.67 197.94zM187.68 204.64L193.68 197.84L181.68 197.84zM188.68 204.54L194.68 197.74L182.68 197.74zM189.69 204.45L195.69 197.65L183.69 197.65zM190.70 204.35L196.70 197.55L184.70 197.55zM191.70 204.26L197.70 197.46L185.70 197.46zM192.71 204.18L198.71 197.38L186.71 197.38zM193.71 204.09L199.71 197.29L187.71 197.29zM194.72 204.01L200.72 197.21L188.72 197.21zM195.73 203.93L201.73 197.13L189.73 197.13zM196.73 203.85L202.73 197.05L190.73 197.05zM197.74 203.77L203.74 196.97L191.74 196.97zM198.74 203.70L204.74 196.90L192.74 196.90zM199.75 203.62L205.75 196.82L193.75 196.82zM200.76 203.55L206.76 196.75L194.76 196.75zM201.76 203.48L207.76 196.68L195.76 196.68zM202.77 203.41L208.77 196.61L196.77 196.61zM203.77 203.35L209.77 196.55L197.77 196.55zM204.78 203.28L210.78 196.48L198.78 196.48zM205.79 203.22L211.79 196.42L199.79 196.42zM206.79 203.16L212.79 196.36L200.79 196.36zM207.80 203.10L213.80 196.30L201.80 196.30zM208.80 203.04L214.80 196.24L202.80 196.24zM209.81 202.98L215.81 196.18L203.81 196.18zM210.82 202.93L216.82 196.13L204.82 196.13zM211.82 202.87L217.82 196.07L205.82 196.07zM212.83 202.82L218.83 196.02L206.83 196.02zM213.83 202.77L219.83 195.97L207.83 195.97zM214.84 202.72L220.84 195.92L208.84 195.92zM215.85 202.67L221.85 195.87L209.85 195.87zM216.85 202.62L222.85 195.82L210.85 195.82zM217.86 202.57L223.86 195.77L211.86 195.77zM218.86 202.52L224.86 195.72L212.86 195.72zM219.87 202.48L225.87 195.68L213.87 195.68zM220.88 202.43L226.88 195.63L214.88 195.63zM221.88 202.39L227.88 195.59L215.88 195.59zM222.89 202.35L228.89 195.55L216.89 195.55zM223.89 202.30L229.89 195.50L217.89 195.50zM224.90 202.26L230.90 195.46L218.90 195.46zM225.91 202.22L231.91 195.42L219.91 195.42zM226.91 202.19L232.91 195.39L220.91 195.39zM227.92 202.15L233.92 195.35L221.92 195.35zM228.92 202.11L234.92 195.31L222.92 195.31zM229.93 202.07L235.93 195.27L223.93 195.27zM230.94 202.04L236.94 195.24L224.94 195.24zM231.94 202.00L237.94 195.20L225.94 195.20zM232.95 201.97L238.95 195.17L226.95 195.17zM233.95 201.93L239.95 195.13L227.95 195.13zM234.96 201.90L240.96 195.10L228.96 195.10zM235.97 201.87L241.97 195.07L229.97 195.07zM236.97 201.84L242.97 195.04L230.97 195.04zM237.98 201.81L243.98 195.01L231.98 195.01zM238.98 201.78L244.98 194.98L232.98 194.98zM239.99 201.75L245.99 194.95L233.99 194.95zM241.00 201.72L247.00 194.92L235.00 194.92zM242.00 201.69L248.00 194.89L236.00 194.89zM243.01 201.66L249.01 194.86L237.01 194.86zM244.01 201.63L250.01 194.83L238.01 194.83zM245.02 201.61L251.02 194.81L239.02 194.81zM246.03 201.58L252.03 194.78L240.03 194.78zM247.03 201.55L253.03 194.75L241.03 194.75zM248.04 201.53L254.04 194.73L242.04 194.73zM249.04 201.50L255.04 194.70L243.04 194.70zM250.05 201.48L256.05 194.68L244.05 194.68zM251.06 201.45L257.06 194.65L245.06 194.65zM252.06 201.43L258.06 194.63L246.06 194.63zM253.07 201.41L259.07 194.61L247.07 194.61zM254.07 201.38L260.07 194.58L248.07 194.58zM255.08 201.36L261.08 194.56L249.08 194.56zM256.09 201.34L262.09 194.54L250.09 194.54zM257.09 201.32L263.09 194.52L251.09 194.52zM258.10 201.30L264.10 194.50L252.10 194.50zM259.10 201.28L265.10 194.48L253.10 194.48zM260.11 201.26L266.11 194.46L254.11 194.46zM261.12 201.24L267.12 194.44L255.12 194.44zM262.12 201.22L268.12 194.42L256.12 194.42zM263.13 201.20L269.13 194.40L257.13 194.40zM264.13 201.18L270.13 194.38L258.13 194.38zM265.14 201.16L271.14 194.36L259.14 194.36zM266.15 201.14L272.15 194.34L260.15 194.34zM267.15 201.12L273.15 194.32L261.15 194.32zM268.16 201.11L274.16 194.31L262.16 194.31zM269.16 201.09L275.16 194.29L263.16 194.29zM270.17 201.07L276.17 194.27L264.17 194.27zM271.18 201.06L277.18 194.26L265.18 194.26zM272.18 201.04L278.18 194.24L266.18 194.24zM273.19 201.02L279.19 194.22L267.19 194.22zM274.19 201.01L280.19 194.21L268.19 194.21zM275.20 200.99L281.20 194.19L269.20 194.19zM276.21 200.98L282.21 194.18L270.21 194.18zM277.21 200.96L283.21 194.16L271.21 194.16zM278.22 200.95L284.22 194.15L272.22 194.15zM279.22 200.93L285.22 194.13L273.22 194.13zM280.23 200.92L286.23 194.12L274.23 194.12zM281.24 200.90L287.24 194.10L275.24 194.10zM282.24 200.89L288.24 194.09L276.24 194.09zM283.25 200.88L289.25 194.08L277.25 194.08zM284.25 200.86L290.25 194.06L278.25 194.06zM285.26 200.85L291.26 194.05L279.26 194.05zM286.27 200.84L292.27 194.04L280.27 194.04zM287.27 200.82L293.27 194.02L281.27 194.02zM288.28 200.81L294.28 194.01L282.28 194.01zM289.28 200.80L295.28 194.00L283.28 194.00zM290.29 200.79L296.29 193.99L284.29 193.99zM291.30 200.77L297.30 193.97L285.30 193.97zM292.30 200.76L298.30 193.96L286.30 193.96zM293.31 200.75L299.31 193.95L287.31 193.95zM294.31 200.74L300.31 193.94L288.31 193.94zM295.32 200.73L301.32 193.93L289.32 193.93zM296.33 200.72L302.33 193.92L290.33 193.92zM297.33 200.71L303.33 193.91L291.33 193.91zM298.34 200.69L304.34 193.89L292.34 193.89zM299.34 200.68L305.34 193.88L293.34 193.88zM300.35 200.67L306.35 193.87L294.35 193.87zM301.36 200.66L307.36 193.86L295.36 193.86zM302.36 200.65L308.36 193.85L296.36 193.85zM303.37 200.64L309.37 193.84L297.37 193.84zM304.37 200.63L310.37 193.83L298.37 193.83zM305.38 200.62L311.38 193.82L299.38 193.82zM306.39 200.61L312.39 193.81L300.39 193.81zM307.39 200.60L313.39 193.80L301.39 193.80zM308.40 200.60L314.40 193.80L302.40 193.80zM309.40 200.59L315.40 193.79L303.40 193.79zM310.41 200.58L316.41 193.78L304.41 193.78zM311.42 200.57L317.42 193.77L305.42 193.77zM312.42 200.56L318.42 193.76L306.42 193.76zM313.43 200.55L319.43 193.75L307.43 193.75zM314.43 200.54L320.43 193.74L308.43 193.74zM315.44 200.53L321.44 193.73L309.44 193.73zM316.45 200.53L322.45 193.73L310.45 193.73zM317.45 200.52L323.45 193.72L311.45 193.72zM318.46 200.51L324.46 193.71L312.46 193.71zM319.46 200.50L325.46 193.70L313.46 193.70zM320.47 200.49L326.47 193.69L314.47 193.69zM321.48 200.49L327.48 193.69L315.48 193.69zM322.48 200.48L328.48 193.68L316.48 193.68zM323.49 200.47L329.49 193.67L317.49 193.67zM324.49 200.46L330.49 193.66L318.49 193.66zM325.50 200.46L331.50 193.66L319.50 193.66zM326.51 200.45L332.51 193.65L320.51 193.65zM327.51 200.44L333.51 193.64L321.51 193.64zM328.52 200.43L334.52 193.63L322.52 193.63zM329.52 200.43L335.52 193.63L323.52 193.63zM330.53 200.42L336.53 193.62L324.53 193.62zM331.54 200.41L337.54 193.61L325.54 193.61zM332.54 200.41L338.54 193.61L326.54 193.61zM333.55 200.40L339.55 193.60L327.55 193.60zM334.55 200.39L340.55 193.59L328.55 193.59zM335.56 200.39L341.56 193.59L329.56 193.59zM336.57 200.38L342.57 193.58L330.57 193.58zM337.57 200.38L343.57 193.58L331.57 193.58zM338.58 200.37L344.58 193.57L332.58 193.57zM339.58 200.36L345.58 193.56L333.58 193.56zM340.59 200.36L346.59 193.56L334.59 193.56zM341.60 200.35L347.60 193.55L335.60 193.55zM342.60 200.35L348.60 193.55L336.60 193.55zM343.61 200.34L349.61 193.54L337.61 193.54zM344.61 200.33L350.61 193.53L338.61 193.53zM345.62 200.33L351.62 193.53L339.62 193.53zM346.63 200.32L352.63 193.52L340.63 193.52zM347.63 200.32L353.63 193.52L341.63 193.52zM348.64 200.31L354.64 193.51L342.64 193.51zM349.64 200.31L355.64 193.51L343.64 193.51zM350.65 200.30L356.65 193.50L344.65 193.50zM351.66 200.30L357.66 193.50L345.66 193.50zM352.66 200.29L358.66 193.49L346.66 193.49zM353.67 200.29L359.67 193.49L347.67 193.49zM354.67 200.28L360.67 193.48L348.67 193.48zM355.68 200.28L361.68 193.48L349.68 193.48zM356.69 200.27L362.69 193.47L350.69 193.47zM357.69 200.27L363.69 193.47L351.69 193.47zM358.70 200.26L364.70 193.46L352.70 193.46zM359.70 200.26L365.70 193.46L353.70 193.46zM360.71 200.25L366.71 193.45L354.71 193.45zM361.72 200.25L367.72 193.45L355.72 193.45zM362.72 200.24L368.72 193.44L356.72 193.44zM363.73 200.24L369.73 193.44L357.73 193.44zM364.73 200.23L370.73 193.43L358.73 193.43zM365.74 200.23L371.74 193.43L359.74 193.43zM366.75 200.23L372.75 193.43L360.75 193.43zM367.75 200.22L373.75 193.42L361.75 193.42zM368.76 200.22L374.76 193.42L362.76 193.42zM369.76 200.21L375.76 193.41L363.76 193.41zM370.77 200.21L376.77 193.41L364.77 193.41zM371.78 200.21L377.78 193.41L365.78 193.41zM372.78 200.20L378.78 193.40L366.78 193.40zM373.79 200.20L379.79 193.40L367.79 193.40zM374.79 200.19L380.79 193.39L368.79 193.39zM375.80 200.19L381.80 193.39L369.80 193.39zM376.81 200.19L382.81 193.39L370.81 193.39zM377.81 200.18L383.81 193.38L371.81 193.38zM378.82 200.18L384.82 193.38L372.82 193.38zM379.82 200.17L385.82 193.37L373.82 193.37zM380.83 200.17L386.83 193.37L374.83 193.37zM381.84 200.17L387.84 193.37L375.84 193.37zM382.84 200.16L388.84 193.36L376.84 193.36zM383.85 200.16L389.85 193.36L377.85 193.36zM384.85 200.16L390.85 193.36L378.85 193.36zM385.86 200.15L391.86 193.35L379.86 193.35zM386.87 200.15L392.87 193.35L380.87 193.35zM387.87 200.15L393.87 193.35L381.87 193.35zM388.88 200.14L394.88 193.34L382.88 193.34zM389.88 200.14L395.88 193.34L383.88 193.34zM390.89 200.14L396.89 193.34L384.89 193.34zM391.90 200.13L397.90 193.33L385.90 193.33zM392.90 200.13L398.90 193.33L386.90 193.33zM393.91 200.13L399.91 193.33L387.91 193.33zM394.91 200.12L400.91 193.32L388.91 193.32zM395.92 200.12L401.92 193.32L389.92 193.32zM396.93 200.12L402.93 193.32L390.93 193.32zM397.93 200.11L403.93 193.31L391.93 193.31zM398.94 200.11L404.94 193.31L392.94 193.31zM399.94 200.11L405.94 193.31L393.94 193.31zM400.95 200.11L406.95 193.31L394.95 193.31zM401.96 200.10L407.96 193.30L395.96 193.30zM402.96 200.10L408.96 193.30L396.96 193.30zM403.97 200.10L409.97 193.30L397.97 193.30zM404.97 200.09L410.97 193.29L398.97 193.29zM405.98 200.09L411.98 193.29L399.98 193.29zM406.99 200.09L412.99 193.29L400.99 193.29zM407.99 200.09L413.99 193.29L401.99 193.29zM409.00 200.08L415.00 193.28L403.00 193.28zM410.00 200.08L416.00 193.28L404.00 193.28zM411.01 200.08L417.01 193.28L405.01 193.28zM412.02 200.07L418.02 193.27L406.02 193.27zM413.02 200.07L419.02 193.27L407.02 193.27zM414.03 200.07L420.03 193.27L408.03 193.27zM415.03 200.07L421.03 193.27L409.03 193.27zM416.04 200.06L422.04 193.26L410.04 193.26zM417.05 200.06L423.05 193.26L411.05 193.26zM418.05 200.06L424.05 193.26L412.05 193.26zM419.06 200.06L425.06 193.26L413.06 193.26zM420.06 200.05L426.06 193.25L414.06 193.25zM421.07 200.05L427.07 193.25L415.07 193.25zM422.08 200.05L428.08 193.25L416.08 193.25zM423.08 200.05L429.08 193.25L417.08 193.25zM424.09 200.05L430.09 193.25L418.09 193.25zM425.09 200.04L431.09 193.24L419.09 193.24zM426.10 200.04L432.10 193.24L420.10 193.24zM427.11 200.04L433.11 193.24L421.11 193.24zM428.11 200.04L434.11 193.24L422.11 193.24zM429.12 200.03L435.12 193.23L423.12 193.23zM430.12 200.03L436.12 193.23L424.12 193.23zM431.13 200.03L437.13 193.23L425.13 193.23zM432.14 200.03L438.14 193.23L426.14 193.23zM433.14 200.03L439.14 193.23L427.14 193.23zM434.15 200.02L440.15 193.22L428.15 193.22zM435.15 200.02L441.15 193.22L429.15 193.22zM436.16 200.02L442.16 193.22L430.16 193.22zM437.17 200.02L443.17 193.22L431.17 193.22zM438.17 200.02L444.17 193.22L432.17 193.22zM439.18 200.01L445.18 193.21L433.18 193.21zM440.18 200.01L446.18 193.21L434.18 193.21zM441.19 200.01L447.19 193.21L435.19 193.21zM442.20 200.01L448.20 193.21L436.20 193.21zM443.20 200.01L449.20 193.21L437.20 193.21zM444.21 200.00L450.21 193.20L438.21 193.20zM445.21 200.00L451.21 193.20L439.21 193.20zM446.22 200.00L452.22 193.20L440.22 193.20zM447.23 200.00L453.23 193.20L441.23 193.20zM448.23 200.00L454.23 193.20L442.23 193.20zM449.24 199.99L455.24 193.19L443.24 193.19zM450.24 199.99L456.24 193.19L444.24 193.19zM451.25 199.99L457.25 193.19L445.25 193.19zM452.26 199.99L458.26 193.19L446.26 193.19zM453.26 199.99L459.26 193.19L447.26 193.19zM454.27 199.99L460.27 193.19L448.27 193.19zM455.27 199.98L461.27 193.18L449.27 193.18zM456.28 199.98L462.28 193.18L450.28 193.18zM457.29 199.98L463.29 193.18L451.29 193.18zM458.29 199.98L464.29 193.18L452.29 193.18zM459.30 199.98L465.30 193.18L453.30 193.18zM460.30 199.97L466.30 193.17L454.30 193.17zM461.31 199.97L467.31 193.17L455.31 193.17zM462.32 199.97L468.32 193.17L456.32 193.17zM463.32 199.97L469.32 193.17L457.32 193.17zM464.33 199.97L470.33 193.17L458.33 193.17zM465.33 199.97L471.33 193.17L459.33 193.17zM466.34 199.97L472.34 193.17L460.34 193.17zM467.35 199.96L473.35 193.16L461.35 193.16zM468.35 199.96L474.35 193.16L462.35 193.16zM469.36 199.96L475.36 193.16L463.36 193.16zM470.36 199.96L476.36 193.16L464.36 193.16zM471.37 199.96L477.37 193.16L465.37 193.16zM472.38 199.96L478.38 193.16L466.38 193.16zM473.38 199.95L479.38 193.15L467.38 193.15zM474.39 199.95L480.39 193.15L468.39 193.15zM475.39 199.95L481.39 193.15L469.39 193.15zM476.40 199.95L482.40 193.15L470.40 193.15z"/>
<path fill="#00ffff" d="M74.00 282.50L80.00 286.40L74.00 290.30L68.00 286.40zM75.01 280.71L81.01 284.61L75.01 288.51L69.01 284.61zM76.01 278.92L82.01 282.82L76.01 286.72L70.01 282.82zM77.02 277.13L83.02 281.03L77.02 284.93L71.02 281.03zM78.02 275.35L84.02 279.25L78.02 283.15L72.02 279.25zM79.03 273.58L85.03 277.48L79.03 281.38L73.03 277.48zM80.04 271.81L86.04 275.71L80.04 279.61L74.04 275.71zM81.04 270.04L87.04 273.94L81.04 277.84L75.04 273.94zM82.05 268.28L88.05 272.18L82.05 276.08L76.05 272.18zM83.05 266.52L89.05 270.42L83.05 274.32L77.05 270.42zM84.06 264.76L90.06 268.66L84.06 272.56L78.06 268.66zM85.07 263.01L91.07 266.91L85.07 270.81L79.07 266.91zM86.07 261.27L92.07 265.17L86.07 269.07L80.07 265.17zM87.08 259.53L93.08 263.43L87.08 267.33L81.08 263.43zM88.08 257.79L94.08 261.69L88.08 265.59L82.08 261.69zM89.09 256.06L95.09 259.96L89.09 263.86L83.09 259.96zM90.10 254.33L96.10 258.23L90.10 262.13L84.10 258.23zM91.10 252.60L97.10 256.50L91.10 260.40L85.10 256.50zM92.11 250.88L98.11 254.78L92.11 258.68L86.11 254.78zM93.11 249.17L99.11 253.07L93.11 256.97L87.11 253.07zM94.12 247.46L100.12 251.36L94.12 255.26L88.12 251.36zM95.13 245.75L101.13 249.65L95.13 253.55L89.13 249.65zM96.13 244.05L102.13 247.95L96.13 251.85L90.13 247.95zM97.14 242.35L103.14 246.25L97.14 250.15L91.14 246.25zM98.14 240.65L104.14 244.55L98.14 248.45L92.14 244.55zM99.15 238.96L105.15 242.86L99.15 246.76L93.15 242.86zM100.16 237.27L106.16 241.17L100.16 245.07L94.16 241.17zM101.16 235.59L107.16 239.49L101.16 243.39L95.16 239.49zM102.17 233.91L108.17 237.81L102.17 241.71L96.17 237.81zM103.17 232.24L109.17 236.14L103.17 240.04L97.17 236.14zM104.18 230.57L110.18 234.47L104.18 238.37L98.18 234.47zM105.19 228.90L111.19 232.80L105.19 236.70L99.19 232.80zM106.19 227.24L112.19 231.14L106.19 235.04L100.19 231.14zM107.20 225.58L113.20 229.48L107.20 233.38L101.20 229.48zM108.20 223.93L114.20 227.83L108.20 231.73L102.20 227.83zM109.21 222.27L115.21 226.17L109.21 230.07L103.21 226.17zM110.22 220.61L116.22 224.51L110.22 228.41L104.22 224.51zM111.22 218.95L117.22 222.85L111.22 226.75L105.22 222.85zM112.23 217.28L118.23 221.18L112.23 225.08L106.23 221.18zM113.23 215.62L119.23 219.52L113.23 223.42L107.23 219.52zM114.24 213.95L120.24 217.85L114.24 221.75L108.24 217.85zM115.25 212.29L121.25 216.19L115.25 220.09L109.25 216.19zM116.25 210.63L122.25 214.53L116.25 218.43L110.25 214.53zM117.26 208.97L123.26 212.87L117.26 216.77L111.26 212.87zM118.26 207.31L124.26 211.21L118.26 215.11L112.26 211.21zM119.27 205.67L125.27 209.57L119.27 213.47L113.27 209.57zM120.28 204.02L126.28 207.92L120.28 211.82L114.28 207.92zM121.28 202.39L127.28 206.29L121.28 210.19L115.28 206.29zM122.29 200.77L128.29 204.67L122.29 208.57L116.29 204.67zM123.29 199.15L129.29 203.05L123.29 206.95L117.29 203.05zM124.30 197.55L130.30 201.45L124.30 205.35L118.30 201.45zM125.31 195.96L131.31 199.86L125.31 203.76L119.31 199.86zM126.31 194.38L132.31 198.28L126.31 202.18L120.31 198.28zM127.32 192.81L133.32 196.71L127.32 200.61L121.32 196.71zM128.32 191.26L134.32 195.16L128.32 199.06L122.32 195.16zM129.33 189.73L135.33 193.63L129.33 197.53L123.33 193.63zM130.34 188.21L136.34 192.11L130.34 196.01L124.34 192.11zM131.34 186.72L137.34 190.62L131.34 194.52L125.34 190.62zM132.35 185.24L138.35 189.14L132.35 193.04L126.35 189.14zM133.35 183.78L139.35 187.68L133.35 191.58L127.35 187.68zM134.36 182.34L140.36 186.24L134.36 190.14L128.36 186.24zM135.37 180.93L141.37 184.83L135.37 188.73L129.37 184.83zM136.37 179.53L142.37 183.43L136.37 187.33L130.37 183.43zM137.38 178.15L143.38 182.05L137.38 185.95L131.38 182.05zM138.38 176.78L144.38 180.68L138.38 184.58L132.38 180.68zM139.39 175.43L145.39 179.33L139.39 183.23L133.39 179.33zM140.40 174.09L146.40 177.99L140.40 181.89L134.40 177.99zM141.40 172.77L147.40 176.67L141.40 180.57L135.40 176.67zM142.41 171.47L148.41 175.37L142.41 179.27L136.41 175.37zM143.41 170.19L149.41 174.09L143.41 177.99L137.41 174.09zM144.42 168.92L150.42 172.82L144.42 176.72L138.42 172.82zM145.43 167.69L151.43 171.59L145.43 175.49L139.43 171.59zM146.43 166.47L152.43 170.37L146.43 174.27L140.43 170.37zM147.44 165.28L153.44 169.18L147.44 173.08L141.44 169.18zM148.44 164.12L154.44 168.02L148.44 171.92L142.44 168.02zM149.45 162.98L155.45 166.88L149.45 170.78L143.45 166.88zM150.46 161.87L156.46 165.77L150.46 169.67L144.46 165.77zM151.46 160.77L157.46 164.67L151.46 168.57L145.46 164.67zM152.47 159.68L158.47 163.58L152.47 167.48L146.47 163.58zM153.47 158.59L159.47 162.49L153.47 166.39L147.47 162.49zM154.48 157.51L160.48 161.41L154.48 165.31L148.48 161.41zM155.49 156.45L161.49 160.35L155.49 164.25L149.49 160.35zM156.49 155.40L162.49 159.30L156.49 163.20L150.49 159.30zM157.50 154.37L163.50 158.27L157.50 162.17L151.50 158.27zM158.50 153.35L164.50 157.25L158.50 161.15L152.50 157.25zM159.51 152.35L165.51 156.25L159.51 160.15L153.51 156.25zM160.52 151.38L166.52 155.28L160.52 159.18L154.52 155.28zM161.52 150.42L167.52 154.32L161.52 158.22L155.52 154.32zM162.53 149.50L168.53 153.40L162.53 157.30L156.53 153.40zM163.53 148.60L169.53 152.50L163.53 156.40L157.53 152.50zM164.54 147.72L170.54 151.62L164.54 155.52L158.54 151.62zM165.55 146.88L171.55 150.78L165.55 154.68L159.55 150.78zM166.55 146.08L172.55 149.98L166.55 153.88L160.55 149.98zM167.56 145.30L173.56 149.20L167.56 153.10L161.56 149.20zM168.56 144.57L174.56 148.47L168.56 152.37L162.56 148.47zM169.57 143.85L175.57 147.75L169.57 151.65L163.57 147.75zM170.58 143.15L176.58 147.05L170.58 150.95L164.58 147.05zM171.58 142.46L177.58 146.36L171.58 150.26L165.58 146.36zM172.59 141.78L178.59 145.68L172.59 149.58L166.59 145.68zM173.59 141.12L179.59 145.02L173.59 148.92L167.59 145.02zM174.60 140.48L180.60 144.38L174.60 148.28L168.60 144.38zM175.61 139.85L181.61 143.75L175.61 147.65L169.61 143.75zM176.61 139.24L182.61 143.14L176.61 147.04L170.61 143.14zM177.62 138.65L183.62 142.55L177.62 146.45L171.62 142.55zM178.62 138.07L184.62 141.97L178.62 145.87L172.62 141.97zM179.63 137.51L185.63 141.41L179.63 145.31L173.63 141.41zM180.64 136.97L186.64 140.87L180.64 144.77L174.64 140.87zM181.64 136.45L187.64 140.35L181.64 144.25L175.64 140.35zM182.65 135.95L188.65 139.85L182.65 143.75L176.65 139.85zM183.65 135.47L189.65 139.37L183.65 143.27L177.65 139.37zM184.66 135.01L190.66 138.91L184.66 142.81L178.66 138.91zM185.67 134.57L191.67 138.47L185.67 142.37L179.67 138.47zM186.67 134.15L192.67 138.05L186.67 141.95L180.67 138.05zM187.68 133.74L193.68 137.64L187.68 141.54L181.68 137.64zM188.68 133.35L194.68 137.25L188.68 141.15L182.68 137.25zM189.69 132.95L195.69 136.85L189.69 140.75L183.69 136.85zM190.70 132.56L196.70 136.46L190.70 140.36L184.70 136.46zM191.70 132.18L197.70 136.08L191.70 139.98L185.70 136.08zM192.71 131.81L198.71 135.71L192.71 139.61L186.71 135.71zM193.71 131.44L199.71 135.34L193.71 139.24L187.71 135.34zM194.72 131.08L200.72 134.98L194.72 138.88L188.72 134.98zM195.73 130.72L201.73 134.62L195.73 138.52L189.73 134.62zM196.73 130.37L202.73 134.27L196.73 138.17L190.73 134.27zM197.74 130.04L203.74 133.94L197.74 137.84L191.74 133.94zM198.74 129.70L204.74 133.60L198.74 137.50L192.74 133.60zM199.75 129.38L205.75 133.28L199.75 137.18L193.75 133.28zM200.76 129.07L206.76 132.97L200.76 136.87L194.76 132.97zM201.76 128.76L207.76 132.66L201.76 136.56L195.76 132.66zM202.77 128.47L208.77 132.37L202.77 136.27L196.77 132.37zM203.77 128.18L209.77 132.08L203.77 135.98L197.77 132.08zM204.78 127.91L210.78 131.81L204.78 135.71L198.78 131.81zM205.79 127.64L211.79 131.54L205.79 135.44L199.79 131.54zM206.79 127.39L212.79 131.29L206.79 135.19L200.79 131.29zM207.80 127.14L213.80 131.04L207.80 134.94L201.80 131.04zM208.80 126.91L214.80 130.81L208.80 134.71L202.80 130.81zM209.81 126.69L215.81 130.59L209.81 134.49L203.81 130.59zM210.82 126.48L216.82 130.38L210.82 134.28L204.82 130.38zM211.82 126.28L217.82 130.18L211.82 134.08L205.82 130.18zM212.83 126.10L218.83 130.00L212.83 133.90L206.83 130.00zM213.83 125.93L219.83 129.83L213.83 133.73L207.83 129.83zM214.84 125.77L220.84 129.67L214.84 133.57L208.84 129.67zM215.85 125.61L221.85 129.51L215.85 133.41L209.85 129.51zM216.85 125.46L222.85 129.36L216.85 133.26L210.85 129.36zM217.86 125.31L223.86 129.21L217.86 133.11L211.86 129.21zM218.86 125.17L224.86 129.07L218.86 132.97L212.86 129.07zM219.87 125.03L225.87 128.93L219.87 132.83L213.87 128.93zM220.88 124.90L226.88 128.80L220.88 132.70L214.88 128.80zM221.88 124.77L227.88 128.67L221.88 132.57L215.88 128.67zM222.89 124.64L228.89 128.54L222.89 132.44L216.89 128.54zM223.89 124.52L229.89 128.42L223.89 132.32L217.89 128.42zM224.90 124.40L230.90 128.30L224.90 132.20L218.90 128.30zM225.91 124.29L231.91 128.19L225.91 132.09L219.91 128.19zM226.91 124.18L232.91 128.08L226.91 131.98L220.91 128.08zM227.92 124.07L233.92 127.97L227.92 131.87L221.92 127.97zM228.92 123.97L234.92 127.87L228.92 131.77L222.92 127.87zM229.93 123.87L235.93 127.77L229.93 131.67L223.93 127.77zM230.94 123.77L236.94 127.67L230.94 131.57L224.94 127.67zM231.94 123.67L237.94 127.57L231.94 131.47L225.94 127.57zM232.95 123.58L238.95 127.48L232.95 131.38L226.95 127.48zM233.95 123.48L239.95 127.38L233.95 131.28L227.95 127.38zM234.96 123.39L240.96 127.29L234.96 131.19L228.96 127.29zM235.97 123.31L241.97 127.21L235.97 131.11L229.97 127.21zM236.97 123.22L242.97 127.12L236.97 131.02L230.97 127.12zM237.98 123.14L243.98 127.04L237.98 130.94L231.98 127.04zM238.98 123.05L244.98 126.95L238.98 130.85L232.98 126.95zM239.99 122.97L245.99 126.87L239.99 130.77L233.99 126.87zM241.00 122.89L247.00 126.79L241.00 130.69L235.00 126.79zM242.00 122.81L248.00 126.71L242.00 130.61L236.00 126.71zM243.01 122.73L249.01 126.63L243.01 130.53L237.01 126.63zM244.01 122.65L250.01 126.55L244.01 130.45L238.01 126.55zM245.02 122.57L251.02 126.47L245.02 130.37L239.02 126.47zM246.03 122.49L252.03 126.39L246.03 130.29L240.03 126.39zM247.03 122.41L253.03 126.31L247.03 130.21L241.03 126.31zM248.04 122.33L254.04 126.23L248.04 130.13L242.04 126.23zM249.04 122.26L255.04 126.16L249.04 130.06L243.04 126.16zM250.05 122.18L256.05 126.08L250.05 129.98L244.05 126.08zM251.06 122.11L257.06 126.01L251.06 129.91L245.06 126.01zM252.06 122.03L258.06 125.93L252.06 129.83L246.06 125.93zM253.07 121.96L259.07 125.86L253.07 129.76L247.07 125.86zM254.07 121.89L260.07 125.79L254.07 129.69L248.07 125.79zM255.08 121.82L261.08 125.72L255.08 129.62L249.08 125.72zM256.09 121.75L262.09 125.65L256.09 129.55L250.09 125.65zM257.09 121.69L263.09 125.59L257.09 129.49L251.09 125.59zM258.10 121.63L264.10 125.53L258.10 129.43L252.10 125.53zM259.10 121.57L265.10 125.47L259.10 129.37L253.10 125.47zM260.11 121.51L266.11 125.41L260.11 129.31L254.11 125.41zM261.12 121.46L267.12 125.36L261.12 129.26L255.12 125.36zM262.12 121.41L268.12 125.31L262.12 129.21L256.12 125.31zM263.13 121.36L269.13 125.26L263.13 129.16L257.13 125.26zM264.13 121.32L270.13 125.22L264.13 129.12L258.13 125.22zM265.14 121.28L271.14 125.18L265.14 129.08L259.14 125.18zM266.15 121.24L272.15 125.14L266.15 129.04L260.15 125.14zM267.15 121.21L273.15 125.11L267.15 129.01L261.15 125.11zM268.16 121.18L274.16 125.08L268.16 128.98L262.16 125.08zM269.16 121.15L275.16 125.05L269.16 128.95L263.16 125.05zM270.17 121.13L276.17 125.03L270.17 128.93L264.17 125.03zM271.18 121.11L277.18 125.01L271.18 128.91L265.18 125.01zM272.18 121.09L278.18 124.99L272.18 128.89L266.18 124.99zM273.19 121.07L279.19 124.97L273.19 128.87L267.19 124.97zM274.19 121.05L280.19 124.95L274.19 128.85L268.19 124.95zM275.20 121.03L281.20 124.93L275.20 128.83L269.20 124.93zM276.21 121.01L282.21 124.91L276.21 128.81L270.21 124.91zM277.21 120.99L283.21 124.89L277.21 128.79L271.21 124.89zM278.22 120.97L284.22 124.87L278.22 128.77L272.22 124.87zM279.22 120.96L285.22 124.86L279.22 128.76L273.22 124.86zM280.23 120.95L286.23 124.85L280.23 128.75L274.23 124.85zM281.24 120.94L287.24 124.84L281.24 128.74L275.24 124.84zM282.24 120.93L288.24 124.83L282.24 128.73L276.24 124.83zM283.25 120.92L289.25 124.82L283.25 128.72L277.25 124.82zM284.25 120.92L290.25 124.82L284.25 128.72L278.25 124.82zM285.26 120.92L291.26 124.82L285.26 128.72L279.26 124.82zM286.27 120.92L292.27 124.82L286.27 128.72L280.27 124.82zM287.27 120.92L293.27 124.82L287.27 128.72L281.27 124.82zM288.28 120.92L294.28 124.82L288.28 128.72L282.28 124.82zM289.28 120.92L295.28 124.82L289.28 128.72L283.28 124.82zM290.29 120.92L296.29 124.82L290.29 128.72L284.29 124.82zM291.30 120.92L297.30 124.82L291.30 128.72L285.30 124.82zM292.30 120.92L298.30 124.82L292.30 128.72L286.30 124.82zM293.31 120.92L299.31 124.82L293.31 128.72L287.31 124.82zM294.31 120.92L300.31 124.82L294.31 128.72L288.31 124.82zM295.32 120.92L301.32 124.82L295.32 128.72L289.32 124.82zM296.33 120.92L302.33 124.82L296.33 128.72L290.33 124.82zM297.33 120.92L303.33 124.82L297.33 128.72L291.33 124.82zM298.34 120.92L304.34 124.82L298.34 128.72L292.34 124.82zM299.34 120.92L305.34 124.82L299.34 128.72L293.34 124.82zM300.35 120.92L306.35 124.82L300.35 128.72L294.35 124.82zM301.36 120.92L307.36 124.82L301.36 128.72L295.36 124.82zM302.36 120.92L308.36 124.82L302.36 128.72L296.36 124.82zM303.37 120.92L309.37 124.82L303.37 128.72L297.37 124.82zM304.37 120.92L310.37 124.82L304.37 128.72L298.37 124.82zM305.38 120.92L311.38 124.82L305.38 128.72L299.38 124.82zM306.39 120.92L312.39 124.82L306.39 128.72L300.39 124.82zM307.39 120.92L313.39 124.82L307.39 128.72L301.39 124.82zM308.40 120.92L314.40 124.82L308.40 128.72L302.40 124.82zM309.40 120.92L315.40 124.82L309.40 128.72L303.40 124.82zM310.41 120.92L316.41 124.82L310.41 128.72L304.41 124.82zM311.42 120.92L317.42 124.82L311.42 128.72L305.42 124.82zM312.42 120.92L318.42 124.82L312.42 128.72L306.42 124.82zM313.43 120.92L319.43 124.82L313.43 128.72L307.43 124.82zM314.43 120.92L320.43 124.82L314.43 128.72L308.43 124.82zM315.44 120.92L321.44 124.82L315.44 128.72L309.44 124.82zM316.45 120.92L322.45 124.82L316.45 128.72L310.45 124.82zM317.45 120.92L323.45 124.82L317.45 128.72L311.45 124.82zM318.46 120.92L324.46 124.82L318.46 128.72L312.46 124.82zM319.46 120.92L325.46 124.82L319.46 128.72L313.46 124.82zM320.47 120.92L326.47 124.82L320.47 128.72L314.47 124.82zM321.48 120.92L327.48 124.82L321.48 128.72L315.48 124.82zM322.48 120.92L328.48 124.82L322.48 128.72L316.48 124.82zM323.49 120.92L329.49 124.82L323.49 128.72L317.49 124.82zM324.49 120.92L330.49 124.82L324.49 128.72L318.49 124.82zM325.50 120.92L331.50 124.82L325.50 128.72L319.50 124.82zM326.51 120.92L332.51 124.82L326.51 128.72L320.51 124.82zM327.51 120.92L333.51 124.82L327.51 128.72L321.51 124.82zM328.52 120.92L334.52 124.82L328.52 128.72L322.52 124.82zM329.52 120.92L335.52 124.82L329.52 128.72L323.52 124.82zM330.53 120.92L336.53 124.82L330.53 128.72L324.53 124.82zM331.54 120.92L337.54 124.82L331.54 128.72L325.54 124.82zM332.54 120.92L338.54 124.82L332.54 128.72L326.54 124.82zM333.55 120.92L339.55 124.82L333.55 128.72L327.55 124.82zM334.55 120.92L340.55 124.82L334.55 128.72L328.55 124.82zM335.56 120.92L341.56 124.82L335.56 128.72L329.56 124.82zM336.57 120.92L342.57 124.82L336.57 128.72L330.57 124.82zM337.57 120.92L343.57 124.82L337.57 128.72L331.57 124.82zM338.58 120.92L344.58 124.82L338.58 128.72L332.58 124.82zM339.58 120.92L345.58 124.82L339.58 128.72L333.58 124.82zM340.59 120.92L346.59 124.82L340.59 128.72L334.59 124.82zM341.60 120.92L347.60 124.82L341.60 128.72L335.60 124.82zM342.60 120.92L348.60 124.82L342.60 128.72L336.60 124.82zM343.61 120.92L349.61 124.82L343.61 128.72L337.61 124.82zM344.61 120.92L350.61 124.82L344.61 128.72L338.61 124.82zM345.62 120.92L351.62 124.82L345.62 128.72L339.62 124.82zM346.63 120.92L352.63 124.82L346.63 128.72L340.63 124.82zM347.63 120.92L353.63 124.82L347.63 128.72L341.63 124.82zM348.64 120.92L354.64 124.82L348.64 128.72L342.64 124.82zM349.64 120.92L355.64 124.82L349.64 128.72L343.64 124.82zM350.65 120.92L356.65 124.82L350.65 128.72L344.65 124.82zM351.66 120.92L357.66 124.82L351.66 128.72L345.66 124.82zM352.66 120.92L358.66 124.82L352.66 128.72L346.66 124.82zM353.67 120.92L359.67 124.82L353.67 128.72L347.67 124.82zM354.67 120.92L360.67 124.82L354.67 128.72L348.67 124.82zM355.68 120.92L361.68 124.82L355.68 128.72L349.68 124.82zM356.69 120.92L362.69 124.82L356.69 128.72L350.69 124.82zM357.69 120.92L363.69 124.82L357.69 128.72L351.69 124.82zM358.70 120.92L364.70 124.82L358.70 128.72L352.70 124.82zM359.70 120.92L365.70 124.82L359.70 128.72L353.70 124.82zM360.71 120.92L366.71 124.82L360.71 128.72L354.71 124.82zM361.72 120.92L367.72 124.82L361.72 128.72L355.72 124.82zM362.72 120.92L368.72 124.82L362.72 128.72L356.72 124.82zM363.73 120.92L369.73 124.82L363.73 128.72L357.73 124.82zM364.73 120.92L370.73 124.82L364.73 128.72L358.73 124.82zM365.74 120.92L371.74 124.82L365.74 128.72L359.74 124.82zM366.75 120.92L372.75 124.82L366.75 128.72L360.75 124.82zM367.75 120.92L373.75 124.82L367.75 128.72L361.75 124.82zM368.76 120.92L374.76 124.82L368.76 128.72L362.76 124.82zM369.76 120.92L375.76 124.82L369.76 128.72L363.76 124.82zM370.77 120.92L376.77 124.82L370.77 128.72L364.77 124.82zM371.78 120.92L377.78 124.82L371.78 128.72L365.78 124.82zM372.78 120.92L378.78 124.82L372.78 128.72L366.78 124.82zM373.79 120.92L379.79 124.82L373.79 128.72L367.79 124.82zM374.79 120.92L380.79 124.82L374.79 128.72L368.79 124.82zM375.80 120.92L381.80 124.82L375.80 128.72L369.80 124.82zM376.81 120.92L382.81 124.82L376.81 128.72L370.81 124.82zM377.81 120.92L383.81 124.82L377.81 128.72L371.81 124.82zM378.82 120.92L384.82 124.82L378.82 128.72L372.82 124.82zM379.82 120.92L385.82 124.82L379.82 128.72L373.82 124.82zM380.83 120.92L386.83 124.82L380.83 128.72L374.83 124.82zM381.84 120.92L387.84 124.82L381.84 128.72L375.84 124.82zM382.84 120.92L388.84 124.82L382.84 128.72L376.84 124.82zM383.85 120.92L389.85 124.82L383.85 128.72L377.85 124.82zM384.85 120.92L390.85 124.82L384.85 128.72L378.85 124.82zM385.86 120.92L391.86 124.82L385.86 128.72L379.86 124.82zM386.87 120.92L392.87 124.82L386.87 128.72L380.87 124.82zM387.87 120.92L393.87 124.82L387.87 128.72L381.87 124.82zM388.88 120.92L394.88 124.82L388.88 128.72L382.88 124.82zM389.88 120.92L395.88 124.82L389.88 128.72L383.88 124.82zM390.89 120.92L396.89 124.82L390.89 128.72L384.89 124.82zM391.90 120.92L397.90 124.82L391.90 128.72L385.90 124.82zM392.90 120.92L398.90 124.82L392.90 128.72L386.90 124.82zM393.91 120.92L399.91 124.82L393.91 128.72L387.91 124.82zM394.91 120.92L400.91 124.82L394.91 128.72L388.91 124.82zM395.92 120.92L401.92 124.82L395.92 128.72L389.92 124.82zM396.93 120.92L402.93 124.82L396.93 128.72L390.93 124.82zM397.93 120.92L403.93 124.82L397.93 128.72L391.93 124.82zM398.94 120.92L404.94 124.82L398.94 128.72L392.94 124.82zM399.94 120.92L405.94 124.82L399.94 128.72L393.94 124.82zM400.95 120.92L406.95 124.82L400.95 128.72L394.95 124.82zM401.96 120.92L407.96 124.82L401.96 128.72L395.96 124.82zM402.96 120.92L408.96 124.82L402.96 128.72L396.96 124.82zM403.97 120.92L409.97 124.82L403.97 128.72L397.97 124.82zM404.97 120.92L410.97 124.82L404.97 128.72L398.97 124.82zM405.98 120.92L411.98 124.82L405.98 128.72L399.98 124.82zM406.99 120.92L412.99 124.82L406.99 128.72L400.99 124.82zM407.99 120.92L413.99 124.82L407.99 128.72L401.99 124.82zM409.00 120.92L415.00 124.82L409.00 128.72L403.00 124.82zM410.00 120.92L416.00 124.82L410.00 128.72L404.00 124.82zM411.01 120.92L417.01 124.82L411.01 128.72L405.01 124.82zM412.02 120.92L418.02 124.82L412.02 128.72L406.02 124.82zM413.02 120.92L419.02 124.82L413.02 128.72L407.02 124.82zM414.03 120.92L420.03 124.82L414.03 128.72L408.03 124.82zM415.03 120.92L421.03 124.82L415.03 128.72L409.03 124.82zM416.04 120.92L422.04 124.82L416.04 128.72L410.04 124.82zM417.05 120.92L423.05 124.82L417.05 128.72L411.05 124.82zM418.05 120.92L424.05 124.82L418.05 128.72L412.05 124.82zM419.06 120.92L425.06 124.82L419.06 128.72L413.06 124.82zM420.06 120.92L426.06 124.82L420.06 128.72L414.06 124.82zM421.07 120.92L427.07 124.82L421.07 128.72L415.07 124.82zM422.08 120.92L428.08 124.82L422.08 128.72L416.08 124.82zM423.08 120.92L429.08 124.82L423.08 128.72L417.08 124.82zM424.09 120.92L430.09 124.82L424.09 128.72L418.09 124.82zM425.09 120.92L431.09 124.82L425.09 128.72L419.09 124.82zM426.10 120.92L432.10 124.82L426.10 128.72L420.10 124.82zM427.11 120.92L433.11 124.82L427.11 128.72L421.11 124.82zM428.11 120.92L434.11 124.82L428.11 128.72L422.11 124.82zM429.12 120.92L435.12 124.82L429.12 128.72L423.12 124.82zM430.12 120.92L436.12 124.82L430.12 128.72L424.12 124.82zM431.13 120.92L437.13 124.82L431.13 128.72L425.13 124.82zM432.14 120.92L438.14 124.82L432.14 128.72L426.14 124.82zM433.14 120.92L439.14 124.82L433.14 128.72L427.14 124.82zM434.15 120.92L440.15 124.82L434.15 128.72L428.15 124.82zM435.15 120.92L441.15 124.82L435.15 128.72L429.15 124.82zM436.16 120.92L442.16 124.82L436.16 128.72L430.16 124.82zM437.17 120.92L443.17 124.82L437.17 128.72L431.17 124.82zM438.17 120.92L444.17 124.82L438.17 128.72L432.17 124.82zM439.18 120.92L445.18 124.82L439.18 128.72L433.18 124.82zM440.18 120.92L446.18 124.82L440.18 128.72L434.18 124.82zM441.19 120.92L447.19 124.82L441.19 128.72L435.19 124.82zM442.20 120.92L448.20 124.82L442.20 128.72L436.20 124.82zM443.20 120.92L449.20 124.82L443.20 128.72L437.20 124.82zM444.21 120.92L450.21 124.82L444.21 128.72L438.21 124.82zM445.21 120.92L451.21 124.82L445.21 128.72L439.21 124.82zM446.22 120.92L452.22 124.82L446.22 128.72L440.22 124.82zM447.23 120.92L453.23 124.82L447.23 128.72L441.23 124.82zM448.23 120.92L454.23 124.82L448.23 128.72L442.23 124.82zM449.24 120.92L455.24 124.82L449.24 128.72L443.24 124.82zM450.24 120.92L456.24 124.82L450.24 128.72L444.24 124.82zM451.25 120.92L457.25 124.82L451.25 128.72L445.25 124.82zM452.26 120.92L458.26 124.82L452.26 128.72L446.26 124.82zM453.26 120.92L459.26 124.82L453.26 128.72L447.26 124.82zM454.27 120.92L460.27 124.82L454.27 128.72L448.27 124.82zM455.27 120.92L461.27 124.82L455.27 128.72L449.27 124.82zM456.28 120.92L462.28 124.82L456.28 128.72L450.28 124.82zM457.29 120.92L463.29 124.82L457.29 128.72L451.29 124.82zM458.29 120.92L464.29 124.82L458.29 128.72L452.29 124.82zM459.30 120.92L465.30 124.82L459.30 128.72L453.30 124.82zM460.30 120.92L466.30 124.82L460.30 128.72L454.30 124.82zM461.31 120.92L467.31 124.82L461.31 128.72L455.31 124.82zM462.32 120.92L468.32 124.82L462.32 128.72L456.32 124.82zM463.32 120.92L469.32 124.82L463.32 128.72L457.32 124.82zM464.33 120.92L470.33 124.82L464.33 128.72L458.33 124.82zM465.33 120.92L471.33 124.82L465.33 128.72L459.33 124.82zM466.34 120.92L472.34 124.82L466.34 128.72L460.34 124.82zM467.35 120.92L473.35 124.82L467.35 128.72L461.35 124.82zM468.35 120.92L474.35 124.82L468.35 128.72L462.35 124.82zM469.36 120.92L475.36 124.82L469.36 128.72L463.36 124.82zM470.36 120.92L476.36 124.82L470.36 128.72L464.36 124.82zM471.37 120.92L477.37 124.82L471.37 128.72L465.37 124.82zM472.38 120.92L478.38 124.82L472.38 128.72L466.38 124.82zM473.38 120.92L479.38 124.82L473.38 128.72L467.38 124.82zM474.39 120.92L480.39 124.82L474.39 128.72L468.39 124.82zM475.39 120.92L481.39 124.82L475.39 128.72L469.39 124.82zM476.40 120.92L482.40 124.82L476.40 128.72L470.40 124.82z"/>
<path fill="#ff00ff" d="M66.80 286.40L78.80 282.30L78.80 290.50zM67.81 284.49L79.81 280.39L79.81 288.59zM68.81 282.58L80.81 278.48L80.81 286.68zM69.82 280.68L81.82 276.58L81.82 284.78zM70.82 278.77L82.82 274.67L82.82 282.87zM71.83 276.87L83.83 272.77L83.83 280.97zM72.84 274.96L84.84 270.86L84.84 279.06zM73.84 273.06L85.84 268.96L85.84 277.16zM74.85 271.16L86.85 267.06L86.85 275.26zM75.85 269.26L87.85 265.16L87.85 273.36zM76.86 267.36L88.86 263.26L88.86 271.46zM77.87 265.47L89.87 261.37L89.87 269.57zM78.87 263.57L90.87 259.47L90.87 267.67zM79.88 261.67L91.88 257.57L91.88 265.77zM80.88 259.78L92.88 255.68L92.88 263.88zM81.89 257.89L93.89 253.79L93.89 261.99zM82.90 256.00L94.90 251.90L94.90 260.10zM83.90 254.10L95.90 250.00L95.90 258.20zM84.91 252.22L96.91 248.12L96.91 256.32zM85.91 250.33L97.91 246.23L97.91 254.43zM86.92 248.44L98.92 244.34L98.92 252.54zM87.93 246.55L99.93 242.45L99.93 250.65zM88.93 244.67L100.93 240.57L100.93 248.77zM89.94 242.78L101.94 238.68L101.94 246.88zM90.94 240.90L102.94 236.80L102.94 245.00zM91.95 239.02L103.95 234.92L103.95 243.12zM92.96 237.13L104.96 233.03L104.96 241.23zM93.96 235.25L105.96 231.15L105.96 239.35zM94.97 233.37L106.97 229.27L106.97 237.47zM95.97 231.50L107.97 227.40L107.97 235.60zM96.98 229.62L108.98 225.52L108.98 233.72zM97.99 227.74L109.99 223.64L109.99 231.84zM98.99 225.85L110.99 221.75L110.99 229.95zM100.00 223.95L112.00 219.85L112.00 228.05zM101.00 222.04L113.00 217.94L113.00 226.14zM102.01 220.12L114.01 216.02L114.01 224.22zM103.02 218.20L115.02 214.10L115.02 222.30zM104.02 216.27L116.02 212.17L116.02 220.37zM105.03 214.34L117.03 210.24L117.03 218.44zM106.03 212.41L118.03 208.31L118.03 216.51zM107.04 210.48L119.04 206.38L119.04 214.58zM108.05 208.56L120.05 204.46L120.05 212.66zM109.05 206.64L121.05 202.54L121.05 210.74zM110.06 204.73L122.06 200.63L122.06 208.83zM111.06 202.83L123.06 198.73L123.06 206.93zM112.07 200.95L124.07 196.85L124.07 205.05zM113.08 199.08L125.08 194.98L125.08 203.18zM114.08 197.22L126.08 193.12L126.08 201.32zM115.09 195.39L127.09 191.29L127.09 199.49zM116.09 193.57L128.09 189.47L128.09 197.67zM117.10 191.78L129.10 187.68L129.10 195.88zM118.11 190.01L130.11 185.91L130.11 194.11zM119.11 188.27L131.11 184.17L131.11 192.37zM120.12 186.56L132.12 182.46L132.12 190.66zM121.12 184.88L133.12 180.78L133.12 188.98zM122.13 183.23L134.13 179.13L134.13 187.33zM123.14 181.60L135.14 177.50L135.14 185.70zM124.14 179.99L136.14 175.89L136.14 184.09zM125.15 178.40L137.15 174.30L137.15 182.50zM126.15 176.83L138.15 172.73L138.15 180.93zM127.16 175.27L139.16 171.17L139.16 179.37zM128.17 173.74L140.17 169.64L140.17 177.84zM129.17 172.21L141.17 168.11L141.17 176.31zM130.18 170.71L142.18 166.61L142.18 174.81zM131.18 169.21L143.18 165.11L143.18 173.31zM132.19 167.73L144.19 163.63L144.19 171.83zM133.20 166.26L145.20 162.16L145.20 170.36zM134.20 164.79L146.20 160.69L146.20 168.89zM135.21 163.34L147.21 159.24L147.21 167.44zM136.21 161.89L148.21 157.79L148.21 165.99zM137.22 160.45L149.22 156.35L149.22 164.55zM138.23 159.02L150.23 154.92L150.23 163.12zM139.23 157.59L151.23 153.49L151.23 161.69zM140.24 156.16L152.24 152.06L152.24 160.26zM141.24 154.74L153.24 150.64L153.24 158.84zM142.25 153.32L154.25 149.22L154.25 157.42zM143.26 151.90L155.26 147.80L155.26 156.00zM144.26 150.47L156.26 146.37L156.26 154.57zM145.27 149.05L157.27 144.95L157.27 153.15zM146.27 147.62L158.27 143.52L158.27 151.72zM147.28 146.18L159.28 142.08L159.28 150.28zM148.29 144.75L160.29 140.65L160.29 148.85zM149.29 143.30L161.29 139.20L161.29 147.40zM150.30 141.85L162.30 137.75L162.30 145.95zM151.30 140.39L163.30 136.29L163.30 144.49zM152.31 138.92L164.31 134.82L164.31 143.02zM153.32 137.43L165.32 133.33L165.32 141.53zM154.32 135.93L166.32 131.83L166.32 140.03zM155.33 134.42L167.33 130.32L167.33 138.52zM156.33 132.90L168.33 128.80L168.33 137.00zM157.34 131.37L169.34 127.27L169.34 135.47zM158.35 129.83L170.35 125.73L170.35 133.93zM159.35 128.29L171.35 124.19L171.35 132.39zM160.36 126.74L172.36 122.64L172.36 130.84zM161.36 125.20L173.36 121.10L173.36 129.30zM162.37 123.66L174.37 119.56L174.37 127.76zM163.38 122.12L175.38 118.02L175.38 126.22zM164.38 120.58L176.38 116.48L176.38 124.68zM165.39 119.05L177.39 114.95L177.39 123.15zM166.39 117.53L178.39 113.43L178.39 121.63zM167.40 116.03L179.40 111.93L179.40 120.13zM168.41 114.53L180.41 110.43L180.41 118.63zM169.41 113.05L181.41 108.95L181.41 117.15zM170.42 111.58L182.42 107.48L182.42 115.68zM171.42 110.13L183.42 106.03L183.42 114.23zM172.43 108.71L184.43 104.61L184.43 112.81zM173.44 107.30L185.44 103.20L185.44 111.40zM174.44 105.92L186.44 101.82L186.44 110.02zM175.45 104.57L187.45 100.47L187.45 108.67zM176.45 103.24L188.45 99.14L188.45 107.34zM177.46 101.94L189.46 97.84L189.46 106.04zM178.47 100.68L190.47 96.58L190.47 104.78zM179.47 99.44L191.47 95.34L191.47 103.54zM180.48 98.23L192.48 94.13L192.48 102.33zM181.48 97.02L193.48 92.92L193.48 101.12zM182.49 95.82L194.49 91.72L194.49 99.92zM183.50 94.63L195.50 90.53L195.50 98.73zM184.50 93.44L196.50 89.34L196.50 97.54zM185.51 92.27L197.51 88.17L197.51 96.37zM186.51 91.10L198.51 87.00L198.51 95.20zM187.52 89.95L199.52 85.85L199.52 94.05zM188.53 88.81L200.53 84.71L200.53 92.91zM189.53 87.68L201.53 83.58L201.53 91.78zM190.54 86.56L202.54 82.46L202.54 90.66zM191.54 85.46L203.54 81.36L203.54 89.56zM192.55 84.37L204.55 80.27L204.55 88.47zM193.56 83.30L205.56 79.20L205.56 87.40zM194.56 82.25L206.56 78.15L206.56 86.35zM195.57 81.21L207.57 77.11L207.57 85.31zM196.57 80.20L208.57 76.10L208.57 84.30zM197.58 79.20L209.58 75.10L209.58 83.30zM198.59 78.23L210.59 74.13L210.59 82.33zM199.59 77.28L211.59 73.18L211.59 81.38zM200.60 76.35L212.60 72.25L212.60 80.45zM201.60 75.45L213.60 71.35L213.60 79.55zM202.61 74.57L214.61 70.47L214.61 78.67zM203.62 73.71L215.62 69.61L215.62 77.81zM204.62 72.88L216.62 68.78L216.62 76.98zM205.63 72.08L217.63 67.98L217.63 76.18zM206.63 71.31L218.63 67.21L218.63 75.41zM207.64 70.56L219.64 66.46L219.64 74.66zM208.65 69.82L220.65 65.72L220.65 73.92zM209.65 69.10L221.65 65.00L221.65 73.20zM210.66 68.38L222.66 64.28L222.66 72.48zM211.66 67.68L223.66 63.58L223.66 71.78zM212.67 66.99L224.67 62.89L224.67 71.09zM213.68 66.31L225.68 62.21L225.68 70.41zM214.68 65.64L226.68 61.54L226.68 69.74zM215.69 64.99L227.69 60.89L227.69 69.09zM216.69 64.34L228.69 60.24L228.69 68.44zM217.70 63.71L229.70 59.61L229.70 67.81zM218.71 63.09L230.71 58.99L230.71 67.19zM219.71 62.49L231.71 58.39L231.71 66.59zM220.72 61.89L232.72 57.79L232.72 65.99zM221.72 61.31L233.72 57.21L233.72 65.41zM222.73 60.74L234.73 56.64L234.73 64.84zM223.74 60.18L235.74 56.08L235.74 64.28zM224.74 59.63L236.74 55.53L236.74 63.73zM225.75 59.10L237.75 55.00L237.75 63.20zM226.75 58.58L238.75 54.48L238.75 62.68zM227.76 58.07L239.76 53.97L239.76 62.17zM228.77 57.58L240.77 53.48L240.77 61.68zM229.77 57.10L241.77 53.00L241.77 61.20zM230.78 56.63L242.78 52.53L242.78 60.73zM231.78 56.17L243.78 52.07L243.78 60.27zM232.79 55.73L244.79 51.63L244.79 59.83zM233.80 55.30L245.80 51.20L245.80 59.40zM234.80 54.88L246.80 50.78L246.80 58.98zM235.81 54.46L247.81 50.36L247.81 58.56zM236.81 54.04L248.81 49.94L248.81 58.14zM237.82 53.62L249.82 49.52L249.82 57.72zM238.83 53.20L250.83 49.10L250.83 57.30zM239.83 52.79L251.83 48.69L251.83 56.89zM240.84 52.38L252.84 48.28L252.84 56.48zM241.84 51.97L253.84 47.87L253.84 56.07zM242.85 51.57L254.85 47.47L254.85 55.67zM243.86 51.17L255.86 47.07L255.86 55.27zM244.86 50.78L256.86 46.68L256.86 54.88zM245.87 50.40L257.87 46.30L257.87 54.50zM246.87 50.03L258.87 45.93L258.87 54.13zM247.88 49.67L259.88 45.57L259.88 53.77zM248.89 49.32L260.89 45.22L260.89 53.42zM249.89 48.98L261.89 44.88L261.89 53.08zM250.90 48.66L262.90 44.56L262.90 52.76zM251.90 48.35L263.90 44.25L263.90 52.45zM252.91 48.05L264.91 43.95L264.91 52.15zM253.92 47.78L265.92 43.68L265.92 51.88zM254.92 47.51L266.92 43.41L266.92 51.61zM255.93 47.27L267.93 43.17L267.93 51.37zM256.93 47.05L268.93 42.95L268.93 51.15zM257.94 46.84L269.94 42.74L269.94 50.94zM258.95 46.66L270.95 42.56L270.95 50.76zM259.95 46.50L271.95 42.40L271.95 50.60zM260.96 46.36L272.96 42.26L272.96 50.46zM261.96 46.25L273.96 42.15L273.96 50.35zM262.97 46.14L274.97 42.04L274.97 50.24zM263.98 46.04L275.98 41.94L275.98 50.14zM264.98 45.94L276.98 41.84L276.98 50.04zM265.99 45.85L277.99 41.75L277.99 49.95zM266.99 45.76L278.99 41.66L278.99 49.86zM268.00 45.68L280.00 41.58L280.00 49.78zM269.01 45.60L281.01 41.50L281.01 49.70zM270.01 45.54L282.01 41.44L282.01 49.64zM271.02 45.49L283.02 41.39L283.02 49.59zM272.02 45.45L284.02 41.35L284.02 49.55zM273.03 45.43L285.03 41.33L285.03 49.53zM274.04 45.42L286.04 41.32L286.04 49.52zM275.04 45.42L287.04 41.32L287.04 49.52zM276.05 45.42L288.05 41.32L288.05 49.52zM277.05 45.42L289.05 41.32L289.05 49.52zM278.06 45.42L290.06 41.32L290.06 49.52zM279.07 45.42L291.07 41.32L291.07 49.52zM280.07 45.42L292.07 41.32L292.07 49.52zM281.08 45.42L293.08 41.32L293.08 49.52zM282.08 45.42L294.08 41.32L294.08 49.52zM283.09 45.42L295.09 41.32L295.09 49.52zM284.10 45.42L296.10 41.32L296.10 49.52zM285.10 45.42L297.10 41.32L297.10 49.52zM286.11 45.42L298.11 41.32L298.11 49.52zM287.11 45.42L299.11 41.32L299.11 49.52zM288.12 45.42L300.12 41.32L300.12 49.52zM289.13 45.42L301.13 41.32L301.13 49.52zM290.13 45.42L302.13 41.32L302.13 49.52zM291.14 45.42L303.14 41.32L303.14 49.52zM292.14 45.42L304.14 41.32L304.14 49.52zM293.15 45.42L305.15 41.32L305.15 49.52zM294.16 45.42L306.16 41.32L306.16 49.52zM295.16 45.42L307.16 41.32L307.16 49.52zM296.17 45.42L308.17 41.32L308.17 49.52zM297.17 45.42L309.17 41.32L309.17 49.52zM298.18 45.42L310.18 41.32L310.18 49.52zM299.19 45.42L311.19 41.32L311.19 49.52zM300.19 45.42L312.19 41.32L312.19 49.52zM301.20 45.42L313.20 41.32L313.20 49.52zM302.20 45.42L314.20 41.32L314.20 49.52zM303.21 45.42L315.21 41.32L315.21 49.52zM304.22 45.42L316.22 41.32L316.22 49.52zM305.22 45.42L317.22 41.32L317.22 49.52zM306.23 45.42L318.23 41.32L318.23 49.52zM307.23 45.42L319.23 41.32L319.23 49.52zM308.24 45.42L320.24 41.32L320.24 49.52zM309.25 45.42L321.25 41.32L321.25 49.52zM310.25 45.42L322.25 41.32L322.25 49.52zM311.26 45.42L323.26 41.32L323.26 49.52zM312.26 45.42L324.26 41.32L324.26 49.52zM313.27 45.42L325.27 41.32L325.27 49.52zM314.28 45.42L326.28 41.32L326.28 49.52zM315.28 45.42L327.28 41.32L327.28 49.52zM316.29 45.42L328.29 41.32L328.29 49.52zM317.29 45.42L329.29 41.32L329.29 49.52zM318.30 45.42L330.30 41.32L330.30 49.52zM319.31 45.42L331.31 41.32L331.31 49.52zM320.31 45.42L332.31 41.32L332.31 49.52zM321.32 45.42L333.32 41.32L333.32 49.52zM322.32 45.42L334.32 41.32L334.32 49.52zM323.33 45.42L335.33 41.32L335.33 49.52zM324.34 45.42L336.34 41.32L336.34 49.52zM325.34 45.42L337.34 41.32L337.34 49.52zM326.35 45.42L338.35 41.32L338.35 49.52zM327.35 45.42L339.35 41.32L339.35 49.52zM328.36 45.42L340.36 41.32L340.36 49.52zM329.37 45.42L341.37 41.32L341.37 49.52zM330.37 45.42L342.37 41.32L342.37 49.52zM331.38 45.42L343.38 41.32L343.38 49.52zM332.38 45.42L344.38 41.32L344.38 49.52zM333.39 45.42L345.39 41.32L345.39 49.52zM334.40 45.42L346.40 41.32L346.40 49.52zM335.40 45.42L347.40 41.32L347.40 49.52zM336.41 45.42L348.41 41.32L348.41 49.52zM337.41 45.42L349.41 41.32L349.41 49.52zM338.42 45.42L350.42 41.32L350.42 49.52zM339.43 45.42L351.43 41.32L351.43 49.52zM340.43 45.42L352.43 41.32L352.43 49.52zM341.44 45.42L353.44 41.32L353.44 49.52zM342.44 45.42L354.44 41.32L354.44 49.52zM343.45 45.42L355.45 41.32L355.45 49.52zM344.46 45.42L356.46 41.32L356.46 49.52zM345.46 45.42L357.46 41.32L357.46 49.52zM346.47 45.42L358.47 41.32L358.47 49.52zM347.47 45.42L359.47 41.32L359.47 49.52zM348.48 45.42L360.48 41.32L360.48 49.52zM349.49 45.42L361.49 41.32L361.49 49.52zM350.49 45.42L362.49 41.32L362.49 49.52zM351.50 45.42L363.50 41.32L363.50 49.52zM352.50 45.42L364.50 41.32L364.50 49.52zM353.51 45.42L365.51 41.32L365.51 49.52zM354.52 45.42L366.52 41.32L366.52 49.52zM355.52 45.42L367.52 41.32L367.52 49.52zM356.53 45.42L368.53 41.32L368.53 49.52zM357.53 45.42L369.53 41.32L369.53 49.52zM358.54 45.42L370.54 41.32L370.54 49.52zM359.55 45.42L371.55 41.32L371.55 49.52zM360.55 45.42L372.55 41.32L372.55 49.52zM361.56 45.42L373.56 41.32L373.56 49.52zM362.56 45.42L374.56 41.32L374.56 49.52zM363.57 45.42L375.57 41.32L375.57 49.52zM364.58 45.42L376.58 41.32L376.58 49.52zM365.58 45.42L377.58 41.32L377.58 49.52zM366.59 45.42L378.59 41.32L378.59 49.52zM367.59 45.42L379.59 41.32L379.59 49.52zM368.60 45.42L380.60 41.32L380.60 49.52zM369.61 45.42L381.61 41.32L381.61 49.52zM370.61 45.42L382.61 41.32L382.61 49.52zM371.62 45.42L383.62 41.32L383.62 49.52zM372.62 45.42L384.62 41.32L384.62 49.52zM373.63 45.42L385.63 41.32L385.63 49.52zM374.64 45.42L386.64 41.32L386.64 49.52zM375.64 45.42L387.64 41.32L387.64 49.52zM376.65 45.42L388.65 41.32L388.65 49.52zM377.65 45.42L389.65 41.32L389.65 49.52zM378.66 45.42L390.66 41.32L390.66 49.52zM379.67 45.42L391.67 41.32L391.67 49.52zM380.67 45.42L392.67 41.32L392.67 49.52zM381.68 45.42L393.68 41.32L393.68 49.52zM382.68 45.42L394.68 41.32L394.68 49.52zM383.69 45.42L395.69 41.32L395.69 49.52zM384.70 45.42L396.70 41.32L396.70 49.52zM385.70 45.42L397.70 41.32L397.70 49.52zM386.71 45.42L398.71 41.32L398.71 49.52zM387.71 45.42L399.71 41.32L399.71 49.52zM388.72 45.42L400.72 41.32L400.72 49.52zM389.73 45.42L401.73 41.32L401.73 49.52zM390.73 45.42L402.73 41.32L402.73 49.52zM391.74 45.42L403.74 41.32L403.74 49.52zM392.74 45.42L404.74 41.32L404.74 49.52zM393.75 45.42L405.75 41.32L405.75 49.52zM394.76 45.42L406.76 41.32L406.76 49.52zM395.76 45.42L407.76 41.32L407.76 49.52zM396.77 45.42L408.77 41.32L408.77 49.52zM397.77 45.42L409.77 41.32L409.77 49.52zM398.78 45.42L410.78 41.32L410.78 49.52zM399.79 45.42L411.79 41.32L411.79 49.52zM400.79 45.42L412.79 41.32L412.79 49.52zM401.80 45.42L413.80 41.32L413.80 49.52zM402.80 45.42L414.80 41.32L414.80 49.52zM403.81 45.42L415.81 41.32L415.81 49.52zM404.82 45.42L416.82 41.32L416.82 49.52zM405.82 45.42L417.82 41.32L417.82 49.52zM406.83 45.42L418.83 41.32L418.83 49.52zM407.83 45.42L419.83 41.32L419.83 49.52zM408.84 45.42L420.84 41.32L420.84 49.52zM409.85 45.42L421.85 41.32L421.85 49.52zM410.85 45.42L422.85 41.32L422.85 49.52zM411.86 45.42L423.86 41.32L423.86 49.52zM412.86 45.42L424.86 41.32L424.86 49.52zM413.87 45.42L425.87 41.32L425.87 49.52zM414.88 45.42L426.88 41.32L426.88 49.52zM415.88 45.42L427.88 41.32L427.88 49.52zM416.89 45.42L428.89 41.32L428.89 49.52zM417.89 45.42L429.89 41.32L429.89 49.52zM418.90 45.42L430.90 41.32L430.90 49.52zM419.91 45.42L431.91 41.32L431.91 49.52zM420.91 45.42L432.91 41.32L432.91 49.52zM421.92 45.42L433.92 41.32L433.92 49.52zM422.92 45.42L434.92 41.32L434.92 49.52zM423.93 45.42L435.93 41.32L435.93 49.52zM424.94 45.42L436.94 41.32L436.94 49.52zM425.94 45.42L437.94 41.32L437.94 49.52zM426.95 45.42L438.95 41.32L438.95 49.52zM427.95 45.42L439.95 41.32L439.95 49.52zM428.96 45.42L440.96 41.32L440.96 49.52zM429.97 45.42L441.97 41.32L441.97 49.52zM430.97 45.42L442.97 41.32L442.97 49.52zM431.98 45.42L443.98 41.32L443.98 49.52zM432.98 45.42L444.98 41.32L444.98 49.52zM433.99 45.42L445.99 41.32L445.99 49.52zM435.00 45.42L447.00 41.32L447.00 49.52zM436.00 45.42L448.00 41.32L448.00 49.52zM437.01 45.42L449.01 41.32L449.01 49.52zM438.01 45.42L450.01 41.32L450.01 49.52zM439.02 45.42L451.02 41.32L451.02 49.52zM440.03 45.42L452.03 41.32L452.03 49.52zM441.03 45.42L453.03 41.32L453.03 49.52zM442.04 45.42L454.04 41.32L454.04 49.52zM443.04 45.42L455.04 41.32L455.04 49.52zM444.05 45.42L456.05 41.32L456.05 49.52zM445.06 45.42L457.06 41.32L457.06 49.52zM446.06 45.42L458.06 41.32L458.06 49.52zM447.07 45.42L459.07 41.32L459.07 49.52zM448.07 45.42L460.07 41.32L460.07 49.52zM449.08 45.42L461.08 41.32L461.08 49.52zM450.09 45.42L462.09 41.32L462.09 49.52zM451.09 45.42L463.09 41.32L463.09 49.52zM452.10 45.42L464.10 41.32L464.10 49.52zM453.10 45.42L465.10 41.32L465.10 49.52zM454.11 45.42L466.11 41.32L466.11 49.52zM455.12 45.42L467.12 41.32L467.12 49.52zM456.12 45.42L468.12 41.32L468.12 49.52zM457.13 45.42L469.13 41.32L469.13 49.52zM458.13 45.42L470.13 41.32L470.13 49.52zM459.14 45.42L471.14 41.32L471.14 49.52zM460.15 45.42L472.15 41.32L472.15 49.52zM461.15 45.42L473.15 41.32L473.15 49.52zM462.16 45.42L474.16 41.32L474.16 49.52zM463.16 45.42L475.16 41.32L475.16 49.52zM464.17 45.42L476.17 41.32L476.17 49.52zM465.18 45.42L477.18 41.32L477.18 49.52zM466.18 45.42L478.18 41.32L478.18 49.52zM467.19 45.42L479.19 41.32L479.19 49.52zM468.19 45.42L480.19 41.32L480.19 49.52zM469.20 45.42L481.20 41.32L481.20 49.52z"/>
</g>
<text x="41.81" y="291.30" font-family="Liberation Sans" font-weight="bold" font-size="16.70" fill="#000" textLength="10.68" lengthAdjust="spacingAndGlyphs">0</text>
<path fill="#000" transform="translate(41.81 169.90) scale(19.205 -16.700)" d="M0.392 0L0.252 0L0.252 0.503C0.200 0.455 0.130 0.420 0.055 0.395L0.055 0.522C0.150 0.556 0.240 0.622 0.286 0.716L0.392 0.716Z"/>
<text x="41.81" y="169.90" font-family="Liberation Sans" font-weight="bold" font-size="16.70" fill="#000" textLength="10.68" lengthAdjust="spacingAndGlyphs"> </text>
<text x="41.81" y="48.50" font-family="Liberation Sans" font-weight="bold" font-size="16.70" fill="#000" textLength="10.68" lengthAdjust="spacingAndGlyphs">2</text>
<text x="60.19" y="314.50" font-family="Liberation Sans" font-weight="bold" font-size="17.00" fill="#000" textLength="27.65" lengthAdjust="spacingAndGlyphs">0.0</text>
<text x="160.66" y="314.50" font-family="Liberation Sans" font-weight="bold" font-size="17.00" fill="#000" textLength="27.65" lengthAdjust="spacingAndGlyphs">0.5</text>
<path fill="#000" transform="translate(261.24 314.50) scale(19.890 -17.000)" d="M0.392 0L0.252 0L0.252 0.503C0.200 0.455 0.130 0.420 0.055 0.395L0.055 0.522C0.150 0.556 0.240 0.622 0.286 0.716L0.392 0.716Z"/>
<text x="261.24" y="314.50" font-family="Liberation Sans" font-weight="bold" font-size="17.00" fill="#000" textLength="27.65" lengthAdjust="spacingAndGlyphs"> .0</text>
<path fill="#000" transform="translate(361.70 314.50) scale(19.890 -17.000)" d="M0.392 0L0.252 0L0.252 0.503C0.200 0.455 0.130 0.420 0.055 0.395L0.055 0.522C0.150 0.556 0.240 0.622 0.286 0.716L0.392 0.716Z"/>
<text x="361.70" y="314.50" font-family="Liberation Sans" font-weight="bold" font-size="17.00" fill="#000" textLength="27.65" lengthAdjust="spacingAndGlyphs"> .5</text>
<text x="462.64" y="314.50" font-family="Liberation Sans" font-weight="bold" font-size="17.00" fill="#000" textLength="27.65" lengthAdjust="spacingAndGlyphs">2.0</text>
<text x="243.26" y="343.50" font-family="Liberation Sans" font-weight="bold" font-size="17.40" fill="#000" textLength="13.93" lengthAdjust="spacingAndGlyphs">V</text>
<text x="257.12" y="349.50" font-family="Liberation Sans" font-weight="bold" font-size="11.00" fill="#000" textLength="9.53" lengthAdjust="spacingAndGlyphs">D</text>
<text x="271.37" y="343.50" font-family="Liberation Sans" font-weight="bold" font-size="17.40" fill="#000" textLength="27.60" lengthAdjust="spacingAndGlyphs">(V)</text>
<g transform="translate(28.00 176.60) rotate(-90)">
<text x="-1.15" y="0" font-family="Liberation Sans" font-weight="bold" font-size="17.20">I</text>
<text x="4.13" y="7.40" font-family="Liberation Sans" font-weight="bold" font-size="10.20">D</text>
<text x="11.49" y="0" font-family="Liberation Sans" font-weight="bold" font-size="17.20" xml:space="preserve"> (µA)</text>
</g>
<rect x="68.20" y="24.60" width="86.80" height="158.70" fill="#fff" stroke="#555" stroke-width="1"/>
<text x="71.36" y="42.90" font-family="Liberation Sans" font-weight="bold" font-size="17.40" fill="#000" textLength="13.93" lengthAdjust="spacingAndGlyphs">V</text>
<text x="84.98" y="48.60" font-family="Liberation Sans" font-weight="bold" font-size="10.50" fill="#000" textLength="9.80" lengthAdjust="spacingAndGlyphs">G</text>
<text x="100.16" y="42.90" font-family="Liberation Sans" font-weight="bold" font-size="17.40" fill="#000" textLength="27.83" lengthAdjust="spacingAndGlyphs">(V)</text>
<path fill="#000000" d="M90.60 60.10h7.60v6.20h-7.60z"/>
<text x="123.42" y="69.20" font-family="Liberation Sans" font-weight="bold" font-size="17.50" fill="#000" textLength="10.90" lengthAdjust="spacingAndGlyphs">0</text>
<g fill="#ff0000">
<ellipse cx="94.4" cy="85.2" rx="4.10" ry="3.65"/>
</g>
<text x="123.42" y="91.20" font-family="Liberation Sans" font-weight="bold" font-size="17.50" fill="#000" textLength="27.25" lengthAdjust="spacingAndGlyphs">0.2</text>
<path fill="#00ff00" d="M94.40 103.00L99.40 110.40L89.40 110.40z"/>
<text x="123.42" y="112.70" font-family="Liberation Sans" font-weight="bold" font-size="17.50" fill="#000" textLength="27.25" lengthAdjust="spacingAndGlyphs">0.4</text>
<path fill="#0000ff" d="M94.40 132.30L99.40 124.90L89.40 124.90z"/>
<text x="123.42" y="134.60" font-family="Liberation Sans" font-weight="bold" font-size="17.50" fill="#000" textLength="27.25" lengthAdjust="spacingAndGlyphs">0.6</text>
<path fill="#00ffff" d="M94.40 146.20L99.40 149.90L94.40 153.60L89.40 149.90z"/>
<text x="123.42" y="155.90" font-family="Liberation Sans" font-weight="bold" font-size="17.50" fill="#000" textLength="27.25" lengthAdjust="spacingAndGlyphs">0.8</text>
<path fill="#ff00ff" d="M89.30 171.10L97.80 167.40L97.80 174.80z"/>
<path fill="#000" transform="translate(123.12 177.10) scale(19.600 -17.500)" d="M0.392 0L0.252 0L0.252 0.503C0.200 0.455 0.130 0.420 0.055 0.395L0.055 0.522C0.150 0.556 0.240 0.622 0.286 0.716L0.392 0.716Z"/>
<text x="123.12" y="177.10" font-family="Liberation Sans" font-weight="bold" font-size="17.50" fill="#000" textLength="27.25" lengthAdjust="spacingAndGlyphs"> .0</text>
<g transform="translate(253.65 391.40) scale(0.920 1)"><text x="-18.42" y="0" font-family="Liberation Serif" font-size="31.60">(<tspan font-weight="bold">a</tspan>)</text></g>
</svg>
<svg x="0" y="0" width="1024" height="820" overflow="visible">
<rect x="610.20" y="12.50" width="381.30" height="281.80" fill="none" stroke="#000" stroke-width="2.20"/>
<path stroke="#000" stroke-width="2.20" fill="none" d="M610.10 294.30v6.00M610.10 12.50v5.00M668.70 294.30v6.00M668.70 12.50v5.00M727.30 294.30v6.00M727.30 12.50v5.00M785.90 294.30v6.00M785.90 12.50v5.00M844.50 294.30v6.00M844.50 12.50v5.00M903.10 294.30v6.00M903.10 12.50v5.00M961.70 294.30v6.00M961.70 12.50v5.00"/>
<path stroke="#000" stroke-width="2.20" fill="none" d="M639.40 294.30v3.50M639.40 12.50v3.00M698.00 294.30v3.50M698.00 12.50v3.00M756.60 294.30v3.50M756.60 12.50v3.00M815.20 294.30v3.50M815.20 12.50v3.00M873.80 294.30v3.50M873.80 12.50v3.00M932.40 294.30v3.50M932.40 12.50v3.00"/>
<path stroke="#000" stroke-width="2.20" fill="none" d="M610.20 282.40h-6.50M991.50 282.40h-6.00M610.20 162.40h-6.50M991.50 162.40h-6.00M610.20 42.40h-6.50M991.50 42.40h-6.00"/>
<path stroke="#000" stroke-width="2.20" fill="none" d="M610.20 222.40h-3.50M991.50 222.40h-3.50M610.20 102.40h-3.50M991.50 102.40h-3.50"/>
<path fill="#000000" d="M623.68 278.90h8.00v7.00h-8.00zM627.20 278.90h8.00v7.00h-8.00zM630.71 278.90h8.00v7.00h-8.00zM634.23 278.90h8.00v7.00h-8.00zM637.74 278.90h8.00v7.00h-8.00zM641.26 278.90h8.00v7.00h-8.00zM644.78 278.90h8.00v7.00h-8.00zM648.29 278.90h8.00v7.00h-8.00zM651.81 278.90h8.00v7.00h-8.00zM655.32 278.90h8.00v7.00h-8.00zM658.84 278.90h8.00v7.00h-8.00zM662.36 278.90h8.00v7.00h-8.00zM665.87 278.90h8.00v7.00h-8.00zM669.39 278.90h8.00v7.00h-8.00zM672.90 278.90h8.00v7.00h-8.00zM676.42 278.90h8.00v7.00h-8.00zM679.94 278.90h8.00v7.00h-8.00zM683.45 278.90h8.00v7.00h-8.00zM686.97 278.90h8.00v7.00h-8.00zM690.48 278.90h8.00v7.00h-8.00zM694.00 278.90h8.00v7.00h-8.00zM697.52 278.90h8.00v7.00h-8.00zM701.03 278.90h8.00v7.00h-8.00zM704.55 278.90h8.00v7.00h-8.00zM708.06 278.90h8.00v7.00h-8.00zM711.58 278.90h8.00v7.00h-8.00zM715.10 278.90h8.00v7.00h-8.00zM718.61 278.90h8.00v7.00h-8.00zM722.13 278.90h8.00v7.00h-8.00zM725.64 278.90h8.00v7.00h-8.00zM729.16 278.90h8.00v7.00h-8.00zM732.68 278.90h8.00v7.00h-8.00zM736.19 278.90h8.00v7.00h-8.00zM739.71 278.90h8.00v7.00h-8.00zM743.22 278.90h8.00v7.00h-8.00zM746.74 278.90h8.00v7.00h-8.00zM750.26 278.90h8.00v7.00h-8.00zM753.77 278.90h8.00v7.00h-8.00zM757.29 278.90h8.00v7.00h-8.00zM760.80 278.90h8.00v7.00h-8.00zM764.32 278.90h8.00v7.00h-8.00zM767.84 278.90h8.00v7.00h-8.00zM771.35 278.90h8.00v7.00h-8.00zM774.87 278.90h8.00v7.00h-8.00zM778.38 278.90h8.00v7.00h-8.00zM781.90 278.90h8.00v7.00h-8.00zM785.42 278.90h8.00v7.00h-8.00zM788.93 278.90h8.00v7.00h-8.00zM792.45 278.90h8.00v7.00h-8.00zM795.96 278.90h8.00v7.00h-8.00zM799.48 278.90h8.00v7.00h-8.00zM803.00 278.90h8.00v7.00h-8.00zM806.51 278.90h8.00v7.00h-8.00zM810.03 278.90h8.00v7.00h-8.00zM813.54 278.90h8.00v7.00h-8.00zM817.06 278.90h8.00v7.00h-8.00zM820.58 278.90h8.00v7.00h-8.00zM824.09 278.90h8.00v7.00h-8.00zM827.61 278.90h8.00v7.00h-8.00zM831.12 278.90h8.00v7.00h-8.00zM834.64 278.90h8.00v7.00h-8.00zM838.16 278.90h8.00v7.00h-8.00zM841.67 278.90h8.00v7.00h-8.00zM845.19 278.90h8.00v7.00h-8.00zM848.70 278.90h8.00v7.00h-8.00zM852.22 278.90h8.00v7.00h-8.00zM855.74 278.90h8.00v7.00h-8.00zM859.25 278.90h8.00v7.00h-8.00zM862.77 278.90h8.00v7.00h-8.00zM866.28 278.90h8.00v7.00h-8.00zM869.80 278.90h8.00v7.00h-8.00zM873.32 278.90h8.00v7.00h-8.00zM876.83 278.90h8.00v7.00h-8.00zM880.35 278.90h8.00v7.00h-8.00zM883.86 278.90h8.00v7.00h-8.00zM887.38 278.90h8.00v7.00h-8.00zM890.90 278.90h8.00v7.00h-8.00zM894.41 278.90h8.00v7.00h-8.00zM897.93 278.90h8.00v7.00h-8.00zM901.44 278.90h8.00v7.00h-8.00zM904.96 278.90h8.00v7.00h-8.00zM908.48 278.90h8.00v7.00h-8.00zM911.99 278.90h8.00v7.00h-8.00zM915.51 278.90h8.00v7.00h-8.00zM919.02 278.90h8.00v7.00h-8.00zM922.54 278.90h8.00v7.00h-8.00zM926.06 278.90h8.00v7.00h-8.00zM929.57 278.90h8.00v7.00h-8.00zM933.09 278.90h8.00v7.00h-8.00zM936.60 278.90h8.00v7.00h-8.00zM940.12 278.90h8.00v7.00h-8.00zM943.64 278.90h8.00v7.00h-8.00zM947.15 278.90h8.00v7.00h-8.00zM950.67 278.90h8.00v7.00h-8.00zM954.18 278.90h8.00v7.00h-8.00zM957.70 278.90h8.00v7.00h-8.00zM961.22 278.90h8.00v7.00h-8.00zM964.73 278.90h8.00v7.00h-8.00zM968.25 278.90h8.00v7.00h-8.00zM971.76 278.90h8.00v7.00h-8.00zM975.28 278.90h8.00v7.00h-8.00z"/>
<g fill="#ff0000">
<ellipse cx="627.7" cy="282.4" rx="4.50" ry="4.10"/>
<ellipse cx="631.2" cy="282.4" rx="4.50" ry="4.10"/>
<ellipse cx="634.7" cy="282.4" rx="4.50" ry="4.10"/>
<ellipse cx="638.2" cy="282.4" rx="4.50" ry="4.10"/>
<ellipse cx="641.7" cy="282.4" rx="4.50" ry="4.10"/>
<ellipse cx="645.3" cy="282.4" rx="4.50" ry="4.10"/>
<ellipse cx="648.8" cy="282.4" rx="4.50" ry="4.10"/>
<ellipse cx="652.3" cy="282.4" rx="4.50" ry="4.10"/>
<ellipse cx="655.8" cy="282.4" rx="4.50" ry="4.10"/>
<ellipse cx="659.3" cy="282.4" rx="4.50" ry="4.10"/>
<ellipse cx="662.8" cy="282.4" rx="4.50" ry="4.10"/>
<ellipse cx="666.4" cy="282.4" rx="4.50" ry="4.10"/>
<ellipse cx="669.9" cy="282.4" rx="4.50" ry="4.10"/>
<ellipse cx="673.4" cy="282.4" rx="4.50" ry="4.10"/>
<ellipse cx="676.9" cy="282.4" rx="4.50" ry="4.10"/>
<ellipse cx="680.4" cy="282.4" rx="4.50" ry="4.10"/>
<ellipse cx="683.9" cy="282.4" rx="4.50" ry="4.10"/>
<ellipse cx="687.5" cy="282.4" rx="4.50" ry="4.10"/>
<ellipse cx="691.0" cy="282.4" rx="4.50" ry="4.10"/>
<ellipse cx="694.5" cy="282.4" rx="4.50" ry="4.10"/>
<ellipse cx="698.0" cy="282.4" rx="4.50" ry="4.10"/>
<ellipse cx="701.5" cy="282.3" rx="4.50" ry="4.10"/>
<ellipse cx="705.0" cy="282.2" rx="4.50" ry="4.10"/>
<ellipse cx="708.5" cy="282.0" rx="4.50" ry="4.10"/>
<ellipse cx="712.1" cy="281.7" rx="4.50" ry="4.10"/>
<ellipse cx="715.6" cy="281.3" rx="4.50" ry="4.10"/>
<ellipse cx="719.1" cy="280.7" rx="4.50" ry="4.10"/>
<ellipse cx="722.6" cy="279.3" rx="4.50" ry="4.10"/>
<ellipse cx="726.1" cy="278.1" rx="4.50" ry="4.10"/>
<ellipse cx="729.6" cy="276.0" rx="4.50" ry="4.10"/>
<ellipse cx="733.2" cy="272.4" rx="4.50" ry="4.10"/>
<ellipse cx="736.7" cy="268.6" rx="4.50" ry="4.10"/>
<ellipse cx="740.2" cy="265.6" rx="4.50" ry="4.10"/>
<ellipse cx="743.7" cy="263.5" rx="4.50" ry="4.10"/>
<ellipse cx="747.2" cy="261.8" rx="4.50" ry="4.10"/>
<ellipse cx="750.7" cy="260.5" rx="4.50" ry="4.10"/>
<ellipse cx="754.3" cy="259.5" rx="4.50" ry="4.10"/>
<ellipse cx="757.8" cy="258.7" rx="4.50" ry="4.10"/>
<ellipse cx="761.3" cy="257.8" rx="4.50" ry="4.10"/>
<ellipse cx="764.8" cy="257.0" rx="4.50" ry="4.10"/>
<ellipse cx="768.3" cy="256.3" rx="4.50" ry="4.10"/>
<ellipse cx="771.8" cy="255.6" rx="4.50" ry="4.10"/>
<ellipse cx="775.4" cy="254.9" rx="4.50" ry="4.10"/>
<ellipse cx="778.9" cy="254.3" rx="4.50" ry="4.10"/>
<ellipse cx="782.4" cy="253.6" rx="4.50" ry="4.10"/>
<ellipse cx="785.9" cy="253.0" rx="4.50" ry="4.10"/>
<ellipse cx="789.4" cy="252.3" rx="4.50" ry="4.10"/>
<ellipse cx="792.9" cy="251.6" rx="4.50" ry="4.10"/>
<ellipse cx="796.4" cy="250.9" rx="4.50" ry="4.10"/>
<ellipse cx="800.0" cy="250.2" rx="4.50" ry="4.10"/>
<ellipse cx="803.5" cy="249.5" rx="4.50" ry="4.10"/>
<ellipse cx="807.0" cy="248.9" rx="4.50" ry="4.10"/>
<ellipse cx="810.5" cy="248.2" rx="4.50" ry="4.10"/>
<ellipse cx="814.0" cy="247.6" rx="4.50" ry="4.10"/>
<ellipse cx="817.5" cy="247.0" rx="4.50" ry="4.10"/>
<ellipse cx="821.1" cy="246.5" rx="4.50" ry="4.10"/>
<ellipse cx="824.6" cy="246.0" rx="4.50" ry="4.10"/>
<ellipse cx="828.1" cy="245.5" rx="4.50" ry="4.10"/>
<ellipse cx="831.6" cy="245.1" rx="4.50" ry="4.10"/>
<ellipse cx="835.1" cy="244.7" rx="4.50" ry="4.10"/>
<ellipse cx="838.6" cy="244.2" rx="4.50" ry="4.10"/>
<ellipse cx="842.2" cy="243.8" rx="4.50" ry="4.10"/>
<ellipse cx="845.7" cy="243.5" rx="4.50" ry="4.10"/>
<ellipse cx="849.2" cy="243.1" rx="4.50" ry="4.10"/>
<ellipse cx="852.7" cy="242.7" rx="4.50" ry="4.10"/>
<ellipse cx="856.2" cy="242.3" rx="4.50" ry="4.10"/>
<ellipse cx="859.7" cy="242.0" rx="4.50" ry="4.10"/>
<ellipse cx="863.3" cy="241.6" rx="4.50" ry="4.10"/>
<ellipse cx="866.8" cy="241.3" rx="4.50" ry="4.10"/>
<ellipse cx="870.3" cy="240.9" rx="4.50" ry="4.10"/>
<ellipse cx="873.8" cy="240.6" rx="4.50" ry="4.10"/>
<ellipse cx="877.3" cy="240.3" rx="4.50" ry="4.10"/>
<ellipse cx="880.8" cy="239.9" rx="4.50" ry="4.10"/>
<ellipse cx="884.3" cy="239.5" rx="4.50" ry="4.10"/>
<ellipse cx="887.9" cy="239.2" rx="4.50" ry="4.10"/>
<ellipse cx="891.4" cy="238.8" rx="4.50" ry="4.10"/>
<ellipse cx="894.9" cy="238.5" rx="4.50" ry="4.10"/>
<ellipse cx="898.4" cy="238.1" rx="4.50" ry="4.10"/>
<ellipse cx="901.9" cy="237.7" rx="4.50" ry="4.10"/>
<ellipse cx="905.4" cy="237.4" rx="4.50" ry="4.10"/>
<ellipse cx="909.0" cy="237.0" rx="4.50" ry="4.10"/>
<ellipse cx="912.5" cy="236.7" rx="4.50" ry="4.10"/>
<ellipse cx="916.0" cy="236.4" rx="4.50" ry="4.10"/>
<ellipse cx="919.5" cy="236.0" rx="4.50" ry="4.10"/>
<ellipse cx="923.0" cy="235.7" rx="4.50" ry="4.10"/>
<ellipse cx="926.5" cy="235.3" rx="4.50" ry="4.10"/>
<ellipse cx="930.1" cy="235.0" rx="4.50" ry="4.10"/>
<ellipse cx="933.6" cy="234.6" rx="4.50" ry="4.10"/>
<ellipse cx="937.1" cy="234.3" rx="4.50" ry="4.10"/>
<ellipse cx="940.6" cy="233.9" rx="4.50" ry="4.10"/>
<ellipse cx="944.1" cy="233.6" rx="4.50" ry="4.10"/>
<ellipse cx="947.6" cy="233.2" rx="4.50" ry="4.10"/>
<ellipse cx="951.2" cy="232.8" rx="4.50" ry="4.10"/>
<ellipse cx="954.7" cy="232.5" rx="4.50" ry="4.10"/>
<ellipse cx="958.2" cy="232.1" rx="4.50" ry="4.10"/>
<ellipse cx="961.7" cy="231.7" rx="4.50" ry="4.10"/>
<ellipse cx="965.2" cy="231.3" rx="4.50" ry="4.10"/>
<ellipse cx="968.7" cy="230.9" rx="4.50" ry="4.10"/>
<ellipse cx="972.2" cy="230.5" rx="4.50" ry="4.10"/>
<ellipse cx="975.8" cy="230.1" rx="4.50" ry="4.10"/>
<ellipse cx="979.3" cy="229.7" rx="4.50" ry="4.10"/>
</g>
<path fill="#00ff00" d="M627.68 278.30L632.68 286.50L622.68 286.50zM631.20 278.30L636.20 286.50L626.20 286.50zM634.71 278.30L639.71 286.50L629.71 286.50zM638.23 278.30L643.23 286.50L633.23 286.50zM641.74 278.30L646.74 286.50L636.74 286.50zM645.26 278.30L650.26 286.50L640.26 286.50zM648.78 278.30L653.78 286.50L643.78 286.50zM652.29 278.30L657.29 286.50L647.29 286.50zM655.81 278.30L660.81 286.50L650.81 286.50zM659.32 278.30L664.32 286.50L654.32 286.50zM662.84 278.30L667.84 286.50L657.84 286.50zM666.36 278.30L671.36 286.50L661.36 286.50zM669.87 278.30L674.87 286.50L664.87 286.50zM673.39 278.30L678.39 286.50L668.39 286.50zM676.90 278.30L681.90 286.50L671.90 286.50zM680.42 278.30L685.42 286.50L675.42 286.50zM683.94 278.30L688.94 286.50L678.94 286.50zM687.45 278.30L692.45 286.50L682.45 286.50zM690.97 278.30L695.97 286.50L685.97 286.50zM694.48 278.30L699.48 286.50L689.48 286.50zM698.00 278.30L703.00 286.50L693.00 286.50zM701.52 278.24L706.52 286.44L696.52 286.44zM705.03 278.09L710.03 286.29L700.03 286.29zM708.55 277.89L713.55 286.09L703.55 286.09zM712.06 277.64L717.06 285.84L707.06 285.84zM715.58 277.24L720.58 285.44L710.58 285.44zM719.10 276.56L724.10 284.76L714.10 284.76zM722.61 275.16L727.61 283.36L717.61 283.36zM726.13 273.97L731.13 282.17L721.13 282.17zM729.64 271.84L734.64 280.04L724.64 280.04zM733.16 267.85L738.16 276.05L728.16 276.05zM736.68 262.99L741.68 271.19L731.68 271.19zM740.19 258.27L745.19 266.47L735.19 266.47zM743.71 253.32L748.71 261.52L738.71 261.52zM747.22 248.20L752.22 256.40L742.22 256.40zM750.74 243.50L755.74 251.70L745.74 251.70zM754.26 239.34L759.26 247.54L749.26 247.54zM757.77 235.61L762.77 243.81L752.77 243.81zM761.29 232.43L766.29 240.63L756.29 240.63zM764.80 229.57L769.80 237.77L759.80 237.77zM768.32 226.97L773.32 235.17L763.32 235.17zM771.84 224.60L776.84 232.80L766.84 232.80zM775.35 222.39L780.35 230.59L770.35 230.59zM778.87 220.29L783.87 228.49L773.87 228.49zM782.38 218.35L787.38 226.55L777.38 226.55zM785.90 216.59L790.90 224.79L780.90 224.79zM789.42 215.06L794.42 223.26L784.42 223.26zM792.93 213.68L797.93 221.88L787.93 221.88zM796.45 212.39L801.45 220.59L791.45 220.59zM799.96 211.18L804.96 219.38L794.96 219.38zM803.48 210.04L808.48 218.24L798.48 218.24zM807.00 208.96L812.00 217.16L802.00 217.16zM810.51 207.94L815.51 216.14L805.51 216.14zM814.03 206.95L819.03 215.15L809.03 215.15zM817.54 205.99L822.54 214.19L812.54 214.19zM821.06 205.05L826.06 213.25L816.06 213.25zM824.58 204.12L829.58 212.32L819.58 212.32zM828.09 203.23L833.09 211.43L823.09 211.43zM831.61 202.37L836.61 210.57L826.61 210.57zM835.12 201.53L840.12 209.73L830.12 209.73zM838.64 200.73L843.64 208.93L833.64 208.93zM842.16 199.94L847.16 208.14L837.16 208.14zM845.67 199.18L850.67 207.38L840.67 207.38zM849.19 198.44L854.19 206.64L844.19 206.64zM852.70 197.71L857.70 205.91L847.70 205.91zM856.22 196.99L861.22 205.19L851.22 205.19zM859.74 196.31L864.74 204.51L854.74 204.51zM863.25 195.64L868.25 203.84L858.25 203.84zM866.77 195.00L871.77 203.20L861.77 203.20zM870.28 194.37L875.28 202.57L865.28 202.57zM873.80 193.75L878.80 201.95L868.80 201.95zM877.32 193.13L882.32 201.33L872.32 201.33zM880.83 192.52L885.83 200.72L875.83 200.72zM884.35 191.89L889.35 200.09L879.35 200.09zM887.86 191.26L892.86 199.46L882.86 199.46zM891.38 190.60L896.38 198.80L886.38 198.80zM894.90 189.94L899.90 198.14L889.90 198.14zM898.41 189.26L903.41 197.46L893.41 197.46zM901.93 188.59L906.93 196.79L896.93 196.79zM905.44 187.92L910.44 196.12L900.44 196.12zM908.96 187.27L913.96 195.47L903.96 195.47zM912.48 186.63L917.48 194.83L907.48 194.83zM915.99 186.02L920.99 194.22L910.99 194.22zM919.51 185.45L924.51 193.65L914.51 193.65zM923.02 184.91L928.02 193.11L918.02 193.11zM926.54 184.41L931.54 192.61L921.54 192.61zM930.06 183.94L935.06 192.14L925.06 192.14zM933.57 183.48L938.57 191.68L928.57 191.68zM937.09 183.04L942.09 191.24L932.09 191.24zM940.60 182.59L945.60 190.79L935.60 190.79zM944.12 182.14L949.12 190.34L939.12 190.34zM947.64 181.68L952.64 189.88L942.64 189.88zM951.15 181.19L956.15 189.39L946.15 189.39zM954.67 180.66L959.67 188.86L949.67 188.86zM958.18 180.12L963.18 188.32L953.18 188.32zM961.70 179.56L966.70 187.76L956.70 187.76zM965.22 178.98L970.22 187.18L960.22 187.18zM968.73 178.38L973.73 186.58L963.73 186.58zM972.25 177.77L977.25 185.97L967.25 185.97zM975.76 177.15L980.76 185.35L970.76 185.35zM979.28 176.51L984.28 184.71L974.28 184.71z"/>
<path fill="#0000ff" d="M627.68 286.50L632.68 278.30L622.68 278.30zM631.20 286.50L636.20 278.30L626.20 278.30zM634.71 286.50L639.71 278.30L629.71 278.30zM638.23 286.50L643.23 278.30L633.23 278.30zM641.74 286.50L646.74 278.30L636.74 278.30zM645.26 286.50L650.26 278.30L640.26 278.30zM648.78 286.50L653.78 278.30L643.78 278.30zM652.29 286.50L657.29 278.30L647.29 278.30zM655.81 286.50L660.81 278.30L650.81 278.30zM659.32 286.50L664.32 278.30L654.32 278.30zM662.84 286.50L667.84 278.30L657.84 278.30zM666.36 286.50L671.36 278.30L661.36 278.30zM669.87 286.50L674.87 278.30L664.87 278.30zM673.39 286.50L678.39 278.30L668.39 278.30zM676.90 286.50L681.90 278.30L671.90 278.30zM680.42 286.50L685.42 278.30L675.42 278.30zM683.94 286.50L688.94 278.30L678.94 278.30zM687.45 286.50L692.45 278.30L682.45 278.30zM690.97 286.50L695.97 278.30L685.97 278.30zM694.48 286.50L699.48 278.30L689.48 278.30zM698.00 286.50L703.00 278.30L693.00 278.30zM701.52 286.44L706.52 278.24L696.52 278.24zM705.03 286.29L710.03 278.09L700.03 278.09zM708.55 286.09L713.55 277.89L703.55 277.89zM712.06 285.84L717.06 277.64L707.06 277.64zM715.58 285.44L720.58 277.24L710.58 277.24zM719.10 284.76L724.10 276.56L714.10 276.56zM722.61 283.36L727.61 275.16L717.61 275.16zM726.13 282.17L731.13 273.97L721.13 273.97zM729.64 280.06L734.64 271.86L724.64 271.86zM733.16 276.14L738.16 267.94L728.16 267.94zM736.68 271.29L741.68 263.09L731.68 263.09zM740.19 266.43L745.19 258.23L735.19 258.23zM743.71 261.32L748.71 253.12L738.71 253.12zM747.22 255.78L752.22 247.58L742.22 247.58zM750.74 250.01L755.74 241.81L745.74 241.81zM754.26 244.18L759.26 235.98L749.26 235.98zM757.77 238.39L762.77 230.19L752.77 230.19zM761.29 232.39L766.29 224.19L756.29 224.19zM764.80 226.54L769.80 218.34L759.80 218.34zM768.32 221.06L773.32 212.86L763.32 212.86zM771.84 215.70L776.84 207.50L766.84 207.50zM775.35 211.01L780.35 202.81L770.35 202.81zM778.87 207.33L783.87 199.13L773.87 199.13zM782.38 204.16L787.38 195.96L777.38 195.96zM785.90 201.44L790.90 193.24L780.90 193.24zM789.42 199.15L794.42 190.95L784.42 190.95zM792.93 197.27L797.93 189.07L787.93 189.07zM796.45 195.67L801.45 187.47L791.45 187.47zM799.96 194.17L804.96 185.97L794.96 185.97zM803.48 192.61L808.48 184.41L798.48 184.41zM807.00 190.84L812.00 182.64L802.00 182.64zM810.51 188.86L815.51 180.66L805.51 180.66zM814.03 186.80L819.03 178.60L809.03 178.60zM817.54 184.81L822.54 176.61L812.54 176.61zM821.06 183.02L826.06 174.82L816.06 174.82zM824.58 181.47L829.58 173.27L819.58 173.27zM828.09 180.00L833.09 171.80L823.09 171.80zM831.61 178.60L836.61 170.40L826.61 170.40zM835.12 177.27L840.12 169.07L830.12 169.07zM838.64 176.00L843.64 167.80L833.64 167.80zM842.16 174.77L847.16 166.57L837.16 166.57zM845.67 173.59L850.67 165.39L840.67 165.39zM849.19 172.44L854.19 164.24L844.19 164.24zM852.70 171.32L857.70 163.12L847.70 163.12zM856.22 170.23L861.22 162.03L851.22 162.03zM859.74 169.17L864.74 160.97L854.74 160.97zM863.25 168.15L868.25 159.95L858.25 159.95zM866.77 167.16L871.77 158.96L861.77 158.96zM870.28 166.20L875.28 158.00L865.28 158.00zM873.80 165.26L878.80 157.06L868.80 157.06zM877.32 164.34L882.32 156.14L872.32 156.14zM880.83 163.43L885.83 155.23L875.83 155.23zM884.35 162.53L889.35 154.33L879.35 154.33zM887.86 161.64L892.86 153.44L882.86 153.44zM891.38 160.75L896.38 152.55L886.38 152.55zM894.90 159.88L899.90 151.68L889.90 151.68zM898.41 159.02L903.41 150.82L893.41 150.82zM901.93 158.17L906.93 149.97L896.93 149.97zM905.44 157.33L910.44 149.13L900.44 149.13zM908.96 156.51L913.96 148.31L903.96 148.31zM912.48 155.70L917.48 147.50L907.48 147.50zM915.99 154.90L920.99 146.70L910.99 146.70zM919.51 154.11L924.51 145.91L914.51 145.91zM923.02 153.34L928.02 145.14L918.02 145.14zM926.54 152.60L931.54 144.40L921.54 144.40zM930.06 151.89L935.06 143.69L925.06 143.69zM933.57 151.19L938.57 142.99L928.57 142.99zM937.09 150.50L942.09 142.30L932.09 142.30zM940.60 149.80L945.60 141.60L935.60 141.60zM944.12 149.08L949.12 140.88L939.12 140.88zM947.64 148.34L952.64 140.14L942.64 140.14zM951.15 147.57L956.15 139.37L946.15 139.37zM954.67 146.76L959.67 138.56L949.67 138.56zM958.18 145.90L963.18 137.70L953.18 137.70zM961.70 145.02L966.70 136.82L956.70 136.82zM965.22 144.11L970.22 135.91L960.22 135.91zM968.73 143.17L973.73 134.97L963.73 134.97zM972.25 142.20L977.25 134.00L967.25 134.00zM975.76 141.21L980.76 133.01L970.76 133.01zM979.28 140.20L984.28 132.00L974.28 132.00z"/>
<path fill="#00ffff" d="M627.68 277.60L632.93 282.40L627.68 287.20L622.43 282.40zM631.20 277.60L636.45 282.40L631.20 287.20L625.95 282.40zM634.71 277.60L639.96 282.40L634.71 287.20L629.46 282.40zM638.23 277.60L643.48 282.40L638.23 287.20L632.98 282.40zM641.74 277.60L646.99 282.40L641.74 287.20L636.49 282.40zM645.26 277.60L650.51 282.40L645.26 287.20L640.01 282.40zM648.78 277.60L654.03 282.40L648.78 287.20L643.53 282.40zM652.29 277.60L657.54 282.40L652.29 287.20L647.04 282.40zM655.81 277.60L661.06 282.40L655.81 287.20L650.56 282.40zM659.32 277.60L664.57 282.40L659.32 287.20L654.07 282.40zM662.84 277.60L668.09 282.40L662.84 287.20L657.59 282.40zM666.36 277.60L671.61 282.40L666.36 287.20L661.11 282.40zM669.87 277.60L675.12 282.40L669.87 287.20L664.62 282.40zM673.39 277.60L678.64 282.40L673.39 287.20L668.14 282.40zM676.90 277.60L682.15 282.40L676.90 287.20L671.65 282.40zM680.42 277.60L685.67 282.40L680.42 287.20L675.17 282.40zM683.94 277.60L689.19 282.40L683.94 287.20L678.69 282.40zM687.45 277.60L692.70 282.40L687.45 287.20L682.20 282.40zM690.97 277.60L696.22 282.40L690.97 287.20L685.72 282.40zM694.48 277.60L699.73 282.40L694.48 287.20L689.23 282.40zM698.00 277.60L703.25 282.40L698.00 287.20L692.75 282.40zM701.52 277.54L706.77 282.34L701.52 287.14L696.27 282.34zM705.03 277.39L710.28 282.19L705.03 286.99L699.78 282.19zM708.55 277.19L713.80 281.99L708.55 286.79L703.30 281.99zM712.06 276.94L717.31 281.74L712.06 286.54L706.81 281.74zM715.58 276.54L720.83 281.34L715.58 286.14L710.33 281.34zM719.10 275.86L724.35 280.66L719.10 285.46L713.85 280.66zM722.61 274.46L727.86 279.26L722.61 284.06L717.36 279.26zM726.13 273.27L731.38 278.07L726.13 282.87L720.88 278.07zM729.64 271.16L734.89 275.96L729.64 280.76L724.39 275.96zM733.16 267.23L738.41 272.03L733.16 276.83L727.91 272.03zM736.68 262.38L741.93 267.18L736.68 271.98L731.43 267.18zM740.19 257.54L745.44 262.34L740.19 267.14L734.94 262.34zM743.71 252.51L748.96 257.31L743.71 262.11L738.46 257.31zM747.22 247.10L752.47 251.90L747.22 256.70L741.97 251.90zM750.74 241.44L755.99 246.24L750.74 251.04L745.49 246.24zM754.26 235.66L759.51 240.46L754.26 245.26L749.01 240.46zM757.77 229.83L763.02 234.63L757.77 239.43L752.52 234.63zM761.29 223.76L766.54 228.56L761.29 233.36L756.04 228.56zM764.80 217.53L770.05 222.33L764.80 227.13L759.55 222.33zM768.32 211.30L773.57 216.10L768.32 220.90L763.07 216.10zM771.84 205.20L777.09 210.00L771.84 214.80L766.59 210.00zM775.35 199.22L780.60 204.02L775.35 208.82L770.10 204.02zM778.87 193.29L784.12 198.09L778.87 202.89L773.62 198.09zM782.38 187.61L787.63 192.41L782.38 197.21L777.13 192.41zM785.90 182.26L791.15 187.06L785.90 191.86L780.65 187.06zM789.42 177.16L794.67 181.96L789.42 186.76L784.17 181.96zM792.93 172.60L798.18 177.40L792.93 182.20L787.68 177.40zM796.45 168.70L801.70 173.50L796.45 178.30L791.20 173.50zM799.96 165.18L805.21 169.98L799.96 174.78L794.71 169.98zM803.48 161.82L808.73 166.62L803.48 171.42L798.23 166.62zM807.00 158.36L812.25 163.16L807.00 167.96L801.75 163.16zM810.51 154.76L815.76 159.56L810.51 164.36L805.26 159.56zM814.03 151.18L819.28 155.98L814.03 160.78L808.78 155.98zM817.54 147.84L822.79 152.64L817.54 157.44L812.29 152.64zM821.06 144.92L826.31 149.72L821.06 154.52L815.81 149.72zM824.58 142.44L829.83 147.24L824.58 152.04L819.33 147.24zM828.09 140.14L833.34 144.94L828.09 149.74L822.84 144.94zM831.61 137.98L836.86 142.78L831.61 147.58L826.36 142.78zM835.12 135.95L840.37 140.75L835.12 145.55L829.87 140.75zM838.64 134.04L843.89 138.84L838.64 143.64L833.39 138.84zM842.16 132.23L847.41 137.03L842.16 141.83L836.91 137.03zM845.67 130.51L850.92 135.31L845.67 140.11L840.42 135.31zM849.19 128.86L854.44 133.66L849.19 138.46L843.94 133.66zM852.70 127.28L857.95 132.08L852.70 136.88L847.45 132.08zM856.22 125.74L861.47 130.54L856.22 135.34L850.97 130.54zM859.74 124.29L864.99 129.09L859.74 133.89L854.49 129.09zM863.25 122.93L868.50 127.73L863.25 132.53L858.00 127.73zM866.77 121.62L872.02 126.42L866.77 131.22L861.52 126.42zM870.28 120.37L875.53 125.17L870.28 129.97L865.03 125.17zM873.80 119.15L879.05 123.95L873.80 128.75L868.55 123.95zM877.32 117.95L882.57 122.75L877.32 127.55L872.07 122.75zM880.83 116.76L886.08 121.56L880.83 126.36L875.58 121.56zM884.35 115.55L889.60 120.35L884.35 125.15L879.10 120.35zM887.86 114.32L893.11 119.12L887.86 123.92L882.61 119.12zM891.38 113.06L896.63 117.86L891.38 122.66L886.13 117.86zM894.90 111.79L900.15 116.59L894.90 121.39L889.65 116.59zM898.41 110.52L903.66 115.32L898.41 120.12L893.16 115.32zM901.93 109.25L907.18 114.05L901.93 118.85L896.68 114.05zM905.44 108.00L910.69 112.80L905.44 117.60L900.19 112.80zM908.96 106.77L914.21 111.57L908.96 116.37L903.71 111.57zM912.48 105.57L917.73 110.37L912.48 115.17L907.23 110.37zM915.99 104.40L921.24 109.20L915.99 114.00L910.74 109.20zM919.51 103.29L924.76 108.09L919.51 112.89L914.26 108.09zM923.02 102.23L928.27 107.03L923.02 111.83L917.77 107.03zM926.54 101.21L931.79 106.01L926.54 110.81L921.29 106.01zM930.06 100.23L935.31 105.03L930.06 109.83L924.81 105.03zM933.57 99.28L938.82 104.08L933.57 108.88L928.32 104.08zM937.09 98.35L942.34 103.15L937.09 107.95L931.84 103.15zM940.60 97.43L945.85 102.23L940.60 107.03L935.35 102.23zM944.12 96.50L949.37 101.30L944.12 106.10L938.87 101.30zM947.64 95.57L952.89 100.37L947.64 105.17L942.39 100.37zM951.15 94.62L956.40 99.42L951.15 104.22L945.90 99.42zM954.67 93.64L959.92 98.44L954.67 103.24L949.42 98.44zM958.18 92.64L963.43 97.44L958.18 102.24L952.93 97.44zM961.70 91.64L966.95 96.44L961.70 101.24L956.45 96.44zM965.22 90.64L970.47 95.44L965.22 100.24L959.97 95.44zM968.73 89.62L973.98 94.42L968.73 99.22L963.48 94.42zM972.25 88.60L977.50 93.40L972.25 98.20L967.00 93.40zM975.76 87.58L981.01 92.38L975.76 97.18L970.51 92.38zM979.28 86.55L984.53 91.35L979.28 96.15L974.03 91.35z"/>
<path fill="#ff00ff" d="M621.98 282.40L631.48 278.00L631.48 286.80zM625.50 282.40L635.00 278.00L635.00 286.80zM629.01 282.40L638.51 278.00L638.51 286.80zM632.53 282.40L642.03 278.00L642.03 286.80zM636.04 282.40L645.54 278.00L645.54 286.80zM639.56 282.40L649.06 278.00L649.06 286.80zM643.08 282.40L652.58 278.00L652.58 286.80zM646.59 282.40L656.09 278.00L656.09 286.80zM650.11 282.40L659.61 278.00L659.61 286.80zM653.62 282.40L663.12 278.00L663.12 286.80zM657.14 282.40L666.64 278.00L666.64 286.80zM660.66 282.40L670.16 278.00L670.16 286.80zM664.17 282.40L673.67 278.00L673.67 286.80zM667.69 282.40L677.19 278.00L677.19 286.80zM671.20 282.40L680.70 278.00L680.70 286.80zM674.72 282.40L684.22 278.00L684.22 286.80zM678.24 282.40L687.74 278.00L687.74 286.80zM681.75 282.40L691.25 278.00L691.25 286.80zM685.27 282.40L694.77 278.00L694.77 286.80zM688.78 282.40L698.28 278.00L698.28 286.80zM692.30 282.40L701.80 278.00L701.80 286.80zM695.82 282.34L705.32 277.94L705.32 286.74zM699.33 282.19L708.83 277.79L708.83 286.59zM702.85 281.99L712.35 277.59L712.35 286.39zM706.36 281.74L715.86 277.34L715.86 286.14zM709.88 281.34L719.38 276.94L719.38 285.74zM713.40 280.66L722.90 276.26L722.90 285.06zM716.91 279.26L726.41 274.86L726.41 283.66zM720.43 278.07L729.93 273.67L729.93 282.47zM723.94 275.96L733.44 271.56L733.44 280.36zM727.46 272.04L736.96 267.64L736.96 276.44zM730.98 267.19L740.48 262.79L740.48 271.59zM734.49 262.33L743.99 257.93L743.99 266.73zM738.01 257.26L747.51 252.86L747.51 261.66zM741.52 251.79L751.02 247.39L751.02 256.19zM745.04 246.04L754.54 241.64L754.54 250.44zM748.56 240.16L758.06 235.76L758.06 244.56zM752.07 234.19L761.57 229.79L761.57 238.59zM755.59 227.92L765.09 223.52L765.09 232.32zM759.10 221.47L768.60 217.07L768.60 225.87zM762.62 215.04L772.12 210.64L772.12 219.44zM766.14 208.80L775.64 204.40L775.64 213.20zM769.65 202.87L779.15 198.47L779.15 207.27zM773.17 197.10L782.67 192.70L782.67 201.50zM776.68 191.42L786.18 187.02L786.18 195.82zM780.20 185.75L789.70 181.35L789.70 190.15zM783.72 180.04L793.22 175.64L793.22 184.44zM787.23 174.26L796.73 169.86L796.73 178.66zM790.75 168.46L800.25 164.06L800.25 172.86zM794.26 162.68L803.76 158.28L803.76 167.08zM797.78 156.99L807.28 152.59L807.28 161.39zM801.30 151.36L810.80 146.96L810.80 155.76zM804.81 145.50L814.31 141.10L814.31 149.90zM808.33 139.68L817.83 135.28L817.83 144.08zM811.84 134.27L821.34 129.87L821.34 138.67zM815.36 129.61L824.86 125.21L824.86 134.01zM818.88 125.84L828.38 121.44L828.38 130.24zM822.39 122.55L831.89 118.15L831.89 126.95zM825.91 119.59L835.41 115.19L835.41 123.99zM829.42 116.80L838.92 112.40L838.92 121.20zM832.94 114.03L842.44 109.63L842.44 118.43zM836.46 111.26L845.96 106.86L845.96 115.66zM839.97 108.59L849.47 104.19L849.47 112.99zM843.49 106.03L852.99 101.63L852.99 110.43zM847.00 103.65L856.50 99.25L856.50 108.05zM850.52 101.48L860.02 97.08L860.02 105.88zM854.04 99.44L863.54 95.04L863.54 103.84zM857.55 97.50L867.05 93.10L867.05 101.90zM861.07 95.65L870.57 91.25L870.57 100.05zM864.58 93.86L874.08 89.46L874.08 98.26zM868.10 92.14L877.60 87.74L877.60 96.54zM871.62 90.45L881.12 86.05L881.12 94.85zM875.13 88.79L884.63 84.39L884.63 93.19zM878.65 87.14L888.15 82.74L888.15 91.54zM882.16 85.49L891.66 81.09L891.66 89.89zM885.68 83.83L895.18 79.43L895.18 88.23zM889.20 82.19L898.70 77.79L898.70 86.59zM892.71 80.56L902.21 76.16L902.21 84.96zM896.23 78.95L905.73 74.55L905.73 83.35zM899.74 77.38L909.24 72.98L909.24 81.78zM903.26 75.85L912.76 71.45L912.76 80.25zM906.78 74.36L916.28 69.96L916.28 78.76zM910.29 72.93L919.79 68.53L919.79 77.33zM913.81 71.55L923.31 67.15L923.31 75.95zM917.32 70.25L926.82 65.85L926.82 74.65zM920.84 69.01L930.34 64.61L930.34 73.41zM924.36 67.82L933.86 63.42L933.86 72.22zM927.87 66.68L937.37 62.28L937.37 71.08zM931.39 65.56L940.89 61.16L940.89 69.96zM934.90 64.46L944.40 60.06L944.40 68.86zM938.42 63.36L947.92 58.96L947.92 67.76zM941.94 62.25L951.44 57.85L951.44 66.65zM945.45 61.13L954.95 56.73L954.95 65.53zM948.97 59.97L958.47 55.57L958.47 64.37zM952.48 58.81L961.98 54.41L961.98 63.21zM956.00 57.65L965.50 53.25L965.50 62.05zM959.52 56.48L969.02 52.08L969.02 60.88zM963.03 55.31L972.53 50.91L972.53 59.71zM966.55 54.14L976.05 49.74L976.05 58.54zM970.06 52.97L979.56 48.57L979.56 57.37zM973.58 51.79L983.08 47.39L983.08 56.19z"/>
<text x="591.63" y="287.10" font-family="Liberation Sans" font-weight="bold" font-size="17.10" fill="#000" textLength="9.03" lengthAdjust="spacingAndGlyphs">0</text>
<path fill="#000" transform="translate(591.63 167.10) scale(16.245 -17.100)" d="M0.392 0L0.252 0L0.252 0.503C0.200 0.455 0.130 0.420 0.055 0.395L0.055 0.522C0.150 0.556 0.240 0.622 0.286 0.716L0.392 0.716Z"/>
<text x="591.63" y="167.10" font-family="Liberation Sans" font-weight="bold" font-size="17.10" fill="#000" textLength="9.03" lengthAdjust="spacingAndGlyphs"> </text>
<text x="591.63" y="47.10" font-family="Liberation Sans" font-weight="bold" font-size="17.10" fill="#000" textLength="9.03" lengthAdjust="spacingAndGlyphs">2</text>
<path fill="#000" transform="translate(601.47 317.50) scale(16.356 -17.400)" d="M0.392 0L0.252 0L0.252 0.503C0.200 0.455 0.130 0.420 0.055 0.395L0.055 0.522C0.150 0.556 0.240 0.622 0.286 0.716L0.392 0.716Z"/>
<text x="596.02" y="317.50" font-family="Liberation Sans" font-weight="bold" font-size="17.40" fill="#000" textLength="28.18" lengthAdjust="spacingAndGlyphs">- .0</text>
<text x="654.52" y="317.50" font-family="Liberation Sans" font-weight="bold" font-size="17.40" fill="#000" textLength="28.18" lengthAdjust="spacingAndGlyphs">-0.5</text>
<text x="715.94" y="317.50" font-family="Liberation Sans" font-weight="bold" font-size="17.40" fill="#000" textLength="22.74" lengthAdjust="spacingAndGlyphs">0.0</text>
<text x="774.44" y="317.50" font-family="Liberation Sans" font-weight="bold" font-size="17.40" fill="#000" textLength="22.74" lengthAdjust="spacingAndGlyphs">0.5</text>
<path fill="#000" transform="translate(833.02 317.50) scale(16.356 -17.400)" d="M0.392 0L0.252 0L0.252 0.503C0.200 0.455 0.130 0.420 0.055 0.395L0.055 0.522C0.150 0.556 0.240 0.622 0.286 0.716L0.392 0.716Z"/>
<text x="833.02" y="317.50" font-family="Liberation Sans" font-weight="bold" font-size="17.40" fill="#000" textLength="22.74" lengthAdjust="spacingAndGlyphs"> .0</text>
<path fill="#000" transform="translate(891.51 317.50) scale(16.356 -17.400)" d="M0.392 0L0.252 0L0.252 0.503C0.200 0.455 0.130 0.420 0.055 0.395L0.055 0.522C0.150 0.556 0.240 0.622 0.286 0.716L0.392 0.716Z"/>
<text x="891.51" y="317.50" font-family="Liberation Sans" font-weight="bold" font-size="17.40" fill="#000" textLength="22.74" lengthAdjust="spacingAndGlyphs"> .5</text>
<text x="950.38" y="317.50" font-family="Liberation Sans" font-weight="bold" font-size="17.40" fill="#000" textLength="22.74" lengthAdjust="spacingAndGlyphs">2.0</text>
<text x="765.38" y="346.50" font-family="Liberation Sans" font-weight="bold" font-size="17.50" fill="#000">V</text>
<text x="776.73" y="352.70" font-family="Liberation Sans" font-weight="bold" font-size="10.50" fill="#000" textLength="8.98" lengthAdjust="spacingAndGlyphs">G</text>
<text x="785.12" y="346.50" font-family="Liberation Sans" font-weight="bold" font-size="17.50" fill="#000">-</text>
<text x="790.39" y="346.50" font-family="Liberation Sans" font-weight="bold" font-size="17.50" fill="#000" textLength="11.09" lengthAdjust="spacingAndGlyphs">V</text>
<text x="802.50" y="352.70" font-family="Liberation Sans" font-weight="bold" font-size="10.00" fill="#000" textLength="5.62" lengthAdjust="spacingAndGlyphs">T</text>
<text x="812.22" y="346.50" font-family="Liberation Sans" font-weight="bold" font-size="17.50" fill="#000" textLength="23.56" lengthAdjust="spacingAndGlyphs">(V)</text>
<g transform="translate(578.70 178.00) rotate(-90)">
<text x="-1.16" y="0" font-family="Liberation Sans" font-weight="bold" font-size="17.40">I</text>
<text x="4.17" y="7.20" font-family="Liberation Sans" font-weight="bold" font-size="10.60">D</text>
<text x="11.83" y="0" font-family="Liberation Sans" font-weight="bold" font-size="17.40" xml:space="preserve"> (µA)</text>
</g>
<rect x="619.60" y="22.40" width="74.90" height="163.90" fill="#fff" stroke="#555" stroke-width="1"/>
<text x="620.49" y="42.70" font-family="Liberation Sans" font-weight="bold" font-size="17.90" fill="#000" textLength="11.10" lengthAdjust="spacingAndGlyphs">V</text>
<text x="631.34" y="49.60" font-family="Liberation Sans" font-weight="bold" font-size="11.00" fill="#000" textLength="8.18" lengthAdjust="spacingAndGlyphs">D</text>
<text x="643.13" y="42.70" font-family="Liberation Sans" font-weight="bold" font-size="17.90" fill="#000" textLength="23.38" lengthAdjust="spacingAndGlyphs">(V)</text>
<path fill="#000000" d="M636.15 61.15h6.50v6.50h-6.50z"/>
<text x="663.73" y="70.60" font-family="Liberation Sans" font-weight="bold" font-size="17.50" fill="#000" textLength="9.44" lengthAdjust="spacingAndGlyphs">0</text>
<g fill="#ff0000">
<ellipse cx="639.4" cy="86.2" rx="3.75" ry="3.75"/>
</g>
<text x="663.73" y="92.40" font-family="Liberation Sans" font-weight="bold" font-size="17.50" fill="#000" textLength="23.60" lengthAdjust="spacingAndGlyphs">0.2</text>
<path fill="#00ff00" d="M639.40 103.90L644.00 111.90L634.80 111.90z"/>
<text x="663.73" y="114.10" font-family="Liberation Sans" font-weight="bold" font-size="17.50" fill="#000" textLength="23.60" lengthAdjust="spacingAndGlyphs">0.4</text>
<path fill="#0000ff" d="M639.40 133.90L644.00 125.90L634.80 125.90z"/>
<text x="663.73" y="136.10" font-family="Liberation Sans" font-weight="bold" font-size="17.50" fill="#000" textLength="23.60" lengthAdjust="spacingAndGlyphs">0.6</text>
<path fill="#00ffff" d="M639.40 147.30L644.15 151.80L639.40 156.30L634.65 151.80z"/>
<text x="663.73" y="158.00" font-family="Liberation Sans" font-weight="bold" font-size="17.50" fill="#000" textLength="23.60" lengthAdjust="spacingAndGlyphs">0.8</text>
<path fill="#ff00ff" d="M634.30 173.80L642.80 169.55L642.80 178.05z"/>
<path fill="#000" transform="translate(663.47 180.00) scale(16.975 -17.500)" d="M0.392 0L0.252 0L0.252 0.503C0.200 0.455 0.130 0.420 0.055 0.395L0.055 0.522C0.150 0.556 0.240 0.622 0.286 0.716L0.392 0.716Z"/>
<text x="663.47" y="180.00" font-family="Liberation Sans" font-weight="bold" font-size="17.50" fill="#000" textLength="23.60" lengthAdjust="spacingAndGlyphs"> .0</text>
<g transform="translate(782.50 391.50) scale(0.920 1)"><text x="-19.31" y="0" font-family="Liberation Serif" font-size="31.60">(<tspan font-weight="bold">b</tspan>)</text></g>
</svg>
<svg x="0" y="0" width="1024" height="820" overflow="visible">
<rect x="73.20" y="416.30" width="410.80" height="288.90" fill="none" stroke="#000" stroke-width="2.20"/>
<path stroke="#000" stroke-width="2.20" fill="none" d="M72.80 705.20v6.50M72.80 416.30v5.50M175.20 705.20v6.50M175.20 416.30v5.50M277.60 705.20v6.50M277.60 416.30v5.50M380.00 705.20v6.50M380.00 416.30v5.50M482.40 705.20v6.50M482.40 416.30v5.50"/>
<path stroke="#000" stroke-width="2.20" fill="none" d="M124.00 705.20v4.00M124.00 416.30v3.50M226.40 705.20v4.00M226.40 416.30v3.50M328.80 705.20v4.00M328.80 416.30v3.50M431.20 705.20v4.00M431.20 416.30v3.50"/>
<path stroke="#000" stroke-width="2.20" fill="none" d="M73.20 647.15h-6.50M484.00 647.15h-6.00M73.20 589.50h-6.50M484.00 589.50h-6.00M73.20 531.85h-6.50M484.00 531.85h-6.00M73.20 474.20h-6.50M484.00 474.20h-6.00M73.20 416.55h-6.50M484.00 416.55h-6.00"/>
<path stroke="#000" stroke-width="2.20" fill="none" d="M73.20 675.97h-4.20M484.00 675.97h-3.80M73.20 618.32h-4.20M484.00 618.32h-3.80M73.20 560.67h-4.20M484.00 560.67h-3.80M73.20 503.02h-4.20M484.00 503.02h-3.80M73.20 445.37h-4.20M484.00 445.37h-3.80"/>
<defs><clipPath id="cc"><rect x="72.1" y="415.2" width="413.0" height="289.5"/></clipPath></defs>
<g clip-path="url(#cc)">
<path fill="#000000" d="M68.05 698.90h9.50v9.50h-9.50zM76.24 694.83h9.50v9.50h-9.50zM84.43 690.83h9.50v9.50h-9.50zM92.63 687.11h9.50v9.50h-9.50zM100.82 683.27h9.50v9.50h-9.50zM109.01 678.22h9.50v9.50h-9.50zM117.20 672.06h9.50v9.50h-9.50zM125.39 666.72h9.50v9.50h-9.50zM133.59 661.86h9.50v9.50h-9.50zM141.78 657.13h9.50v9.50h-9.50zM149.97 652.26h9.50v9.50h-9.50zM158.16 648.11h9.50v9.50h-9.50zM166.35 644.95h9.50v9.50h-9.50zM174.55 642.12h9.50v9.50h-9.50zM182.74 639.18h9.50v9.50h-9.50zM190.93 636.26h9.50v9.50h-9.50zM199.12 633.41h9.50v9.50h-9.50zM207.31 630.60h9.50v9.50h-9.50zM215.51 627.91h9.50v9.50h-9.50zM223.70 625.36h9.50v9.50h-9.50zM231.89 622.89h9.50v9.50h-9.50zM240.08 620.35h9.50v9.50h-9.50zM248.27 617.74h9.50v9.50h-9.50zM256.47 615.77h9.50v9.50h-9.50zM264.66 614.30h9.50v9.50h-9.50zM272.85 613.00h9.50v9.50h-9.50zM281.04 611.70h9.50v9.50h-9.50zM289.23 610.51h9.50v9.50h-9.50zM297.43 609.51h9.50v9.50h-9.50zM305.62 608.64h9.50v9.50h-9.50zM313.81 607.81h9.50v9.50h-9.50zM322.00 606.97h9.50v9.50h-9.50zM330.19 606.19h9.50v9.50h-9.50zM338.39 605.53h9.50v9.50h-9.50zM346.58 604.94h9.50v9.50h-9.50zM354.77 604.35h9.50v9.50h-9.50zM362.96 603.78h9.50v9.50h-9.50zM371.15 603.23h9.50v9.50h-9.50zM379.35 602.61h9.50v9.50h-9.50zM387.54 601.83h9.50v9.50h-9.50zM395.73 600.74h9.50v9.50h-9.50zM403.92 599.43h9.50v9.50h-9.50zM412.11 598.07h9.50v9.50h-9.50zM420.31 596.82h9.50v9.50h-9.50zM428.50 595.61h9.50v9.50h-9.50zM436.69 594.40h9.50v9.50h-9.50zM444.88 593.14h9.50v9.50h-9.50zM453.07 591.83h9.50v9.50h-9.50zM461.27 590.47h9.50v9.50h-9.50zM469.46 589.07h9.50v9.50h-9.50zM477.65 587.63h9.50v9.50h-9.50z"/>
<g fill="#ff0000">
<ellipse cx="72.8" cy="703.1" rx="5.50" ry="5.20"/>
<ellipse cx="81.0" cy="698.2" rx="5.50" ry="5.20"/>
<ellipse cx="89.2" cy="693.3" rx="5.50" ry="5.20"/>
<ellipse cx="97.4" cy="688.3" rx="5.50" ry="5.20"/>
<ellipse cx="105.6" cy="683.2" rx="5.50" ry="5.20"/>
<ellipse cx="113.8" cy="677.7" rx="5.50" ry="5.20"/>
<ellipse cx="122.0" cy="671.9" rx="5.50" ry="5.20"/>
<ellipse cx="130.1" cy="666.3" rx="5.50" ry="5.20"/>
<ellipse cx="138.3" cy="660.4" rx="5.50" ry="5.20"/>
<ellipse cx="146.5" cy="654.5" rx="5.50" ry="5.20"/>
<ellipse cx="154.7" cy="648.0" rx="5.50" ry="5.20"/>
<ellipse cx="162.9" cy="642.1" rx="5.50" ry="5.20"/>
<ellipse cx="171.1" cy="637.9" rx="5.50" ry="5.20"/>
<ellipse cx="179.3" cy="633.9" rx="5.50" ry="5.20"/>
<ellipse cx="187.5" cy="629.8" rx="5.50" ry="5.20"/>
<ellipse cx="195.7" cy="625.8" rx="5.50" ry="5.20"/>
<ellipse cx="203.9" cy="621.3" rx="5.50" ry="5.20"/>
<ellipse cx="212.1" cy="617.5" rx="5.50" ry="5.20"/>
<ellipse cx="220.3" cy="614.0" rx="5.50" ry="5.20"/>
<ellipse cx="228.4" cy="610.6" rx="5.50" ry="5.20"/>
<ellipse cx="236.6" cy="607.4" rx="5.50" ry="5.20"/>
<ellipse cx="244.8" cy="604.4" rx="5.50" ry="5.20"/>
<ellipse cx="253.0" cy="601.6" rx="5.50" ry="5.20"/>
<ellipse cx="261.2" cy="599.4" rx="5.50" ry="5.20"/>
<ellipse cx="269.4" cy="597.4" rx="5.50" ry="5.20"/>
<ellipse cx="277.6" cy="595.7" rx="5.50" ry="5.20"/>
<ellipse cx="285.8" cy="594.2" rx="5.50" ry="5.20"/>
<ellipse cx="294.0" cy="592.9" rx="5.50" ry="5.20"/>
<ellipse cx="302.2" cy="591.6" rx="5.50" ry="5.20"/>
<ellipse cx="310.4" cy="590.5" rx="5.50" ry="5.20"/>
<ellipse cx="318.6" cy="589.6" rx="5.50" ry="5.20"/>
<ellipse cx="326.8" cy="588.8" rx="5.50" ry="5.20"/>
<ellipse cx="334.9" cy="588.1" rx="5.50" ry="5.20"/>
<ellipse cx="343.1" cy="587.5" rx="5.50" ry="5.20"/>
<ellipse cx="351.3" cy="587.0" rx="5.50" ry="5.20"/>
<ellipse cx="359.5" cy="586.4" rx="5.50" ry="5.20"/>
<ellipse cx="367.7" cy="585.8" rx="5.50" ry="5.20"/>
<ellipse cx="375.9" cy="585.3" rx="5.50" ry="5.20"/>
<ellipse cx="384.1" cy="584.7" rx="5.50" ry="5.20"/>
<ellipse cx="392.3" cy="584.0" rx="5.50" ry="5.20"/>
<ellipse cx="400.5" cy="583.3" rx="5.50" ry="5.20"/>
<ellipse cx="408.7" cy="582.6" rx="5.50" ry="5.20"/>
<ellipse cx="416.9" cy="581.8" rx="5.50" ry="5.20"/>
<ellipse cx="425.1" cy="581.0" rx="5.50" ry="5.20"/>
<ellipse cx="433.2" cy="580.1" rx="5.50" ry="5.20"/>
<ellipse cx="441.4" cy="579.2" rx="5.50" ry="5.20"/>
<ellipse cx="449.6" cy="578.2" rx="5.50" ry="5.20"/>
<ellipse cx="457.8" cy="577.2" rx="5.50" ry="5.20"/>
<ellipse cx="466.0" cy="576.2" rx="5.50" ry="5.20"/>
<ellipse cx="474.2" cy="575.1" rx="5.50" ry="5.20"/>
<ellipse cx="482.4" cy="573.9" rx="5.50" ry="5.20"/>
</g>
<path fill="#00ff00" d="M72.80 698.11L79.05 708.61L66.55 708.61zM80.99 692.22L87.24 702.72L74.74 702.72zM89.18 684.96L95.43 695.46L82.93 695.46zM97.38 677.83L103.63 688.33L91.13 688.33zM105.57 670.15L111.82 680.65L99.32 680.65zM113.76 663.56L120.01 674.06L107.51 674.06zM121.95 658.10L128.20 668.60L115.70 668.60zM130.14 652.99L136.39 663.49L123.89 663.49zM138.34 647.90L144.59 658.40L132.09 658.40zM146.53 642.30L152.78 652.80L140.28 652.80zM154.72 636.13L160.97 646.63L148.47 646.63zM162.91 629.96L169.16 640.46L156.66 640.46zM171.10 622.88L177.35 633.38L164.85 633.38zM179.30 617.11L185.55 627.61L173.05 627.61zM187.49 610.92L193.74 621.42L181.24 621.42zM195.68 605.00L201.93 615.50L189.43 615.50zM203.87 599.39L210.12 609.89L197.62 609.89zM212.06 593.21L218.31 603.71L205.81 603.71zM220.26 588.76L226.51 599.26L214.01 599.26zM228.45 584.83L234.70 595.33L222.20 595.33zM236.64 580.79L242.89 591.29L230.39 591.29zM244.83 576.66L251.08 587.16L238.58 587.16zM253.02 573.13L259.27 583.63L246.77 583.63zM261.22 569.98L267.47 580.48L254.97 580.48zM269.41 567.17L275.66 577.67L263.16 577.67zM277.60 564.65L283.85 575.15L271.35 575.15zM285.79 562.33L292.04 572.83L279.54 572.83zM293.98 560.51L300.23 571.01L287.73 571.01zM302.18 559.23L308.43 569.73L295.93 569.73zM310.37 558.18L316.62 568.68L304.12 568.68zM318.56 557.27L324.81 567.77L312.31 567.77zM326.75 556.41L333.00 566.91L320.50 566.91zM334.94 555.61L341.19 566.11L328.69 566.11zM343.14 554.89L349.39 565.39L336.89 565.39zM351.33 554.19L357.58 564.69L345.08 564.69zM359.52 553.46L365.77 563.96L353.27 563.96zM367.71 552.74L373.96 563.24L361.46 563.24zM375.90 552.03L382.15 562.53L369.65 562.53zM384.10 551.27L390.35 561.77L377.85 561.77zM392.29 550.41L398.54 560.91L386.04 560.91zM400.48 549.41L406.73 559.91L394.23 559.91zM408.67 548.34L414.92 558.84L402.42 558.84zM416.86 547.28L423.11 557.78L410.61 557.78zM425.06 546.30L431.31 556.80L418.81 556.80zM433.25 545.39L439.50 555.89L427.00 555.89zM441.44 544.50L447.69 555.00L435.19 555.00zM449.63 543.56L455.88 554.06L443.38 554.06zM457.82 542.56L464.07 553.06L451.57 553.06zM466.02 541.51L472.27 552.01L459.77 552.01zM474.21 540.42L480.46 550.92L467.96 550.92zM482.40 539.28L488.65 549.78L476.15 549.78z"/>
<path fill="#0000ff" d="M72.80 713.51L79.05 703.01L66.55 703.01zM80.99 707.98L87.24 697.48L74.74 697.48zM89.18 700.25L95.43 689.75L82.93 689.75zM97.38 692.94L103.63 682.44L91.13 682.44zM105.57 685.83L111.82 675.33L99.32 675.33zM113.76 677.77L120.01 667.27L107.51 667.27zM121.95 669.69L128.20 659.19L115.70 659.19zM130.14 661.81L136.39 651.31L123.89 651.31zM138.34 654.71L144.59 644.21L132.09 644.21zM146.53 647.38L152.78 636.88L140.28 636.88zM154.72 640.87L160.97 630.37L148.47 630.37zM162.91 634.13L169.16 623.63L156.66 623.63zM171.10 626.46L177.35 615.96L164.85 615.96zM179.30 619.54L185.55 609.04L173.05 609.04zM187.49 612.79L193.74 602.29L181.24 602.29zM195.68 606.28L201.93 595.78L189.43 595.78zM203.87 600.09L210.12 589.59L197.62 589.59zM212.06 594.20L218.31 583.70L205.81 583.70zM220.26 587.99L226.51 577.49L214.01 577.49zM228.45 581.93L234.70 571.43L222.20 571.43zM236.64 576.59L242.89 566.09L230.39 566.09zM244.83 570.48L251.08 559.98L238.58 559.98zM253.02 565.83L259.27 555.33L246.77 555.33zM261.22 559.84L267.47 549.34L254.97 549.34zM269.41 555.30L275.66 544.80L263.16 544.80zM277.60 551.51L283.85 541.01L271.35 541.01zM285.79 548.26L292.04 537.76L279.54 537.76zM293.98 545.57L300.23 535.07L287.73 535.07zM302.18 543.28L308.43 532.78L295.93 532.78zM310.37 541.22L316.62 530.72L304.12 530.72zM318.56 539.45L324.81 528.95L312.31 528.95zM326.75 537.99L333.00 527.49L320.50 527.49zM334.94 536.82L341.19 526.32L328.69 526.32zM343.14 535.83L349.39 525.33L336.89 525.33zM351.33 534.89L357.58 524.39L345.08 524.39zM359.52 533.88L365.77 523.38L353.27 523.38zM367.71 532.83L373.96 522.33L361.46 522.33zM375.90 531.79L382.15 521.29L369.65 521.29zM384.10 530.75L390.35 520.25L377.85 520.25zM392.29 529.72L398.54 519.22L386.04 519.22zM400.48 528.68L406.73 518.18L394.23 518.18zM408.67 527.65L414.92 517.15L402.42 517.15zM416.86 526.64L423.11 516.14L410.61 516.14zM425.06 525.67L431.31 515.17L418.81 515.17zM433.25 524.76L439.50 514.26L427.00 514.26zM441.44 523.87L447.69 513.37L435.19 513.37zM449.63 522.93L455.88 512.43L443.38 512.43zM457.82 521.93L464.07 511.43L451.57 511.43zM466.02 520.88L472.27 510.38L459.77 510.38zM474.21 519.79L480.46 509.29L467.96 509.29zM482.40 518.65L488.65 508.15L476.15 508.15z"/>
<path fill="#00ffff" d="M72.80 707.20L79.30 713.45L72.80 719.70L66.30 713.45zM80.99 697.40L87.49 703.65L80.99 709.90L74.49 703.65zM89.18 691.05L95.68 697.30L89.18 703.55L82.68 697.30zM97.38 681.57L103.88 687.82L97.38 694.07L90.88 687.82zM105.57 674.14L112.07 680.39L105.57 686.64L99.07 680.39zM113.76 666.29L120.26 672.54L113.76 678.79L107.26 672.54zM121.95 658.13L128.45 664.38L121.95 670.63L115.45 664.38zM130.14 648.52L136.64 654.77L130.14 661.02L123.64 654.77zM138.34 639.05L144.84 645.30L138.34 651.55L131.84 645.30zM146.53 631.26L153.03 637.51L146.53 643.76L140.03 637.51zM154.72 623.61L161.22 629.86L154.72 636.11L148.22 629.86zM162.91 615.16L169.41 621.41L162.91 627.66L156.41 621.41zM171.10 607.46L177.60 613.71L171.10 619.96L164.60 613.71zM179.30 599.39L185.80 605.64L179.30 611.89L172.80 605.64zM187.49 591.52L193.99 597.77L187.49 604.02L180.99 597.77zM195.68 583.83L202.18 590.08L195.68 596.33L189.18 590.08zM203.87 575.96L210.37 582.21L203.87 588.46L197.37 582.21zM212.06 568.26L218.56 574.51L212.06 580.76L205.56 574.51zM220.26 561.17L226.76 567.42L220.26 573.67L213.76 567.42zM228.45 554.25L234.95 560.50L228.45 566.75L221.95 560.50zM236.64 547.51L243.14 553.76L236.64 560.01L230.14 553.76zM244.83 541.59L251.33 547.84L244.83 554.09L238.33 547.84zM253.02 535.67L259.52 541.92L253.02 548.17L246.52 541.92zM261.22 529.35L267.72 535.60L261.22 541.85L254.72 535.60zM269.41 523.77L275.91 530.02L269.41 536.27L262.91 530.02zM277.60 518.68L284.10 524.93L277.60 531.18L271.10 524.93zM285.79 513.97L292.29 520.22L285.79 526.47L279.29 520.22zM293.98 509.74L300.48 515.99L293.98 522.24L287.48 515.99zM302.18 506.10L308.68 512.35L302.18 518.60L295.68 512.35zM310.37 502.69L316.87 508.94L310.37 515.19L303.87 508.94zM318.56 499.17L325.06 505.42L318.56 511.67L312.06 505.42zM326.75 496.28L333.25 502.53L326.75 508.78L320.25 502.53zM334.94 494.03L341.44 500.28L334.94 506.53L328.44 500.28zM343.14 492.09L349.64 498.34L343.14 504.59L336.64 498.34zM351.33 490.37L357.83 496.62L351.33 502.87L344.83 496.62zM359.52 488.78L366.02 495.03L359.52 501.28L353.02 495.03zM367.71 487.38L374.21 493.63L367.71 499.88L361.21 493.63zM375.90 486.11L382.40 492.36L375.90 498.61L369.40 492.36zM384.10 484.84L390.60 491.09L384.10 497.34L377.60 491.09zM392.29 483.46L398.79 489.71L392.29 495.96L385.79 489.71zM400.48 482.00L406.98 488.25L400.48 494.50L393.98 488.25zM408.67 480.52L415.17 486.77L408.67 493.02L402.17 486.77zM416.86 479.05L423.36 485.30L416.86 491.55L410.36 485.30zM425.06 477.63L431.56 483.88L425.06 490.13L418.56 483.88zM433.25 476.26L439.75 482.51L433.25 488.76L426.75 482.51zM441.44 474.90L447.94 481.15L441.44 487.40L434.94 481.15zM449.63 473.50L456.13 479.75L449.63 486.00L443.13 479.75zM457.82 472.03L464.32 478.28L457.82 484.53L451.32 478.28zM466.02 470.52L472.52 476.77L466.02 483.02L459.52 476.77zM474.21 468.97L480.71 475.22L474.21 481.47L467.71 475.22zM482.40 467.37L488.90 473.62L482.40 479.87L475.90 473.62z"/>
</g>
<path fill="#000" transform="translate(36.10 655.25) scale(24.360 -23.200)" d="M0.392 0L0.252 0L0.252 0.503C0.200 0.455 0.130 0.420 0.055 0.395L0.055 0.522C0.150 0.556 0.240 0.622 0.286 0.716L0.392 0.716Z"/>
<text x="36.10" y="655.25" font-family="Liberation Sans" font-weight="bold" font-size="23.20" fill="#000" textLength="27.10" lengthAdjust="spacingAndGlyphs"> 0</text>
<text x="36.10" y="597.60" font-family="Liberation Sans" font-weight="bold" font-size="23.20" fill="#000" textLength="27.10" lengthAdjust="spacingAndGlyphs">20</text>
<text x="36.10" y="539.95" font-family="Liberation Sans" font-weight="bold" font-size="23.20" fill="#000" textLength="27.10" lengthAdjust="spacingAndGlyphs">30</text>
<text x="36.10" y="482.30" font-family="Liberation Sans" font-weight="bold" font-size="23.20" fill="#000" textLength="27.10" lengthAdjust="spacingAndGlyphs">40</text>
<text x="36.10" y="424.65" font-family="Liberation Sans" font-weight="bold" font-size="23.20" fill="#000" textLength="27.10" lengthAdjust="spacingAndGlyphs">50</text>
<text x="59.70" y="729.30" font-family="Liberation Sans" font-weight="bold" font-size="17.80" fill="#000" textLength="26.23" lengthAdjust="spacingAndGlyphs">0.0</text>
<text x="161.97" y="729.30" font-family="Liberation Sans" font-weight="bold" font-size="17.80" fill="#000" textLength="26.23" lengthAdjust="spacingAndGlyphs">0.5</text>
<path fill="#000" transform="translate(264.35 729.30) scale(18.868 -17.800)" d="M0.392 0L0.252 0L0.252 0.503C0.200 0.455 0.130 0.420 0.055 0.395L0.055 0.522C0.150 0.556 0.240 0.622 0.286 0.716L0.392 0.716Z"/>
<text x="264.35" y="729.30" font-family="Liberation Sans" font-weight="bold" font-size="17.80" fill="#000" textLength="26.23" lengthAdjust="spacingAndGlyphs"> .0</text>
<path fill="#000" transform="translate(366.63 729.30) scale(18.868 -17.800)" d="M0.392 0L0.252 0L0.252 0.503C0.200 0.455 0.130 0.420 0.055 0.395L0.055 0.522C0.150 0.556 0.240 0.622 0.286 0.716L0.392 0.716Z"/>
<text x="366.63" y="729.30" font-family="Liberation Sans" font-weight="bold" font-size="17.80" fill="#000" textLength="26.23" lengthAdjust="spacingAndGlyphs"> .5</text>
<text x="469.35" y="729.30" font-family="Liberation Sans" font-weight="bold" font-size="17.80" fill="#000" textLength="26.23" lengthAdjust="spacingAndGlyphs">2.0</text>
<text x="253.77" y="759.00" font-family="Liberation Sans" font-weight="bold" font-size="18.40" fill="#000" textLength="12.52" lengthAdjust="spacingAndGlyphs">V</text>
<text x="265.97" y="765.80" font-family="Liberation Sans" font-weight="bold" font-size="11.30" fill="#000" textLength="8.98" lengthAdjust="spacingAndGlyphs">D</text>
<text x="279.36" y="759.00" font-family="Liberation Sans" font-weight="bold" font-size="18.40" fill="#000" textLength="25.26" lengthAdjust="spacingAndGlyphs">(V)</text>
<g transform="translate(22.10 586.60) rotate(-90)">
<text x="-1.20" y="0" font-family="Liberation Sans" font-weight="bold" font-size="18.00">I</text>
<text x="4.30" y="8.00" font-family="Liberation Sans" font-weight="bold" font-size="10.50">D</text>
<text x="11.88" y="0" font-family="Liberation Sans" font-weight="bold" font-size="18.00" xml:space="preserve"> (µA)</text>
</g>
<rect x="87.50" y="428.80" width="80.10" height="147.50" fill="#fff" stroke="#555" stroke-width="1"/>
<text x="89.17" y="450.40" font-family="Liberation Sans" font-weight="bold" font-size="17.90" fill="#000" textLength="12.54" lengthAdjust="spacingAndGlyphs">V</text>
<text x="100.89" y="457.20" font-family="Liberation Sans" font-weight="bold" font-size="11.20" fill="#000" textLength="9.76" lengthAdjust="spacingAndGlyphs">G</text>
<text x="115.06" y="450.40" font-family="Liberation Sans" font-weight="bold" font-size="17.90" fill="#000" textLength="25.05" lengthAdjust="spacingAndGlyphs">(V)</text>
<path fill="#000000" d="M104.60 467.80h10.00v9.00h-10.00z"/>
<text x="136.27" y="478.50" font-family="Liberation Sans" font-weight="bold" font-size="17.60" fill="#000" textLength="10.28" lengthAdjust="spacingAndGlyphs">0</text>
<g fill="#ff0000">
<ellipse cx="109.6" cy="495.3" rx="5.85" ry="5.20"/>
</g>
<path fill="#000" transform="translate(151.68 501.50) scale(18.480 -17.600)" d="M0.392 0L0.252 0L0.252 0.503C0.200 0.455 0.130 0.420 0.055 0.395L0.055 0.522C0.150 0.556 0.240 0.622 0.286 0.716L0.392 0.716Z"/>
<text x="136.27" y="501.50" font-family="Liberation Sans" font-weight="bold" font-size="17.60" fill="#000" textLength="25.69" lengthAdjust="spacingAndGlyphs">0. </text>
<path fill="#00ff00" d="M109.60 512.60L116.05 522.60L103.15 522.60z"/>
<text x="136.27" y="523.80" font-family="Liberation Sans" font-weight="bold" font-size="17.60" fill="#000" textLength="25.69" lengthAdjust="spacingAndGlyphs">0.2</text>
<path fill="#0000ff" d="M109.60 545.20L116.05 534.80L103.15 534.80z"/>
<text x="136.27" y="546.20" font-family="Liberation Sans" font-weight="bold" font-size="17.60" fill="#000" textLength="25.69" lengthAdjust="spacingAndGlyphs">0.3</text>
<path fill="#00ffff" d="M109.60 555.95L116.40 562.10L109.60 568.25L102.80 562.10z"/>
<text x="136.27" y="568.30" font-family="Liberation Sans" font-weight="bold" font-size="17.60" fill="#000" textLength="25.69" lengthAdjust="spacingAndGlyphs">0.4</text>
<g transform="translate(253.90 806.00) scale(0.920 1)"><text x="-17.54" y="0" font-family="Liberation Serif" font-size="31.60">(<tspan font-weight="bold">c</tspan>)</text></g>
</svg>
<svg x="0" y="0" width="1024" height="820" overflow="visible">
<rect x="607.60" y="417.30" width="399.90" height="289.90" fill="none" stroke="#000" stroke-width="2.20"/>
<path stroke="#000" stroke-width="2.20" fill="none" d="M607.30 707.20v6.40M607.30 417.30v5.50M664.42 707.20v6.40M664.42 417.30v5.50M721.54 707.20v6.40M721.54 417.30v5.50M778.66 707.20v6.40M778.66 417.30v5.50M835.78 707.20v6.40M835.78 417.30v5.50M892.90 707.20v6.40M892.90 417.30v5.50M950.02 707.20v6.40M950.02 417.30v5.50M1007.14 707.20v6.40M1007.14 417.30v5.50"/>
<path stroke="#000" stroke-width="2.20" fill="none" d="M635.86 707.20v3.30M635.86 417.30v3.50M692.98 707.20v3.30M692.98 417.30v3.50M750.10 707.20v3.30M750.10 417.30v3.50M807.22 707.20v3.30M807.22 417.30v3.50M864.34 707.20v3.30M864.34 417.30v3.50M921.46 707.20v3.30M921.46 417.30v3.50M978.58 707.20v3.30M978.58 417.30v3.50"/>
<path stroke="#000" stroke-width="2.20" fill="none" d="M607.60 704.40h-6.50M1007.50 704.40h-6.00M607.60 646.96h-6.50M1007.50 646.96h-6.00M607.60 589.52h-6.50M1007.50 589.52h-6.00M607.60 532.08h-6.50M1007.50 532.08h-6.00M607.60 474.64h-6.50M1007.50 474.64h-6.00M607.60 417.20h-6.50M1007.50 417.20h-6.00"/>
<path stroke="#000" stroke-width="2.20" fill="none" d="M607.60 675.68h-3.50M1007.50 675.68h-3.50M607.60 618.24h-3.50M1007.50 618.24h-3.50M607.60 560.80h-3.50M1007.50 560.80h-3.50M607.60 503.36h-3.50M1007.50 503.36h-3.50M607.60 445.92h-3.50M1007.50 445.92h-3.50"/>
<defs><clipPath id="cd"><rect x="606.5" y="416.2" width="402.1" height="290.4"/></clipPath></defs>
<g clip-path="url(#cd)">
<path fill="#000000" d="M603.80 706.64h7.00v7.00h-7.00zM608.23 706.64h7.00v7.00h-7.00zM612.65 706.64h7.00v7.00h-7.00zM617.08 706.63h7.00v7.00h-7.00zM621.51 706.62h7.00v7.00h-7.00zM625.93 706.60h7.00v7.00h-7.00zM630.36 706.58h7.00v7.00h-7.00zM634.79 706.56h7.00v7.00h-7.00zM639.21 706.53h7.00v7.00h-7.00zM643.64 706.50h7.00v7.00h-7.00zM648.07 706.47h7.00v7.00h-7.00zM652.49 706.43h7.00v7.00h-7.00zM656.92 706.40h7.00v7.00h-7.00zM661.35 706.35h7.00v7.00h-7.00zM665.78 706.19h7.00v7.00h-7.00zM670.20 705.87h7.00v7.00h-7.00zM674.63 705.41h7.00v7.00h-7.00zM679.06 704.87h7.00v7.00h-7.00zM683.48 704.28h7.00v7.00h-7.00zM687.91 703.68h7.00v7.00h-7.00zM692.34 703.11h7.00v7.00h-7.00zM696.76 702.61h7.00v7.00h-7.00zM701.19 702.21h7.00v7.00h-7.00zM705.62 701.95h7.00v7.00h-7.00zM710.04 701.71h7.00v7.00h-7.00zM714.47 701.53h7.00v7.00h-7.00zM718.90 701.47h7.00v7.00h-7.00zM723.32 701.48h7.00v7.00h-7.00zM727.75 701.48h7.00v7.00h-7.00zM732.18 701.48h7.00v7.00h-7.00zM736.60 701.48h7.00v7.00h-7.00zM741.03 701.49h7.00v7.00h-7.00zM745.46 701.50h7.00v7.00h-7.00zM749.88 701.50h7.00v7.00h-7.00zM754.31 701.51h7.00v7.00h-7.00zM758.74 701.52h7.00v7.00h-7.00zM763.16 701.53h7.00v7.00h-7.00zM767.59 701.54h7.00v7.00h-7.00zM772.02 701.55h7.00v7.00h-7.00zM776.45 701.57h7.00v7.00h-7.00zM780.87 701.58h7.00v7.00h-7.00zM785.30 701.59h7.00v7.00h-7.00zM789.73 701.61h7.00v7.00h-7.00zM794.15 701.62h7.00v7.00h-7.00zM798.58 701.64h7.00v7.00h-7.00zM803.01 701.66h7.00v7.00h-7.00zM807.43 701.67h7.00v7.00h-7.00zM811.86 701.69h7.00v7.00h-7.00zM816.29 701.71h7.00v7.00h-7.00zM820.71 701.73h7.00v7.00h-7.00zM825.14 701.75h7.00v7.00h-7.00zM829.57 701.77h7.00v7.00h-7.00zM833.99 701.79h7.00v7.00h-7.00zM838.42 701.81h7.00v7.00h-7.00zM842.85 701.83h7.00v7.00h-7.00zM847.27 701.85h7.00v7.00h-7.00zM851.70 701.87h7.00v7.00h-7.00zM856.13 701.89h7.00v7.00h-7.00zM860.55 701.91h7.00v7.00h-7.00zM864.98 701.93h7.00v7.00h-7.00zM869.41 701.95h7.00v7.00h-7.00zM873.83 701.97h7.00v7.00h-7.00zM878.26 702.00h7.00v7.00h-7.00zM882.69 702.02h7.00v7.00h-7.00zM887.12 702.04h7.00v7.00h-7.00zM891.54 702.06h7.00v7.00h-7.00zM895.97 702.08h7.00v7.00h-7.00zM900.40 702.11h7.00v7.00h-7.00zM904.82 702.13h7.00v7.00h-7.00zM909.25 702.16h7.00v7.00h-7.00zM913.68 702.18h7.00v7.00h-7.00zM918.10 702.21h7.00v7.00h-7.00zM922.53 702.24h7.00v7.00h-7.00zM926.96 702.27h7.00v7.00h-7.00zM931.38 702.30h7.00v7.00h-7.00zM935.81 702.33h7.00v7.00h-7.00zM940.24 702.37h7.00v7.00h-7.00zM944.66 702.40h7.00v7.00h-7.00zM949.09 702.44h7.00v7.00h-7.00zM953.52 702.47h7.00v7.00h-7.00zM957.94 702.51h7.00v7.00h-7.00zM962.37 702.54h7.00v7.00h-7.00zM966.80 702.58h7.00v7.00h-7.00zM971.22 702.62h7.00v7.00h-7.00zM975.65 702.66h7.00v7.00h-7.00zM980.08 702.70h7.00v7.00h-7.00zM984.50 702.74h7.00v7.00h-7.00zM988.93 702.78h7.00v7.00h-7.00zM993.36 702.82h7.00v7.00h-7.00zM997.79 702.86h7.00v7.00h-7.00zM1002.21 702.90h7.00v7.00h-7.00z"/>
<g fill="#ff0000">
<ellipse cx="607.3" cy="711.9" rx="4.25" ry="4.25"/>
<ellipse cx="611.7" cy="711.9" rx="4.25" ry="4.25"/>
<ellipse cx="616.2" cy="711.8" rx="4.25" ry="4.25"/>
<ellipse cx="620.6" cy="711.8" rx="4.25" ry="4.25"/>
<ellipse cx="625.0" cy="711.8" rx="4.25" ry="4.25"/>
<ellipse cx="629.4" cy="711.7" rx="4.25" ry="4.25"/>
<ellipse cx="633.9" cy="711.6" rx="4.25" ry="4.25"/>
<ellipse cx="638.3" cy="711.5" rx="4.25" ry="4.25"/>
<ellipse cx="642.7" cy="711.4" rx="4.25" ry="4.25"/>
<ellipse cx="647.1" cy="711.3" rx="4.25" ry="4.25"/>
<ellipse cx="651.6" cy="711.2" rx="4.25" ry="4.25"/>
<ellipse cx="656.0" cy="711.0" rx="4.25" ry="4.25"/>
<ellipse cx="660.4" cy="710.9" rx="4.25" ry="4.25"/>
<ellipse cx="664.8" cy="710.7" rx="4.25" ry="4.25"/>
<ellipse cx="669.3" cy="710.3" rx="4.25" ry="4.25"/>
<ellipse cx="673.7" cy="709.5" rx="4.25" ry="4.25"/>
<ellipse cx="678.1" cy="708.6" rx="4.25" ry="4.25"/>
<ellipse cx="682.6" cy="707.5" rx="4.25" ry="4.25"/>
<ellipse cx="687.0" cy="706.5" rx="4.25" ry="4.25"/>
<ellipse cx="691.4" cy="705.5" rx="4.25" ry="4.25"/>
<ellipse cx="695.8" cy="704.8" rx="4.25" ry="4.25"/>
<ellipse cx="700.3" cy="704.1" rx="4.25" ry="4.25"/>
<ellipse cx="704.7" cy="703.5" rx="4.25" ry="4.25"/>
<ellipse cx="709.1" cy="702.9" rx="4.25" ry="4.25"/>
<ellipse cx="713.5" cy="702.2" rx="4.25" ry="4.25"/>
<ellipse cx="718.0" cy="701.4" rx="4.25" ry="4.25"/>
<ellipse cx="722.4" cy="700.4" rx="4.25" ry="4.25"/>
<ellipse cx="726.8" cy="699.3" rx="4.25" ry="4.25"/>
<ellipse cx="731.3" cy="697.9" rx="4.25" ry="4.25"/>
<ellipse cx="735.7" cy="696.4" rx="4.25" ry="4.25"/>
<ellipse cx="740.1" cy="694.9" rx="4.25" ry="4.25"/>
<ellipse cx="744.5" cy="693.1" rx="4.25" ry="4.25"/>
<ellipse cx="749.0" cy="691.3" rx="4.25" ry="4.25"/>
<ellipse cx="753.4" cy="689.4" rx="4.25" ry="4.25"/>
<ellipse cx="757.8" cy="687.5" rx="4.25" ry="4.25"/>
<ellipse cx="762.2" cy="685.5" rx="4.25" ry="4.25"/>
<ellipse cx="766.7" cy="683.6" rx="4.25" ry="4.25"/>
<ellipse cx="771.1" cy="681.6" rx="4.25" ry="4.25"/>
<ellipse cx="775.5" cy="679.6" rx="4.25" ry="4.25"/>
<ellipse cx="779.9" cy="677.6" rx="4.25" ry="4.25"/>
<ellipse cx="784.4" cy="675.5" rx="4.25" ry="4.25"/>
<ellipse cx="788.8" cy="673.5" rx="4.25" ry="4.25"/>
<ellipse cx="793.2" cy="671.5" rx="4.25" ry="4.25"/>
<ellipse cx="797.7" cy="669.5" rx="4.25" ry="4.25"/>
<ellipse cx="802.1" cy="667.4" rx="4.25" ry="4.25"/>
<ellipse cx="806.5" cy="665.4" rx="4.25" ry="4.25"/>
<ellipse cx="810.9" cy="663.3" rx="4.25" ry="4.25"/>
<ellipse cx="815.4" cy="661.1" rx="4.25" ry="4.25"/>
<ellipse cx="819.8" cy="658.9" rx="4.25" ry="4.25"/>
<ellipse cx="824.2" cy="657.0" rx="4.25" ry="4.25"/>
<ellipse cx="828.6" cy="655.3" rx="4.25" ry="4.25"/>
<ellipse cx="833.1" cy="653.7" rx="4.25" ry="4.25"/>
<ellipse cx="837.5" cy="652.3" rx="4.25" ry="4.25"/>
<ellipse cx="841.9" cy="651.0" rx="4.25" ry="4.25"/>
<ellipse cx="846.3" cy="649.8" rx="4.25" ry="4.25"/>
<ellipse cx="850.8" cy="648.7" rx="4.25" ry="4.25"/>
<ellipse cx="855.2" cy="647.6" rx="4.25" ry="4.25"/>
<ellipse cx="859.6" cy="646.8" rx="4.25" ry="4.25"/>
<ellipse cx="864.1" cy="646.1" rx="4.25" ry="4.25"/>
<ellipse cx="868.5" cy="645.4" rx="4.25" ry="4.25"/>
<ellipse cx="872.9" cy="644.9" rx="4.25" ry="4.25"/>
<ellipse cx="877.3" cy="644.4" rx="4.25" ry="4.25"/>
<ellipse cx="881.8" cy="644.0" rx="4.25" ry="4.25"/>
<ellipse cx="886.2" cy="643.7" rx="4.25" ry="4.25"/>
<ellipse cx="890.6" cy="643.4" rx="4.25" ry="4.25"/>
<ellipse cx="895.0" cy="643.1" rx="4.25" ry="4.25"/>
<ellipse cx="899.5" cy="642.9" rx="4.25" ry="4.25"/>
<ellipse cx="903.9" cy="642.7" rx="4.25" ry="4.25"/>
<ellipse cx="908.3" cy="642.5" rx="4.25" ry="4.25"/>
<ellipse cx="912.7" cy="642.3" rx="4.25" ry="4.25"/>
<ellipse cx="917.2" cy="642.1" rx="4.25" ry="4.25"/>
<ellipse cx="921.6" cy="642.0" rx="4.25" ry="4.25"/>
<ellipse cx="926.0" cy="641.8" rx="4.25" ry="4.25"/>
<ellipse cx="930.5" cy="641.7" rx="4.25" ry="4.25"/>
<ellipse cx="934.9" cy="641.6" rx="4.25" ry="4.25"/>
<ellipse cx="939.3" cy="641.6" rx="4.25" ry="4.25"/>
<ellipse cx="943.7" cy="641.5" rx="4.25" ry="4.25"/>
<ellipse cx="948.2" cy="641.4" rx="4.25" ry="4.25"/>
<ellipse cx="952.6" cy="641.3" rx="4.25" ry="4.25"/>
<ellipse cx="957.0" cy="641.3" rx="4.25" ry="4.25"/>
<ellipse cx="961.4" cy="641.2" rx="4.25" ry="4.25"/>
<ellipse cx="965.9" cy="641.2" rx="4.25" ry="4.25"/>
<ellipse cx="970.3" cy="641.2" rx="4.25" ry="4.25"/>
<ellipse cx="974.7" cy="641.1" rx="4.25" ry="4.25"/>
<ellipse cx="979.2" cy="641.1" rx="4.25" ry="4.25"/>
<ellipse cx="983.6" cy="641.0" rx="4.25" ry="4.25"/>
<ellipse cx="988.0" cy="641.0" rx="4.25" ry="4.25"/>
<ellipse cx="992.4" cy="641.0" rx="4.25" ry="4.25"/>
<ellipse cx="996.9" cy="641.0" rx="4.25" ry="4.25"/>
<ellipse cx="1001.3" cy="640.9" rx="4.25" ry="4.25"/>
<ellipse cx="1005.7" cy="640.9" rx="4.25" ry="4.25"/>
</g>
<path fill="#00ff00" d="M607.30 701.55L612.05 709.55L602.55 709.55zM611.73 701.55L616.48 709.55L606.98 709.55zM616.15 701.54L620.90 709.54L611.40 709.54zM620.58 701.53L625.33 709.53L615.83 709.53zM625.01 701.52L629.76 709.52L620.26 709.52zM629.43 701.51L634.18 709.51L624.68 709.51zM633.86 701.49L638.61 709.49L629.11 709.49zM638.29 701.47L643.04 709.47L633.54 709.47zM642.71 701.44L647.46 709.44L637.96 709.44zM647.14 701.41L651.89 709.41L642.39 709.41zM651.57 701.38L656.32 709.38L646.82 709.38zM655.99 701.34L660.74 709.34L651.24 709.34zM660.42 701.30L665.17 709.30L655.67 709.30zM664.85 701.26L669.60 709.26L660.10 709.26zM669.28 701.14L674.03 709.14L664.53 709.14zM673.70 700.93L678.45 708.93L668.95 708.93zM678.13 700.64L682.88 708.64L673.38 708.64zM682.56 700.28L687.31 708.28L677.81 708.28zM686.98 699.86L691.73 707.86L682.23 707.86zM691.41 699.42L696.16 707.42L686.66 707.42zM695.84 698.91L700.59 706.91L691.09 706.91zM700.26 698.24L705.01 706.24L695.51 706.24zM704.69 697.40L709.44 705.40L699.94 705.40zM709.12 696.43L713.87 704.43L704.37 704.43zM713.54 695.34L718.29 703.34L708.79 703.34zM717.97 694.15L722.72 702.15L713.22 702.15zM722.40 692.88L727.15 700.88L717.65 700.88zM726.82 691.55L731.57 699.55L722.07 699.55zM731.25 690.20L736.00 698.20L726.50 698.20zM735.68 688.80L740.43 696.80L730.93 696.80zM740.10 687.24L744.85 695.24L735.35 695.24zM744.53 685.52L749.28 693.52L739.78 693.52zM748.96 683.65L753.71 691.65L744.21 691.65zM753.38 681.66L758.13 689.66L748.63 689.66zM757.81 679.55L762.56 687.55L753.06 687.55zM762.24 677.33L766.99 685.33L757.49 685.33zM766.66 674.86L771.41 682.86L761.91 682.86zM771.09 672.13L775.84 680.13L766.34 680.13zM775.52 669.13L780.27 677.13L770.77 677.13zM779.95 665.74L784.70 673.74L775.20 673.74zM784.37 662.09L789.12 670.09L779.62 670.09zM788.80 658.26L793.55 666.26L784.05 666.26zM793.23 653.99L797.98 661.99L788.48 661.99zM797.65 649.80L802.40 657.80L792.90 657.80zM802.08 646.29L806.83 654.29L797.33 654.29zM806.51 643.25L811.26 651.25L801.76 651.25zM810.93 640.48L815.68 648.48L806.18 648.48zM815.36 637.86L820.11 645.86L810.61 645.86zM819.79 635.26L824.54 643.26L815.04 643.26zM824.21 632.70L828.96 640.70L819.46 640.70zM828.64 622.36L833.39 630.36L823.89 630.36zM833.07 619.73L837.82 627.73L828.32 627.73zM837.49 616.72L842.24 624.72L832.74 624.72zM841.92 612.94L846.67 620.94L837.17 620.94zM846.35 608.19L851.10 616.19L841.60 616.19zM850.77 603.24L855.52 611.24L846.02 611.24zM855.20 598.68L859.95 606.68L850.45 606.68zM859.63 594.09L864.38 602.09L854.88 602.09zM864.05 590.69L868.80 598.69L859.30 598.69zM868.48 588.53L873.23 596.53L863.73 596.53zM872.91 586.68L877.66 594.68L868.16 594.68zM877.33 585.12L882.08 593.12L872.58 593.12zM881.76 583.83L886.51 591.83L877.01 591.83zM886.19 582.77L890.94 590.77L881.44 590.77zM890.62 581.92L895.37 589.92L885.87 589.92zM895.04 581.21L899.79 589.21L890.29 589.21zM899.47 580.58L904.22 588.58L894.72 588.58zM903.90 580.02L908.65 588.02L899.15 588.02zM908.32 579.53L913.07 587.53L903.57 587.53zM912.75 579.07L917.50 587.07L908.00 587.07zM917.18 578.65L921.93 586.65L912.43 586.65zM921.60 578.25L926.35 586.25L916.85 586.25zM926.03 577.85L930.78 585.85L921.28 585.85zM930.46 577.44L935.21 585.44L925.71 585.44zM934.88 577.01L939.63 585.01L930.13 585.01zM939.31 576.57L944.06 584.57L934.56 584.57zM943.74 576.14L948.49 584.14L938.99 584.14zM948.16 575.71L952.91 583.71L943.41 583.71zM952.59 575.31L957.34 583.31L947.84 583.31zM957.02 574.93L961.77 582.93L952.27 582.93zM961.44 574.61L966.19 582.61L956.69 582.61zM965.87 574.33L970.62 582.33L961.12 582.33zM970.30 574.13L975.05 582.13L965.55 582.13zM974.72 573.99L979.47 581.99L969.97 581.99zM979.15 573.87L983.90 581.87L974.40 581.87zM983.58 573.77L988.33 581.77L978.83 581.77zM988.00 573.67L992.75 581.67L983.25 581.67zM992.43 573.59L997.18 581.59L987.68 581.59zM996.86 573.52L1001.61 581.52L992.11 581.52zM1001.29 573.48L1006.04 581.48L996.54 581.48zM1005.71 573.46L1010.46 581.46L1000.96 581.46z"/>
<path fill="#0000ff" d="M607.30 707.94L612.05 699.94L602.55 699.94zM611.73 707.93L616.48 699.93L606.98 699.93zM616.15 707.91L620.90 699.91L611.40 699.91zM620.58 707.88L625.33 699.88L615.83 699.88zM625.01 707.84L629.76 699.84L620.26 699.84zM629.43 707.79L634.18 699.79L624.68 699.79zM633.86 707.74L638.61 699.74L629.11 699.74zM638.29 707.67L643.04 699.67L633.54 699.67zM642.71 707.58L647.46 699.58L637.96 699.58zM647.14 707.45L651.89 699.45L642.39 699.45zM651.57 707.29L656.32 699.29L646.82 699.29zM655.99 707.10L660.74 699.10L651.24 699.10zM660.42 706.89L665.17 698.89L655.67 698.89zM664.85 706.65L669.60 698.65L660.10 698.65zM669.28 706.35L674.03 698.35L664.53 698.35zM673.70 705.96L678.45 697.96L668.95 697.96zM678.13 705.49L682.88 697.49L673.38 697.49zM682.56 704.95L687.31 696.95L677.81 696.95zM686.98 704.34L691.73 696.34L682.23 696.34zM691.41 703.67L696.16 695.67L686.66 695.67zM695.84 702.95L700.59 694.95L691.09 694.95zM700.26 702.18L705.01 694.18L695.51 694.18zM704.69 701.28L709.44 693.28L699.94 693.28zM709.12 700.20L713.87 692.20L704.37 692.20zM713.54 698.98L718.29 690.98L708.79 690.98zM717.97 697.63L722.72 689.63L713.22 689.63zM722.40 696.19L727.15 688.19L717.65 688.19zM726.82 694.68L731.57 686.68L722.07 686.68zM731.25 693.13L736.00 685.13L726.50 685.13zM735.68 691.55L740.43 683.55L730.93 683.55zM740.10 689.90L744.85 681.90L735.35 681.90zM744.53 688.13L749.28 680.13L739.78 680.13zM748.96 686.23L753.71 678.23L744.21 678.23zM753.38 684.17L758.13 676.17L748.63 676.17zM757.81 681.92L762.56 673.92L753.06 673.92zM762.24 679.37L766.99 671.37L757.49 671.37zM766.66 676.26L771.41 668.26L761.91 668.26zM771.09 672.89L775.84 664.89L766.34 664.89zM775.52 669.58L780.27 661.58L770.77 661.58zM779.95 666.26L784.70 658.26L775.20 658.26zM784.37 662.82L789.12 654.82L779.62 654.82zM788.80 659.17L793.55 651.17L784.05 651.17zM793.23 655.35L797.98 647.35L788.48 647.35zM797.65 651.30L802.40 643.30L792.90 643.30zM802.08 646.91L806.83 638.91L797.33 638.91zM806.51 642.04L811.26 634.04L801.76 634.04zM810.93 636.96L815.68 628.96L806.18 628.96zM815.36 631.99L820.11 623.99L810.61 623.99zM819.79 627.16L824.54 619.16L815.04 619.16zM824.21 622.25L828.96 614.25L819.46 614.25zM828.64 617.09L833.39 609.09L823.89 609.09zM833.07 611.65L837.82 603.65L828.32 603.65zM837.49 605.96L842.24 597.96L832.74 597.96zM841.92 599.87L846.67 591.87L837.17 591.87zM846.35 593.43L851.10 585.43L841.60 585.43zM850.77 587.07L855.52 579.07L846.02 579.07zM855.20 581.23L859.95 573.23L850.45 573.23zM859.63 576.03L864.38 568.03L854.88 568.03zM864.05 571.16L868.80 563.16L859.30 563.16zM868.48 566.57L873.23 558.57L863.73 558.57zM872.91 562.23L877.66 554.23L868.16 554.23zM877.33 558.00L882.08 550.00L872.58 550.00zM881.76 553.94L886.51 545.94L877.01 545.94zM886.19 550.22L890.94 542.22L881.44 542.22zM890.62 546.98L895.37 538.98L885.87 538.98zM895.04 544.06L899.79 536.06L890.29 536.06zM899.47 541.41L904.22 533.41L894.72 533.41zM903.90 539.11L908.65 531.11L899.15 531.11zM908.32 537.25L913.07 529.25L903.57 529.25zM912.75 535.66L917.50 527.66L908.00 527.66zM917.18 534.26L921.93 526.26L912.43 526.26zM921.60 533.01L926.35 525.01L916.85 525.01zM926.03 531.87L930.78 523.87L921.28 523.87zM930.46 530.81L935.21 522.81L925.71 522.81zM934.88 529.77L939.63 521.77L930.13 521.77zM939.31 528.73L944.06 520.73L934.56 520.73zM943.74 527.72L948.49 519.72L938.99 519.72zM948.16 526.75L952.91 518.75L943.41 518.75zM952.59 525.84L957.34 517.84L947.84 517.84zM957.02 525.01L961.77 517.01L952.27 517.01zM961.44 524.27L966.19 516.27L956.69 516.27zM965.87 523.63L970.62 515.63L961.12 515.63zM970.30 523.12L975.05 515.12L965.55 515.12zM974.72 522.75L979.47 514.75L969.97 514.75zM979.15 522.41L983.90 514.41L974.40 514.41zM983.58 522.09L988.33 514.09L978.83 514.09zM988.00 521.80L992.75 513.80L983.25 513.80zM992.43 521.55L997.18 513.55L987.68 513.55zM996.86 521.35L1001.61 513.35L992.11 513.35zM1001.29 521.22L1006.04 513.22L996.54 513.22zM1005.71 521.15L1010.46 513.15L1000.96 513.15z"/>
<path fill="#00ffff" d="M607.30 690.48L612.20 695.38L607.30 700.28L602.40 695.38zM611.73 690.48L616.63 695.38L611.73 700.28L606.83 695.38zM616.15 690.46L621.05 695.36L616.15 700.26L611.25 695.36zM620.58 690.44L625.48 695.34L620.58 700.24L615.68 695.34zM625.01 690.41L629.91 695.31L625.01 700.21L620.11 695.31zM629.43 690.37L634.33 695.27L629.43 700.17L624.53 695.27zM633.86 690.33L638.76 695.23L633.86 700.13L628.96 695.23zM638.29 690.28L643.19 695.18L638.29 700.08L633.39 695.18zM642.71 690.20L647.61 695.10L642.71 700.00L637.81 695.10zM647.14 690.09L652.04 694.99L647.14 699.89L642.24 694.99zM651.57 689.96L656.47 694.86L651.57 699.76L646.67 694.86zM655.99 689.80L660.89 694.70L655.99 699.60L651.09 694.70zM660.42 689.62L665.32 694.52L660.42 699.42L655.52 694.52zM664.85 689.43L669.75 694.33L664.85 699.23L659.95 694.33zM669.28 689.20L674.18 694.10L669.28 699.00L664.38 694.10zM673.70 688.93L678.60 693.83L673.70 698.73L668.80 693.83zM678.13 688.60L683.03 693.50L678.13 698.40L673.23 693.50zM682.56 688.23L687.46 693.13L682.56 698.03L677.66 693.13zM686.98 687.80L691.88 692.70L686.98 697.60L682.08 692.70zM691.41 687.31L696.31 692.21L691.41 697.11L686.51 692.21zM695.84 686.78L700.74 691.68L695.84 696.58L690.94 691.68zM700.26 686.19L705.16 691.09L700.26 695.99L695.36 691.09zM704.69 685.42L709.59 690.32L704.69 695.22L699.79 690.32zM709.12 684.43L714.02 689.33L709.12 694.23L704.22 689.33zM713.54 683.25L718.44 688.15L713.54 693.05L708.64 688.15zM717.97 681.92L722.87 686.82L717.97 691.72L713.07 686.82zM722.40 680.48L727.30 685.38L722.40 690.28L717.50 685.38zM726.82 678.94L731.72 683.84L726.82 688.74L721.92 683.84zM731.25 677.35L736.15 682.25L731.25 687.15L726.35 682.25zM735.68 675.73L740.58 680.63L735.68 685.53L730.78 680.63zM740.10 673.96L745.00 678.86L740.10 683.76L735.20 678.86zM744.53 672.03L749.43 676.93L744.53 681.83L739.63 676.93zM748.96 669.92L753.86 674.82L748.96 679.72L744.06 674.82zM753.38 667.61L758.28 672.51L753.38 677.41L748.48 672.51zM757.81 665.09L762.71 669.99L757.81 674.89L752.91 669.99zM762.24 662.26L767.14 667.16L762.24 672.06L757.34 667.16zM766.66 658.79L771.56 663.69L766.66 668.59L761.76 663.69zM771.09 655.02L775.99 659.92L771.09 664.82L766.19 659.92zM775.52 651.31L780.42 656.21L775.52 661.11L770.62 656.21zM779.95 647.56L784.85 652.46L779.95 657.36L775.05 652.46zM784.37 643.73L789.27 648.63L784.37 653.53L779.47 648.63zM788.80 639.86L793.70 644.76L788.80 649.66L783.90 644.76zM793.23 635.97L798.13 640.87L793.23 645.77L788.33 640.87zM797.65 631.97L802.55 636.87L797.65 641.77L792.75 636.87zM802.08 627.77L806.98 632.67L802.08 637.57L797.18 632.67zM806.51 623.36L811.41 628.26L806.51 633.16L801.61 628.26zM810.93 618.74L815.83 623.64L810.93 628.54L806.03 623.64zM815.36 613.89L820.26 618.79L815.36 623.69L810.46 618.79zM819.79 608.77L824.69 613.67L819.79 618.57L814.89 613.67zM824.21 603.38L829.11 608.28L824.21 613.18L819.31 608.28zM828.64 597.67L833.54 602.57L828.64 607.47L823.74 602.57zM833.07 591.53L837.97 596.43L833.07 601.33L828.17 596.43zM837.49 585.05L842.39 589.95L837.49 594.85L832.59 589.95zM841.92 578.17L846.82 583.07L841.92 587.97L837.02 583.07zM846.35 571.04L851.25 575.94L846.35 580.84L841.45 575.94zM850.77 564.04L855.67 568.94L850.77 573.84L845.87 568.94zM855.20 557.03L860.10 561.93L855.20 566.83L850.30 561.93zM859.63 550.08L864.53 554.98L859.63 559.88L854.73 554.98zM864.05 543.26L868.95 548.16L864.05 553.06L859.15 548.16zM868.48 536.53L873.38 541.43L868.48 546.33L863.58 541.43zM872.91 529.87L877.81 534.77L872.91 539.67L868.01 534.77zM877.33 523.40L882.23 528.30L877.33 533.20L872.43 528.30zM881.76 517.21L886.66 522.11L881.76 527.01L876.86 522.11zM886.19 511.10L891.09 516.00L886.19 520.90L881.29 516.00zM890.62 505.15L895.52 510.05L890.62 514.95L885.72 510.05zM895.04 499.70L899.94 504.60L895.04 509.50L890.14 504.60zM899.47 495.07L904.37 499.97L899.47 504.87L894.57 499.97zM903.90 491.31L908.80 496.21L903.90 501.11L899.00 496.21zM908.32 487.76L913.22 492.66L908.32 497.56L903.42 492.66zM912.75 484.15L917.65 489.05L912.75 493.95L907.85 489.05zM917.18 481.06L922.08 485.96L917.18 490.86L912.28 485.96zM921.60 478.37L926.50 483.27L921.60 488.17L916.70 483.27zM926.03 475.90L930.93 480.80L926.03 485.70L921.13 480.80zM930.46 473.53L935.36 478.43L930.46 483.33L925.56 478.43zM934.88 471.19L939.78 476.09L934.88 480.99L929.98 476.09zM939.31 468.92L944.21 473.82L939.31 478.72L934.41 473.82zM943.74 466.77L948.64 471.67L943.74 476.57L938.84 471.67zM948.16 464.77L953.06 469.67L948.16 474.57L943.26 469.67zM952.59 462.95L957.49 467.85L952.59 472.75L947.69 467.85zM957.02 461.17L961.92 466.07L957.02 470.97L952.12 466.07zM961.44 459.48L966.34 464.38L961.44 469.28L956.54 464.38zM965.87 457.94L970.77 462.84L965.87 467.74L960.97 462.84zM970.30 456.64L975.20 461.54L970.30 466.44L965.40 461.54zM974.72 455.61L979.62 460.51L974.72 465.41L969.82 460.51zM979.15 454.68L984.05 459.58L979.15 464.48L974.25 459.58zM983.58 453.79L988.48 458.69L983.58 463.59L978.68 458.69zM988.00 452.96L992.90 457.86L988.00 462.76L983.10 457.86zM992.43 452.24L997.33 457.14L992.43 462.04L987.53 457.14zM996.86 451.63L1001.76 456.53L996.86 461.43L991.96 456.53zM1001.29 451.15L1006.19 456.05L1001.29 460.95L996.39 456.05zM1005.71 450.85L1010.61 455.75L1005.71 460.65L1000.81 455.75z"/>
</g>
<text x="584.39" y="711.40" font-family="Liberation Sans" font-weight="bold" font-size="23.50" fill="#000">0</text>
<path fill="#000" transform="translate(571.32 653.96) scale(23.500 -23.500)" d="M0.392 0L0.252 0L0.252 0.503C0.200 0.455 0.130 0.420 0.055 0.395L0.055 0.522C0.150 0.556 0.240 0.622 0.286 0.716L0.392 0.716Z"/>
<text x="571.32" y="653.96" font-family="Liberation Sans" font-weight="bold" font-size="23.50" fill="#000"> 0</text>
<text x="571.32" y="596.52" font-family="Liberation Sans" font-weight="bold" font-size="23.50" fill="#000">20</text>
<text x="571.32" y="539.08" font-family="Liberation Sans" font-weight="bold" font-size="23.50" fill="#000">30</text>
<text x="571.32" y="481.64" font-family="Liberation Sans" font-weight="bold" font-size="23.50" fill="#000">40</text>
<text x="571.32" y="424.20" font-family="Liberation Sans" font-weight="bold" font-size="23.50" fill="#000">50</text>
<text x="591.35" y="730.60" font-family="Liberation Sans" font-weight="bold" font-size="17.80" fill="#000" textLength="31.29" lengthAdjust="spacingAndGlyphs">-0.4</text>
<text x="648.79" y="730.60" font-family="Liberation Sans" font-weight="bold" font-size="17.80" fill="#000" textLength="31.29" lengthAdjust="spacingAndGlyphs">-0.2</text>
<text x="708.93" y="730.60" font-family="Liberation Sans" font-weight="bold" font-size="17.80" fill="#000" textLength="25.24" lengthAdjust="spacingAndGlyphs">0.0</text>
<text x="766.04" y="730.60" font-family="Liberation Sans" font-weight="bold" font-size="17.80" fill="#000" textLength="25.24" lengthAdjust="spacingAndGlyphs">0.2</text>
<text x="822.85" y="730.60" font-family="Liberation Sans" font-weight="bold" font-size="17.80" fill="#000" textLength="25.24" lengthAdjust="spacingAndGlyphs">0.4</text>
<text x="880.25" y="730.60" font-family="Liberation Sans" font-weight="bold" font-size="17.80" fill="#000" textLength="25.24" lengthAdjust="spacingAndGlyphs">0.6</text>
<text x="937.32" y="730.60" font-family="Liberation Sans" font-weight="bold" font-size="17.80" fill="#000" textLength="25.24" lengthAdjust="spacingAndGlyphs">0.8</text>
<path fill="#000" transform="translate(994.39 730.60) scale(18.156 -17.800)" d="M0.392 0L0.252 0L0.252 0.503C0.200 0.455 0.130 0.420 0.055 0.395L0.055 0.522C0.150 0.556 0.240 0.622 0.286 0.716L0.392 0.716Z"/>
<text x="994.39" y="730.60" font-family="Liberation Sans" font-weight="bold" font-size="17.80" fill="#000" textLength="25.24" lengthAdjust="spacingAndGlyphs"> .0</text>
<text x="771.28" y="760.20" font-family="Liberation Sans" font-weight="bold" font-size="17.80" fill="#000">V</text>
<text x="782.95" y="766.80" font-family="Liberation Sans" font-weight="bold" font-size="10.50" fill="#000" textLength="8.58" lengthAdjust="spacingAndGlyphs">G</text>
<text x="791.50" y="760.20" font-family="Liberation Sans" font-weight="bold" font-size="17.80" fill="#000">-</text>
<text x="797.18" y="760.20" font-family="Liberation Sans" font-weight="bold" font-size="17.80" fill="#000" textLength="11.64" lengthAdjust="spacingAndGlyphs">V</text>
<text x="809.49" y="766.80" font-family="Liberation Sans" font-weight="bold" font-size="10.00" fill="#000" textLength="5.80" lengthAdjust="spacingAndGlyphs">T</text>
<text x="820.51" y="760.20" font-family="Liberation Sans" font-weight="bold" font-size="17.80" fill="#000">(V)</text>
<g transform="translate(558.90 587.80) rotate(-90)">
<text x="-1.20" y="0" font-family="Liberation Sans" font-weight="bold" font-size="18.00">I</text>
<text x="4.30" y="6.80" font-family="Liberation Sans" font-weight="bold" font-size="10.50">D</text>
<text x="11.88" y="0" font-family="Liberation Sans" font-weight="bold" font-size="18.00" xml:space="preserve"> (µA)</text>
</g>
<rect x="647.80" y="443.90" width="76.60" height="146.50" fill="#fff" stroke="#555" stroke-width="1"/>
<text x="648.87" y="465.30" font-family="Liberation Sans" font-weight="bold" font-size="17.90" fill="#000" textLength="12.66" lengthAdjust="spacingAndGlyphs">V</text>
<text x="660.63" y="472.40" font-family="Liberation Sans" font-weight="bold" font-size="11.00" fill="#000" textLength="8.34" lengthAdjust="spacingAndGlyphs">D</text>
<text x="673.17" y="465.30" font-family="Liberation Sans" font-weight="bold" font-size="17.90" fill="#000" textLength="24.82" lengthAdjust="spacingAndGlyphs">(V)</text>
<path fill="#000000" d="M665.65 484.65h6.50v6.50h-6.50z"/>
<text x="695.01" y="493.90" font-family="Liberation Sans" font-weight="bold" font-size="18.00" fill="#000" textLength="24.27" lengthAdjust="spacingAndGlyphs">0.0</text>
<g fill="#ff0000">
<ellipse cx="668.9" cy="510.3" rx="4.00" ry="4.00"/>
</g>
<path fill="#000" transform="translate(709.57 516.30) scale(17.460 -18.000)" d="M0.392 0L0.252 0L0.252 0.503C0.200 0.455 0.130 0.420 0.055 0.395L0.055 0.522C0.150 0.556 0.240 0.622 0.286 0.716L0.392 0.716Z"/>
<text x="695.01" y="516.30" font-family="Liberation Sans" font-weight="bold" font-size="18.00" fill="#000" textLength="24.27" lengthAdjust="spacingAndGlyphs">0. </text>
<path fill="#00ff00" d="M668.90 529.05L673.40 536.55L664.40 536.55z"/>
<text x="695.01" y="538.80" font-family="Liberation Sans" font-weight="bold" font-size="18.00" fill="#000" textLength="24.27" lengthAdjust="spacingAndGlyphs">0.2</text>
<path fill="#0000ff" d="M668.90 558.95L673.40 551.45L664.40 551.45z"/>
<text x="695.01" y="561.20" font-family="Liberation Sans" font-weight="bold" font-size="18.00" fill="#000" textLength="24.27" lengthAdjust="spacingAndGlyphs">0.3</text>
<path fill="#00ffff" d="M668.90 572.95L673.90 577.70L668.90 582.45L663.90 577.70z"/>
<text x="695.01" y="583.70" font-family="Liberation Sans" font-weight="bold" font-size="18.00" fill="#000" textLength="24.27" lengthAdjust="spacingAndGlyphs">0.4</text>
<g transform="translate(782.25 805.80) scale(0.920 1)"><text x="-19.31" y="0" font-family="Liberation Serif" font-size="31.60">(<tspan font-weight="bold">d</tspan>)</text></g>
</svg>
</g></svg></body></html>
